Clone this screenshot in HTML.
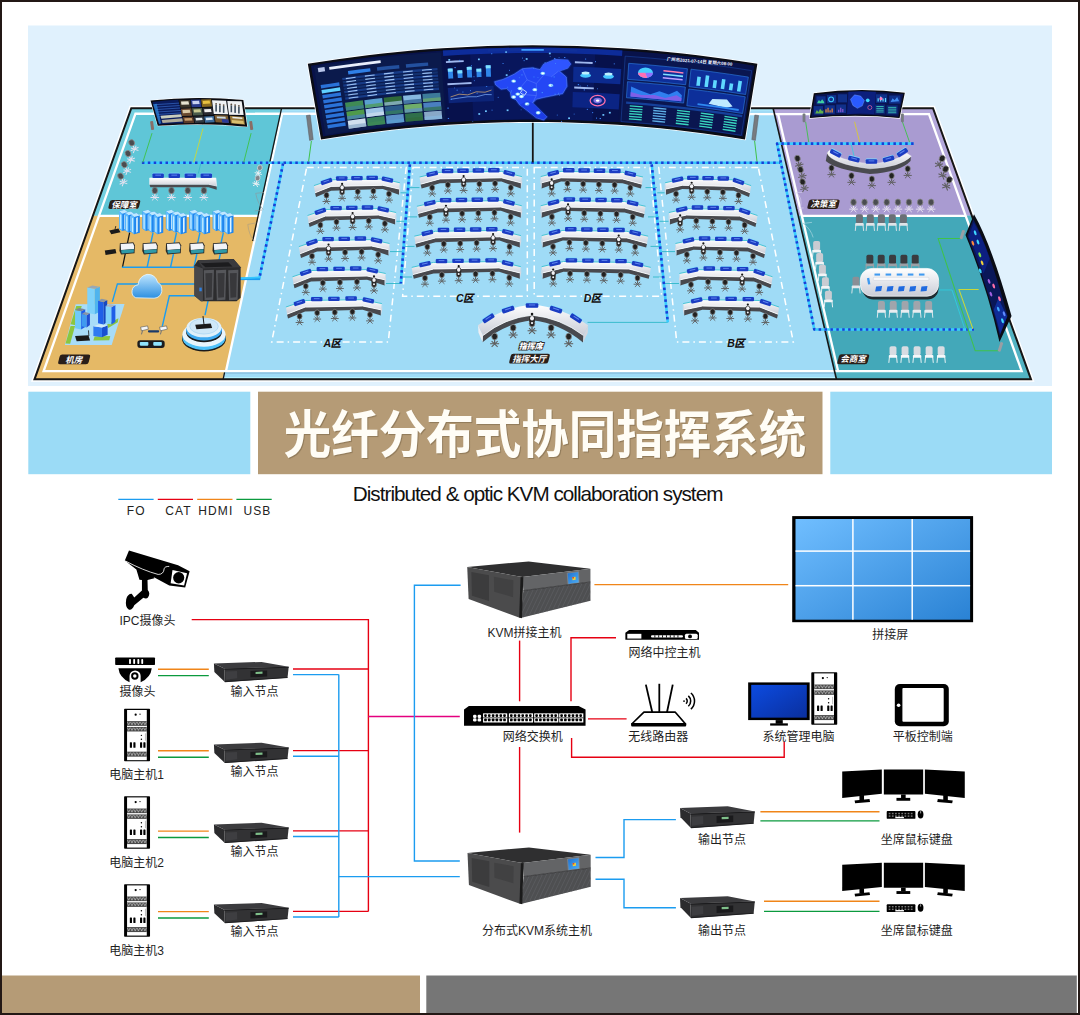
<!DOCTYPE html>
<html lang="zh-CN">
<head>
<meta charset="utf-8">
<title>光纤分布式协同指挥系统</title>
<style>
html,body{margin:0;padding:0;background:#fff;}
body{width:1080px;height:1015px;overflow:hidden;position:relative;font-family:"Liberation Sans","Noto Sans CJK SC",sans-serif;}
svg{position:absolute;left:0;top:0;display:block}
text{font-family:"Liberation Sans","Noto Sans CJK SC",sans-serif;}
.lbl{font-size:12px;fill:#1f1f1f;text-anchor:middle;}
.leg{font-size:12px;fill:#222;text-anchor:middle;letter-spacing:1.1px}
.room{font-size:8.5px;font-weight:700;fill:#fff;font-style:italic;text-anchor:middle}
.zone{font-size:10.5px;font-weight:900;fill:#141010;text-anchor:middle;letter-spacing:-.6px}
.ln{fill:none;stroke-width:1.4}
.r{stroke:#e60012}.b{stroke:#1b9cf0}.o{stroke:#f08519}.g{stroke:#0b9a3e}.m{stroke:#e4007f}
</style>
</head>
<body>
<svg width="1080" height="1015" viewBox="0 0 1080 1015">
<defs>
<linearGradient id="gWall" x1="0" y1="0" x2="1" y2="1"><stop offset="0" stop-color="#70beff"/><stop offset="1" stop-color="#2a82d4"/></linearGradient>
<linearGradient id="gMon" x1="0" y1="0" x2="1" y2="1"><stop offset="0" stop-color="#0c4be0"/><stop offset="1" stop-color="#0a2f9e"/></linearGradient>
<linearGradient id="gScr" x1="0" y1="0" x2="1" y2="1"><stop offset="0" stop-color="#1e6fd0"/><stop offset="1" stop-color="#4fb0f5"/></linearGradient>
<linearGradient id="gBig" x1="0" y1="0" x2="1" y2="0"><stop offset="0" stop-color="#0a1a55"/><stop offset=".5" stop-color="#0b2a8a"/><stop offset="1" stop-color="#0a1a55"/></linearGradient>
<linearGradient id="gCloud" x1="0" y1="0" x2="0" y2="1"><stop offset="0" stop-color="#bfe6ff"/><stop offset="1" stop-color="#2d8fe0"/></linearGradient>
<linearGradient id="gDesk" x1="0" y1="0" x2="0" y2="1"><stop offset="0" stop-color="#ffffff"/><stop offset="1" stop-color="#c9ccd6"/></linearGradient>
<clipPath id="cpBand"><polygon points="494,292 975,232 975,365 474,488"/></clipPath>
</defs>
<!-- frame -->
<rect x="0" y="0" width="1080" height="1015" fill="#fff"/>
<rect x="1" y="1" width="1078" height="1013" fill="none" stroke="#231815" stroke-width="2"/>
<!-- top pale panel -->
<rect x="28" y="25.5" width="1024" height="360.5" fill="#e0f1fd"/>
<g id="scene">
<polygon points="131.3,108.2 933,108.2 1031,379.3 34.5,379.3" fill="none" stroke="#ffffff" stroke-width="5" stroke-linejoin="miter"/>
<polygon points="131.3,108.2 933,108.2 1031,379.3 34.5,379.3" fill="#9fdbf6" />
<polygon points="131.3,108.2 281.6,108.2 258.14,215.8 92.84,215.8" fill="#74d0e0" />
<polygon points="92.84,215.8 258.14,215.8 222.5,379.3 34.5,379.3" fill="#e8bd6e" />
<polygon points="135.47,113.7 282.1,113.7 259.84,215.8 99.04,215.8" fill="#5fc6d7" />
<polygon points="99.04,215.8 259.84,215.8 225.97,371.2 43.59,371.2" fill="#e5b966" />
<polygon points="773.14,108.2 933,108.2 972.03,215.8 798.26,215.8" fill="#b3a7da" />
<polygon points="798.26,215.8 972.03,215.8 1031,379.3 836.44,379.3" fill="#52b3c3" />
<polygon points="778.19,114.4 929.05,114.4 965.63,215.8 801.86,215.8" fill="#a99bd1" />
<polygon points="801.86,215.8 965.63,215.8 1021.68,371.2 838.15,371.2" fill="#43a8b9" />
<polyline points="43.59,371.2 135.47,113.7 928.98,114.2 1021.68,371.2 43.59,371.2 47.59,360" fill="none" stroke="#ffffff" stroke-width="2.3" />
<polyline points="282.1,113.7 225.97,371.2" fill="none" stroke="#ffffff" stroke-width="2.3" />
<polyline points="778.14,114.2 838.15,371.2" fill="none" stroke="#ffffff" stroke-width="2.3" />
<polyline points="99.04,215.8 259.84,215.8" fill="none" stroke="#ffffff" stroke-width="2.3" />
<polyline points="801.86,215.8 965.63,215.8" fill="none" stroke="#ffffff" stroke-width="2.3" />
<polyline points="225.37,373 833.97,373" fill="none" stroke="#6f9fc6" stroke-width="1" opacity=".7"/>
<polyline points="224.37,377.6 835.04,377.6" fill="none" stroke="#b4f2ff" stroke-width="1.2" />
<polyline points="282.25,109.8 772.51,109.8" fill="none" stroke="#b4f2ff" stroke-width="1.2" opacity=".8"/>
<polyline points="224.6,372.4 223.1,379.3" fill="none" stroke="#161616" stroke-width="1.3" />
<polygon points="131.3,108.2 933,108.2 1031,379.3 34.5,379.3" fill="none" stroke="#161616" stroke-width="2" stroke-linejoin="miter"/>
<polyline points="281.6,108.2 252.65,241" fill="none" stroke="#161616" stroke-width="1.3" />
<polyline points="773.14,108.2 836.44,379.3" fill="none" stroke="#161616" stroke-width="1.6" />
<polygon points="306.7,167.5 406.2,167.5 388.3,341.9 271.7,341.9" fill="none" stroke="#ffffff" stroke-width="1.5" stroke-dasharray="7 4 1.5 4"/>
<polygon points="413,167.5 527.3,167.5 527.3,296.2 402.6,296.2" fill="none" stroke="#ffffff" stroke-width="1.5" stroke-dasharray="7 4 1.5 4"/>
<polygon points="758.3,167.5 658.8,167.5 676.7,341.9 793.3,341.9" fill="none" stroke="#ffffff" stroke-width="1.5" stroke-dasharray="7 4 1.5 4"/>
<polygon points="534.2,167.5 650,167.5 661.6,296.2 534.2,296.2" fill="none" stroke="#ffffff" stroke-width="1.5" stroke-dasharray="7 4 1.5 4"/>
<polyline points="400.5,192.8 407.73,192.8" fill="none" stroke="#2fb8c8" stroke-width="0.9" />
<polyline points="664.5,192.8 657.27,192.8" fill="none" stroke="#2fb8c8" stroke-width="0.9" />
<polyline points="396.5,221.3 405.55,221.3" fill="none" stroke="#2fb8c8" stroke-width="0.9" />
<polyline points="668.5,221.3 659.45,221.3" fill="none" stroke="#2fb8c8" stroke-width="0.9" />
<polyline points="390,251.6 403.24,251.6" fill="none" stroke="#2fb8c8" stroke-width="0.9" />
<polyline points="675,251.6 661.76,251.6" fill="none" stroke="#2fb8c8" stroke-width="0.9" />
<polyline points="386,283.5 400.81,283.5" fill="none" stroke="#2fb8c8" stroke-width="0.9" />
<polyline points="679,283.5 664.19,283.5" fill="none" stroke="#2fb8c8" stroke-width="0.9" />
<polyline points="408.12,187.6 419.5,187.6" fill="none" stroke="#2fb8c8" stroke-width="0.9" />
<polyline points="656.88,187.6 645.5,187.6" fill="none" stroke="#2fb8c8" stroke-width="0.9" />
<polyline points="405.89,216.9 417,216.9" fill="none" stroke="#2fb8c8" stroke-width="0.9" />
<polyline points="659.11,216.9 648,216.9" fill="none" stroke="#2fb8c8" stroke-width="0.9" />
<polyline points="403.64,246.4 414.5,246.4" fill="none" stroke="#2fb8c8" stroke-width="0.9" />
<polyline points="661.36,246.4 650.5,246.4" fill="none" stroke="#2fb8c8" stroke-width="0.9" />
<polyline points="401.3,277 412,277" fill="none" stroke="#2fb8c8" stroke-width="0.9" />
<polyline points="663.7,277 653,277" fill="none" stroke="#2fb8c8" stroke-width="0.9" />
<polyline points="587.5,322.4 667.8,322.4" fill="none" stroke="#2fb8c8" stroke-width="0.9" />
<polyline points="141.9,162.8 781,162.8" fill="none" stroke="#38ccff" stroke-width="2.6" stroke-linejoin="round"/><polyline points="141.9,162.8 781,162.8" fill="none" stroke="#1a3ed6" stroke-width="2.6" stroke-dasharray="2.5 3.4" stroke-linejoin="round"/>
<polyline points="283.1,163.4 259.3,278.6" fill="none" stroke="#38ccff" stroke-width="2.6" stroke-linejoin="round"/><polyline points="283.1,163.4 259.3,278.6" fill="none" stroke="#1a3ed6" stroke-width="2.6" stroke-dasharray="2.5 3.4" stroke-linejoin="round"/>
<polyline points="260.2,278.8 239,278.8" fill="none" stroke="#1b9cf0" stroke-width="2.6" />
<polyline points="409.9,164.3 400.8,283.5" fill="none" stroke="#38ccff" stroke-width="2.6" stroke-linejoin="round"/><polyline points="409.9,164.3 400.8,283.5" fill="none" stroke="#1a3ed6" stroke-width="2.6" stroke-dasharray="2.5 3.4" stroke-linejoin="round"/>
<polyline points="651.7,164.3 667.8,322.4" fill="none" stroke="#38ccff" stroke-width="2.6" stroke-linejoin="round"/><polyline points="651.7,164.3 667.8,322.4" fill="none" stroke="#1a3ed6" stroke-width="2.6" stroke-dasharray="2.5 3.4" stroke-linejoin="round"/>
<polyline points="913.6,143.6 777.1,143.6 814.3,329.5 974,329.5" fill="none" stroke="#38ccff" stroke-width="2.6" stroke-linejoin="round"/><polyline points="913.6,143.6 777.1,143.6 814.3,329.5 974,329.5" fill="none" stroke="#1a3ed6" stroke-width="2.6" stroke-dasharray="2.5 3.4" stroke-linejoin="round"/>
<polyline points="532.8,122 532.8,162.4" fill="none" stroke="#151515" stroke-width="1.8" />
<polyline points="311.4,141 308.6,161.5" fill="none" stroke="#3fc24a" stroke-width="1" />
<polyline points="754.6,141 757,161.5" fill="none" stroke="#3fc24a" stroke-width="1" />
<polygon points="315,192.8 331.12,186.4 382.78,185.3 399,189 399,194.8 382.78,189.1 331.12,190.8 316,197" fill="#48494e" /><polygon points="399,189 400.3,183.8 400.3,188.8 399,194.8" fill="#d7d9e2" /><polygon points="313.9,185.6 331.12,179.8 382.78,178.9 400,182.8 399,189 382.78,185.3 331.12,186.4 315,192.8" fill="url(#gDesk)" /><polyline points="315,192.8 331.12,186.4 382.78,185.3 399,189" fill="none" stroke="#ffffff" stroke-width="0.9" /><polyline points="313.9,185.6 331.12,179.8 382.78,178.9 400,182.8" fill="none" stroke="#45c4d6" stroke-width="1" /><g transform="translate(326.51 181.5) rotate(-18.61)"><rect x="-5.75" y="-2.9" width="11.5" height="4.4" rx="1.2" fill="#7fdcff"/><rect x="-5.75" y="-2.2" width="11.5" height="4.4" rx="1.1" fill="#1b3cc2"/><rect x="-2.88" y="-1" width="5.75" height="1" fill="#5f86ee"/></g><g transform="translate(341.73 178.45) rotate(0)"><rect x="-5.75" y="-2.9" width="11.5" height="4.4" rx="1.2" fill="#7fdcff"/><rect x="-5.75" y="-2.2" width="11.5" height="4.4" rx="1.1" fill="#1b3cc2"/><rect x="-2.88" y="-1" width="5.75" height="1" fill="#5f86ee"/></g><g transform="translate(356.95 178.15) rotate(0)"><rect x="-5.75" y="-2.9" width="11.5" height="4.4" rx="1.2" fill="#7fdcff"/><rect x="-5.75" y="-2.2" width="11.5" height="4.4" rx="1.1" fill="#1b3cc2"/><rect x="-2.88" y="-1" width="5.75" height="1" fill="#5f86ee"/></g><g transform="translate(372.17 177.85) rotate(0)"><rect x="-5.75" y="-2.9" width="11.5" height="4.4" rx="1.2" fill="#7fdcff"/><rect x="-5.75" y="-2.2" width="11.5" height="4.4" rx="1.1" fill="#1b3cc2"/><rect x="-2.88" y="-1" width="5.75" height="1" fill="#5f86ee"/></g><g transform="translate(387.39 179.65) rotate(12.76)"><rect x="-5.75" y="-2.9" width="11.5" height="4.4" rx="1.2" fill="#7fdcff"/><rect x="-5.75" y="-2.2" width="11.5" height="4.4" rx="1.1" fill="#1b3cc2"/><rect x="-2.88" y="-1" width="5.75" height="1" fill="#5f86ee"/></g><line x1="326.49" y1="197.19" x2="326.49" y2="200.79" stroke="#5e5e5e" stroke-width="1.1"/><line x1="322.59" y1="201.49" x2="330.39" y2="201.49" stroke="#5e5e5e" stroke-width="0.9"/><line x1="323.89" y1="199.19" x2="329.09" y2="204.19" stroke="#5e5e5e" stroke-width="0.9"/><line x1="329.09" y1="199.19" x2="323.89" y2="204.19" stroke="#5e5e5e" stroke-width="0.9"/><ellipse cx="326.49" cy="195.19" rx="2.5" ry="2.9" fill="#222222" stroke="#8a8a8a" stroke-width="0.7"/><line x1="342.11" y1="194.09" x2="342.11" y2="197.69" stroke="#5e5e5e" stroke-width="1.1"/><line x1="338.21" y1="198.39" x2="346.01" y2="198.39" stroke="#5e5e5e" stroke-width="0.9"/><line x1="339.51" y1="196.09" x2="344.71" y2="201.09" stroke="#5e5e5e" stroke-width="0.9"/><line x1="344.71" y1="196.09" x2="339.51" y2="201.09" stroke="#5e5e5e" stroke-width="0.9"/><ellipse cx="342.11" cy="192.09" rx="2.5" ry="2.9" fill="#222222" stroke="#8a8a8a" stroke-width="0.7"/><ellipse cx="342.11" cy="188.69" rx="2.6" ry="3.6" fill="#2a2a2a"/><ellipse cx="342.11" cy="187.49" rx="1.7" ry="2" fill="#f2f2f6"/><circle cx="342.11" cy="183.89" r="1.1" fill="#151515"/><circle cx="342.11" cy="191.69" r="1" fill="#f2f2f6"/><line x1="357.73" y1="193.52" x2="357.73" y2="197.12" stroke="#5e5e5e" stroke-width="1.1"/><line x1="353.83" y1="197.82" x2="361.63" y2="197.82" stroke="#5e5e5e" stroke-width="0.9"/><line x1="355.13" y1="195.52" x2="360.33" y2="200.52" stroke="#5e5e5e" stroke-width="0.9"/><line x1="360.33" y1="195.52" x2="355.13" y2="200.52" stroke="#5e5e5e" stroke-width="0.9"/><ellipse cx="357.73" cy="191.52" rx="2.5" ry="2.9" fill="#222222" stroke="#8a8a8a" stroke-width="0.7"/><line x1="373.35" y1="192.96" x2="373.35" y2="196.56" stroke="#5e5e5e" stroke-width="1.1"/><line x1="369.45" y1="197.25" x2="377.25" y2="197.25" stroke="#5e5e5e" stroke-width="0.9"/><line x1="370.75" y1="194.96" x2="375.95" y2="199.96" stroke="#5e5e5e" stroke-width="0.9"/><line x1="375.95" y1="194.96" x2="370.75" y2="199.96" stroke="#5e5e5e" stroke-width="0.9"/><ellipse cx="373.35" cy="190.96" rx="2.5" ry="2.9" fill="#222222" stroke="#8a8a8a" stroke-width="0.7"/><line x1="388.97" y1="195.84" x2="388.97" y2="199.44" stroke="#5e5e5e" stroke-width="1.1"/><line x1="385.07" y1="200.13" x2="392.87" y2="200.13" stroke="#5e5e5e" stroke-width="0.9"/><line x1="386.37" y1="197.84" x2="391.57" y2="202.84" stroke="#5e5e5e" stroke-width="0.9"/><line x1="391.57" y1="197.84" x2="386.37" y2="202.84" stroke="#5e5e5e" stroke-width="0.9"/><ellipse cx="388.97" cy="193.84" rx="2.5" ry="2.9" fill="#222222" stroke="#8a8a8a" stroke-width="0.7"/>
<g transform="translate(1065 0) scale(-1 1)"><polygon points="315,192.8 331.12,186.4 382.78,185.3 399,189 399,194.8 382.78,189.1 331.12,190.8 316,197" fill="#48494e" /><polygon points="399,189 400.3,183.8 400.3,188.8 399,194.8" fill="#d7d9e2" /><polygon points="313.9,185.6 331.12,179.8 382.78,178.9 400,182.8 399,189 382.78,185.3 331.12,186.4 315,192.8" fill="url(#gDesk)" /><polyline points="315,192.8 331.12,186.4 382.78,185.3 399,189" fill="none" stroke="#ffffff" stroke-width="0.9" /><polyline points="313.9,185.6 331.12,179.8 382.78,178.9 400,182.8" fill="none" stroke="#45c4d6" stroke-width="1" /><g transform="translate(326.51 181.5) rotate(-18.61)"><rect x="-5.75" y="-2.9" width="11.5" height="4.4" rx="1.2" fill="#7fdcff"/><rect x="-5.75" y="-2.2" width="11.5" height="4.4" rx="1.1" fill="#1b3cc2"/><rect x="-2.88" y="-1" width="5.75" height="1" fill="#5f86ee"/></g><g transform="translate(341.73 178.45) rotate(0)"><rect x="-5.75" y="-2.9" width="11.5" height="4.4" rx="1.2" fill="#7fdcff"/><rect x="-5.75" y="-2.2" width="11.5" height="4.4" rx="1.1" fill="#1b3cc2"/><rect x="-2.88" y="-1" width="5.75" height="1" fill="#5f86ee"/></g><g transform="translate(356.95 178.15) rotate(0)"><rect x="-5.75" y="-2.9" width="11.5" height="4.4" rx="1.2" fill="#7fdcff"/><rect x="-5.75" y="-2.2" width="11.5" height="4.4" rx="1.1" fill="#1b3cc2"/><rect x="-2.88" y="-1" width="5.75" height="1" fill="#5f86ee"/></g><g transform="translate(372.17 177.85) rotate(0)"><rect x="-5.75" y="-2.9" width="11.5" height="4.4" rx="1.2" fill="#7fdcff"/><rect x="-5.75" y="-2.2" width="11.5" height="4.4" rx="1.1" fill="#1b3cc2"/><rect x="-2.88" y="-1" width="5.75" height="1" fill="#5f86ee"/></g><g transform="translate(387.39 179.65) rotate(12.76)"><rect x="-5.75" y="-2.9" width="11.5" height="4.4" rx="1.2" fill="#7fdcff"/><rect x="-5.75" y="-2.2" width="11.5" height="4.4" rx="1.1" fill="#1b3cc2"/><rect x="-2.88" y="-1" width="5.75" height="1" fill="#5f86ee"/></g><line x1="326.49" y1="197.19" x2="326.49" y2="200.79" stroke="#5e5e5e" stroke-width="1.1"/><line x1="322.59" y1="201.49" x2="330.39" y2="201.49" stroke="#5e5e5e" stroke-width="0.9"/><line x1="323.89" y1="199.19" x2="329.09" y2="204.19" stroke="#5e5e5e" stroke-width="0.9"/><line x1="329.09" y1="199.19" x2="323.89" y2="204.19" stroke="#5e5e5e" stroke-width="0.9"/><ellipse cx="326.49" cy="195.19" rx="2.5" ry="2.9" fill="#222222" stroke="#8a8a8a" stroke-width="0.7"/><line x1="342.11" y1="194.09" x2="342.11" y2="197.69" stroke="#5e5e5e" stroke-width="1.1"/><line x1="338.21" y1="198.39" x2="346.01" y2="198.39" stroke="#5e5e5e" stroke-width="0.9"/><line x1="339.51" y1="196.09" x2="344.71" y2="201.09" stroke="#5e5e5e" stroke-width="0.9"/><line x1="344.71" y1="196.09" x2="339.51" y2="201.09" stroke="#5e5e5e" stroke-width="0.9"/><ellipse cx="342.11" cy="192.09" rx="2.5" ry="2.9" fill="#222222" stroke="#8a8a8a" stroke-width="0.7"/><line x1="357.73" y1="193.52" x2="357.73" y2="197.12" stroke="#5e5e5e" stroke-width="1.1"/><line x1="353.83" y1="197.82" x2="361.63" y2="197.82" stroke="#5e5e5e" stroke-width="0.9"/><line x1="355.13" y1="195.52" x2="360.33" y2="200.52" stroke="#5e5e5e" stroke-width="0.9"/><line x1="360.33" y1="195.52" x2="355.13" y2="200.52" stroke="#5e5e5e" stroke-width="0.9"/><ellipse cx="357.73" cy="191.52" rx="2.5" ry="2.9" fill="#222222" stroke="#8a8a8a" stroke-width="0.7"/><line x1="373.35" y1="192.96" x2="373.35" y2="196.56" stroke="#5e5e5e" stroke-width="1.1"/><line x1="369.45" y1="197.25" x2="377.25" y2="197.25" stroke="#5e5e5e" stroke-width="0.9"/><line x1="370.75" y1="194.96" x2="375.95" y2="199.96" stroke="#5e5e5e" stroke-width="0.9"/><line x1="375.95" y1="194.96" x2="370.75" y2="199.96" stroke="#5e5e5e" stroke-width="0.9"/><ellipse cx="373.35" cy="190.96" rx="2.5" ry="2.9" fill="#222222" stroke="#8a8a8a" stroke-width="0.7"/><ellipse cx="373.35" cy="187.56" rx="2.6" ry="3.6" fill="#2a2a2a"/><ellipse cx="373.35" cy="186.36" rx="1.7" ry="2" fill="#f2f2f6"/><circle cx="373.35" cy="182.76" r="1.1" fill="#151515"/><circle cx="373.35" cy="190.56" r="1" fill="#f2f2f6"/><line x1="388.97" y1="195.84" x2="388.97" y2="199.44" stroke="#5e5e5e" stroke-width="1.1"/><line x1="385.07" y1="200.13" x2="392.87" y2="200.13" stroke="#5e5e5e" stroke-width="0.9"/><line x1="386.37" y1="197.84" x2="391.57" y2="202.84" stroke="#5e5e5e" stroke-width="0.9"/><line x1="391.57" y1="197.84" x2="386.37" y2="202.84" stroke="#5e5e5e" stroke-width="0.9"/><ellipse cx="388.97" cy="193.84" rx="2.5" ry="2.9" fill="#222222" stroke="#8a8a8a" stroke-width="0.7"/></g>
<polygon points="308.6,222.7 325.22,216.1 378.38,215 395.1,218.7 395.1,224.5 378.38,218.8 325.22,220.5 309.6,226.9" fill="#48494e" /><polygon points="395.1,218.7 396.4,213.5 396.4,218.5 395.1,224.5" fill="#d7d9e2" /><polygon points="307.5,215.5 325.22,209.5 378.38,208.6 396.1,212.5 395.1,218.7 378.38,215 325.22,216.1 308.6,222.7" fill="url(#gDesk)" /><polyline points="308.6,222.7 325.22,216.1 378.38,215 395.1,218.7" fill="none" stroke="#ffffff" stroke-width="0.9" /><polyline points="307.5,215.5 325.22,209.5 378.38,208.6 396.1,212.5" fill="none" stroke="#45c4d6" stroke-width="1" /><g transform="translate(320.36 211.3) rotate(-18.71)"><rect x="-5.75" y="-2.9" width="11.5" height="4.4" rx="1.2" fill="#7fdcff"/><rect x="-5.75" y="-2.2" width="11.5" height="4.4" rx="1.1" fill="#1b3cc2"/><rect x="-2.88" y="-1" width="5.75" height="1" fill="#5f86ee"/></g><g transform="translate(336.08 208.15) rotate(0)"><rect x="-5.75" y="-2.9" width="11.5" height="4.4" rx="1.2" fill="#7fdcff"/><rect x="-5.75" y="-2.2" width="11.5" height="4.4" rx="1.1" fill="#1b3cc2"/><rect x="-2.88" y="-1" width="5.75" height="1" fill="#5f86ee"/></g><g transform="translate(351.8 207.85) rotate(0)"><rect x="-5.75" y="-2.9" width="11.5" height="4.4" rx="1.2" fill="#7fdcff"/><rect x="-5.75" y="-2.2" width="11.5" height="4.4" rx="1.1" fill="#1b3cc2"/><rect x="-2.88" y="-1" width="5.75" height="1" fill="#5f86ee"/></g><g transform="translate(367.52 207.55) rotate(0)"><rect x="-5.75" y="-2.9" width="11.5" height="4.4" rx="1.2" fill="#7fdcff"/><rect x="-5.75" y="-2.2" width="11.5" height="4.4" rx="1.1" fill="#1b3cc2"/><rect x="-2.88" y="-1" width="5.75" height="1" fill="#5f86ee"/></g><g transform="translate(383.24 209.35) rotate(12.41)"><rect x="-5.75" y="-2.9" width="11.5" height="4.4" rx="1.2" fill="#7fdcff"/><rect x="-5.75" y="-2.2" width="11.5" height="4.4" rx="1.1" fill="#1b3cc2"/><rect x="-2.88" y="-1" width="5.75" height="1" fill="#5f86ee"/></g><line x1="320.37" y1="226.98" x2="320.37" y2="230.58" stroke="#5e5e5e" stroke-width="1.1"/><line x1="316.47" y1="231.28" x2="324.27" y2="231.28" stroke="#5e5e5e" stroke-width="0.9"/><line x1="317.77" y1="228.98" x2="322.97" y2="233.98" stroke="#5e5e5e" stroke-width="0.9"/><line x1="322.97" y1="228.98" x2="317.77" y2="233.98" stroke="#5e5e5e" stroke-width="0.9"/><ellipse cx="320.37" cy="224.98" rx="2.5" ry="2.9" fill="#222222" stroke="#8a8a8a" stroke-width="0.7"/><line x1="336.49" y1="223.79" x2="336.49" y2="227.39" stroke="#5e5e5e" stroke-width="1.1"/><line x1="332.59" y1="228.09" x2="340.39" y2="228.09" stroke="#5e5e5e" stroke-width="0.9"/><line x1="333.89" y1="225.79" x2="339.09" y2="230.79" stroke="#5e5e5e" stroke-width="0.9"/><line x1="339.09" y1="225.79" x2="333.89" y2="230.79" stroke="#5e5e5e" stroke-width="0.9"/><ellipse cx="336.49" cy="221.79" rx="2.5" ry="2.9" fill="#222222" stroke="#8a8a8a" stroke-width="0.7"/><line x1="352.61" y1="223.22" x2="352.61" y2="226.82" stroke="#5e5e5e" stroke-width="1.1"/><line x1="348.71" y1="227.52" x2="356.51" y2="227.52" stroke="#5e5e5e" stroke-width="0.9"/><line x1="350.01" y1="225.22" x2="355.21" y2="230.22" stroke="#5e5e5e" stroke-width="0.9"/><line x1="355.21" y1="225.22" x2="350.01" y2="230.22" stroke="#5e5e5e" stroke-width="0.9"/><ellipse cx="352.61" cy="221.22" rx="2.5" ry="2.9" fill="#222222" stroke="#8a8a8a" stroke-width="0.7"/><ellipse cx="352.61" cy="217.82" rx="2.6" ry="3.6" fill="#2a2a2a"/><ellipse cx="352.61" cy="216.62" rx="1.7" ry="2" fill="#f2f2f6"/><circle cx="352.61" cy="213.02" r="1.1" fill="#151515"/><circle cx="352.61" cy="220.82" r="1" fill="#f2f2f6"/><line x1="368.73" y1="222.66" x2="368.73" y2="226.25" stroke="#5e5e5e" stroke-width="1.1"/><line x1="364.83" y1="226.95" x2="372.63" y2="226.95" stroke="#5e5e5e" stroke-width="0.9"/><line x1="366.13" y1="224.66" x2="371.33" y2="229.66" stroke="#5e5e5e" stroke-width="0.9"/><line x1="371.33" y1="224.66" x2="366.13" y2="229.66" stroke="#5e5e5e" stroke-width="0.9"/><ellipse cx="368.73" cy="220.66" rx="2.5" ry="2.9" fill="#222222" stroke="#8a8a8a" stroke-width="0.7"/><line x1="384.85" y1="225.53" x2="384.85" y2="229.13" stroke="#5e5e5e" stroke-width="1.1"/><line x1="380.95" y1="229.83" x2="388.75" y2="229.83" stroke="#5e5e5e" stroke-width="0.9"/><line x1="382.25" y1="227.53" x2="387.45" y2="232.53" stroke="#5e5e5e" stroke-width="0.9"/><line x1="387.45" y1="227.53" x2="382.25" y2="232.53" stroke="#5e5e5e" stroke-width="0.9"/><ellipse cx="384.85" cy="223.53" rx="2.5" ry="2.9" fill="#222222" stroke="#8a8a8a" stroke-width="0.7"/>
<g transform="translate(1065 0) scale(-1 1)"><polygon points="308.6,222.7 325.22,216.1 378.38,215 395.1,218.7 395.1,224.5 378.38,218.8 325.22,220.5 309.6,226.9" fill="#48494e" /><polygon points="395.1,218.7 396.4,213.5 396.4,218.5 395.1,224.5" fill="#d7d9e2" /><polygon points="307.5,215.5 325.22,209.5 378.38,208.6 396.1,212.5 395.1,218.7 378.38,215 325.22,216.1 308.6,222.7" fill="url(#gDesk)" /><polyline points="308.6,222.7 325.22,216.1 378.38,215 395.1,218.7" fill="none" stroke="#ffffff" stroke-width="0.9" /><polyline points="307.5,215.5 325.22,209.5 378.38,208.6 396.1,212.5" fill="none" stroke="#45c4d6" stroke-width="1" /><g transform="translate(320.36 211.3) rotate(-18.71)"><rect x="-5.75" y="-2.9" width="11.5" height="4.4" rx="1.2" fill="#7fdcff"/><rect x="-5.75" y="-2.2" width="11.5" height="4.4" rx="1.1" fill="#1b3cc2"/><rect x="-2.88" y="-1" width="5.75" height="1" fill="#5f86ee"/></g><g transform="translate(336.08 208.15) rotate(0)"><rect x="-5.75" y="-2.9" width="11.5" height="4.4" rx="1.2" fill="#7fdcff"/><rect x="-5.75" y="-2.2" width="11.5" height="4.4" rx="1.1" fill="#1b3cc2"/><rect x="-2.88" y="-1" width="5.75" height="1" fill="#5f86ee"/></g><g transform="translate(351.8 207.85) rotate(0)"><rect x="-5.75" y="-2.9" width="11.5" height="4.4" rx="1.2" fill="#7fdcff"/><rect x="-5.75" y="-2.2" width="11.5" height="4.4" rx="1.1" fill="#1b3cc2"/><rect x="-2.88" y="-1" width="5.75" height="1" fill="#5f86ee"/></g><g transform="translate(367.52 207.55) rotate(0)"><rect x="-5.75" y="-2.9" width="11.5" height="4.4" rx="1.2" fill="#7fdcff"/><rect x="-5.75" y="-2.2" width="11.5" height="4.4" rx="1.1" fill="#1b3cc2"/><rect x="-2.88" y="-1" width="5.75" height="1" fill="#5f86ee"/></g><g transform="translate(383.24 209.35) rotate(12.41)"><rect x="-5.75" y="-2.9" width="11.5" height="4.4" rx="1.2" fill="#7fdcff"/><rect x="-5.75" y="-2.2" width="11.5" height="4.4" rx="1.1" fill="#1b3cc2"/><rect x="-2.88" y="-1" width="5.75" height="1" fill="#5f86ee"/></g><line x1="320.37" y1="226.98" x2="320.37" y2="230.58" stroke="#5e5e5e" stroke-width="1.1"/><line x1="316.47" y1="231.28" x2="324.27" y2="231.28" stroke="#5e5e5e" stroke-width="0.9"/><line x1="317.77" y1="228.98" x2="322.97" y2="233.98" stroke="#5e5e5e" stroke-width="0.9"/><line x1="322.97" y1="228.98" x2="317.77" y2="233.98" stroke="#5e5e5e" stroke-width="0.9"/><ellipse cx="320.37" cy="224.98" rx="2.5" ry="2.9" fill="#222222" stroke="#8a8a8a" stroke-width="0.7"/><line x1="336.49" y1="223.79" x2="336.49" y2="227.39" stroke="#5e5e5e" stroke-width="1.1"/><line x1="332.59" y1="228.09" x2="340.39" y2="228.09" stroke="#5e5e5e" stroke-width="0.9"/><line x1="333.89" y1="225.79" x2="339.09" y2="230.79" stroke="#5e5e5e" stroke-width="0.9"/><line x1="339.09" y1="225.79" x2="333.89" y2="230.79" stroke="#5e5e5e" stroke-width="0.9"/><ellipse cx="336.49" cy="221.79" rx="2.5" ry="2.9" fill="#222222" stroke="#8a8a8a" stroke-width="0.7"/><line x1="352.61" y1="223.22" x2="352.61" y2="226.82" stroke="#5e5e5e" stroke-width="1.1"/><line x1="348.71" y1="227.52" x2="356.51" y2="227.52" stroke="#5e5e5e" stroke-width="0.9"/><line x1="350.01" y1="225.22" x2="355.21" y2="230.22" stroke="#5e5e5e" stroke-width="0.9"/><line x1="355.21" y1="225.22" x2="350.01" y2="230.22" stroke="#5e5e5e" stroke-width="0.9"/><ellipse cx="352.61" cy="221.22" rx="2.5" ry="2.9" fill="#222222" stroke="#8a8a8a" stroke-width="0.7"/><line x1="368.73" y1="222.66" x2="368.73" y2="226.25" stroke="#5e5e5e" stroke-width="1.1"/><line x1="364.83" y1="226.95" x2="372.63" y2="226.95" stroke="#5e5e5e" stroke-width="0.9"/><line x1="366.13" y1="224.66" x2="371.33" y2="229.66" stroke="#5e5e5e" stroke-width="0.9"/><line x1="371.33" y1="224.66" x2="366.13" y2="229.66" stroke="#5e5e5e" stroke-width="0.9"/><ellipse cx="368.73" cy="220.66" rx="2.5" ry="2.9" fill="#222222" stroke="#8a8a8a" stroke-width="0.7"/><line x1="384.85" y1="225.53" x2="384.85" y2="229.13" stroke="#5e5e5e" stroke-width="1.1"/><line x1="380.95" y1="229.83" x2="388.75" y2="229.83" stroke="#5e5e5e" stroke-width="0.9"/><line x1="382.25" y1="227.53" x2="387.45" y2="232.53" stroke="#5e5e5e" stroke-width="0.9"/><line x1="387.45" y1="227.53" x2="382.25" y2="232.53" stroke="#5e5e5e" stroke-width="0.9"/><ellipse cx="384.85" cy="223.53" rx="2.5" ry="2.9" fill="#222222" stroke="#8a8a8a" stroke-width="0.7"/><ellipse cx="384.85" cy="220.13" rx="2.6" ry="3.6" fill="#2a2a2a"/><ellipse cx="384.85" cy="218.94" rx="1.7" ry="2" fill="#f2f2f6"/><circle cx="384.85" cy="215.34" r="1.1" fill="#151515"/><circle cx="384.85" cy="223.13" r="1" fill="#f2f2f6"/></g>
<polygon points="300,253.8 317.04,247.1 371.46,246 388.6,249.7 388.6,255.5 371.46,249.8 317.04,251.5 301,258" fill="#48494e" /><polygon points="388.6,249.7 389.9,244.5 389.9,249.5 388.6,255.5" fill="#d7d9e2" /><polygon points="298.9,246.6 317.04,240.5 371.46,239.6 389.6,243.5 388.6,249.7 371.46,246 317.04,247.1 300,253.8" fill="url(#gDesk)" /><polyline points="300,253.8 317.04,247.1 371.46,246 388.6,249.7" fill="none" stroke="#ffffff" stroke-width="0.9" /><polyline points="298.9,246.6 317.04,240.5 371.46,239.6 389.6,243.5" fill="none" stroke="#45c4d6" stroke-width="1" /><g transform="translate(311.97 242.35) rotate(-18.59)"><rect x="-5.75" y="-2.9" width="11.5" height="4.4" rx="1.2" fill="#7fdcff"/><rect x="-5.75" y="-2.2" width="11.5" height="4.4" rx="1.1" fill="#1b3cc2"/><rect x="-2.88" y="-1" width="5.75" height="1" fill="#5f86ee"/></g><g transform="translate(328.11 239.15) rotate(0)"><rect x="-5.75" y="-2.9" width="11.5" height="4.4" rx="1.2" fill="#7fdcff"/><rect x="-5.75" y="-2.2" width="11.5" height="4.4" rx="1.1" fill="#1b3cc2"/><rect x="-2.88" y="-1" width="5.75" height="1" fill="#5f86ee"/></g><g transform="translate(344.25 238.85) rotate(0)"><rect x="-5.75" y="-2.9" width="11.5" height="4.4" rx="1.2" fill="#7fdcff"/><rect x="-5.75" y="-2.2" width="11.5" height="4.4" rx="1.1" fill="#1b3cc2"/><rect x="-2.88" y="-1" width="5.75" height="1" fill="#5f86ee"/></g><g transform="translate(360.39 238.55) rotate(0)"><rect x="-5.75" y="-2.9" width="11.5" height="4.4" rx="1.2" fill="#7fdcff"/><rect x="-5.75" y="-2.2" width="11.5" height="4.4" rx="1.1" fill="#1b3cc2"/><rect x="-2.88" y="-1" width="5.75" height="1" fill="#5f86ee"/></g><g transform="translate(376.53 240.35) rotate(12.13)"><rect x="-5.75" y="-2.9" width="11.5" height="4.4" rx="1.2" fill="#7fdcff"/><rect x="-5.75" y="-2.2" width="11.5" height="4.4" rx="1.1" fill="#1b3cc2"/><rect x="-2.88" y="-1" width="5.75" height="1" fill="#5f86ee"/></g><line x1="312" y1="258.03" x2="312" y2="261.63" stroke="#5e5e5e" stroke-width="1.1"/><line x1="308.1" y1="262.33" x2="315.9" y2="262.33" stroke="#5e5e5e" stroke-width="0.9"/><line x1="309.4" y1="260.03" x2="314.6" y2="265.03" stroke="#5e5e5e" stroke-width="0.9"/><line x1="314.6" y1="260.03" x2="309.4" y2="265.03" stroke="#5e5e5e" stroke-width="0.9"/><ellipse cx="312" cy="256.03" rx="2.5" ry="2.9" fill="#222222" stroke="#8a8a8a" stroke-width="0.7"/><line x1="328.54" y1="254.79" x2="328.54" y2="258.39" stroke="#5e5e5e" stroke-width="1.1"/><line x1="324.64" y1="259.09" x2="332.44" y2="259.09" stroke="#5e5e5e" stroke-width="0.9"/><line x1="325.94" y1="256.79" x2="331.14" y2="261.79" stroke="#5e5e5e" stroke-width="0.9"/><line x1="331.14" y1="256.79" x2="325.94" y2="261.79" stroke="#5e5e5e" stroke-width="0.9"/><ellipse cx="328.54" cy="252.79" rx="2.5" ry="2.9" fill="#222222" stroke="#8a8a8a" stroke-width="0.7"/><ellipse cx="328.54" cy="249.39" rx="2.6" ry="3.6" fill="#2a2a2a"/><ellipse cx="328.54" cy="248.19" rx="1.7" ry="2" fill="#f2f2f6"/><circle cx="328.54" cy="244.59" r="1.1" fill="#151515"/><circle cx="328.54" cy="252.39" r="1" fill="#f2f2f6"/><line x1="345.08" y1="254.22" x2="345.08" y2="257.82" stroke="#5e5e5e" stroke-width="1.1"/><line x1="341.18" y1="258.52" x2="348.98" y2="258.52" stroke="#5e5e5e" stroke-width="0.9"/><line x1="342.48" y1="256.22" x2="347.68" y2="261.22" stroke="#5e5e5e" stroke-width="0.9"/><line x1="347.68" y1="256.22" x2="342.48" y2="261.22" stroke="#5e5e5e" stroke-width="0.9"/><ellipse cx="345.08" cy="252.22" rx="2.5" ry="2.9" fill="#222222" stroke="#8a8a8a" stroke-width="0.7"/><line x1="361.62" y1="253.66" x2="361.62" y2="257.25" stroke="#5e5e5e" stroke-width="1.1"/><line x1="357.72" y1="257.95" x2="365.52" y2="257.95" stroke="#5e5e5e" stroke-width="0.9"/><line x1="359.02" y1="255.66" x2="364.22" y2="260.65" stroke="#5e5e5e" stroke-width="0.9"/><line x1="364.22" y1="255.66" x2="359.02" y2="260.65" stroke="#5e5e5e" stroke-width="0.9"/><ellipse cx="361.62" cy="251.66" rx="2.5" ry="2.9" fill="#222222" stroke="#8a8a8a" stroke-width="0.7"/><line x1="378.16" y1="256.53" x2="378.16" y2="260.13" stroke="#5e5e5e" stroke-width="1.1"/><line x1="374.26" y1="260.83" x2="382.06" y2="260.83" stroke="#5e5e5e" stroke-width="0.9"/><line x1="375.56" y1="258.53" x2="380.76" y2="263.53" stroke="#5e5e5e" stroke-width="0.9"/><line x1="380.76" y1="258.53" x2="375.56" y2="263.53" stroke="#5e5e5e" stroke-width="0.9"/><ellipse cx="378.16" cy="254.53" rx="2.5" ry="2.9" fill="#222222" stroke="#8a8a8a" stroke-width="0.7"/>
<g transform="translate(1065 0) scale(-1 1)"><polygon points="300,253.8 317.04,247.1 371.46,246 388.6,249.7 388.6,255.5 371.46,249.8 317.04,251.5 301,258" fill="#48494e" /><polygon points="388.6,249.7 389.9,244.5 389.9,249.5 388.6,255.5" fill="#d7d9e2" /><polygon points="298.9,246.6 317.04,240.5 371.46,239.6 389.6,243.5 388.6,249.7 371.46,246 317.04,247.1 300,253.8" fill="url(#gDesk)" /><polyline points="300,253.8 317.04,247.1 371.46,246 388.6,249.7" fill="none" stroke="#ffffff" stroke-width="0.9" /><polyline points="298.9,246.6 317.04,240.5 371.46,239.6 389.6,243.5" fill="none" stroke="#45c4d6" stroke-width="1" /><g transform="translate(311.97 242.35) rotate(-18.59)"><rect x="-5.75" y="-2.9" width="11.5" height="4.4" rx="1.2" fill="#7fdcff"/><rect x="-5.75" y="-2.2" width="11.5" height="4.4" rx="1.1" fill="#1b3cc2"/><rect x="-2.88" y="-1" width="5.75" height="1" fill="#5f86ee"/></g><g transform="translate(328.11 239.15) rotate(0)"><rect x="-5.75" y="-2.9" width="11.5" height="4.4" rx="1.2" fill="#7fdcff"/><rect x="-5.75" y="-2.2" width="11.5" height="4.4" rx="1.1" fill="#1b3cc2"/><rect x="-2.88" y="-1" width="5.75" height="1" fill="#5f86ee"/></g><g transform="translate(344.25 238.85) rotate(0)"><rect x="-5.75" y="-2.9" width="11.5" height="4.4" rx="1.2" fill="#7fdcff"/><rect x="-5.75" y="-2.2" width="11.5" height="4.4" rx="1.1" fill="#1b3cc2"/><rect x="-2.88" y="-1" width="5.75" height="1" fill="#5f86ee"/></g><g transform="translate(360.39 238.55) rotate(0)"><rect x="-5.75" y="-2.9" width="11.5" height="4.4" rx="1.2" fill="#7fdcff"/><rect x="-5.75" y="-2.2" width="11.5" height="4.4" rx="1.1" fill="#1b3cc2"/><rect x="-2.88" y="-1" width="5.75" height="1" fill="#5f86ee"/></g><g transform="translate(376.53 240.35) rotate(12.13)"><rect x="-5.75" y="-2.9" width="11.5" height="4.4" rx="1.2" fill="#7fdcff"/><rect x="-5.75" y="-2.2" width="11.5" height="4.4" rx="1.1" fill="#1b3cc2"/><rect x="-2.88" y="-1" width="5.75" height="1" fill="#5f86ee"/></g><line x1="312" y1="258.03" x2="312" y2="261.63" stroke="#5e5e5e" stroke-width="1.1"/><line x1="308.1" y1="262.33" x2="315.9" y2="262.33" stroke="#5e5e5e" stroke-width="0.9"/><line x1="309.4" y1="260.03" x2="314.6" y2="265.03" stroke="#5e5e5e" stroke-width="0.9"/><line x1="314.6" y1="260.03" x2="309.4" y2="265.03" stroke="#5e5e5e" stroke-width="0.9"/><ellipse cx="312" cy="256.03" rx="2.5" ry="2.9" fill="#222222" stroke="#8a8a8a" stroke-width="0.7"/><line x1="328.54" y1="254.79" x2="328.54" y2="258.39" stroke="#5e5e5e" stroke-width="1.1"/><line x1="324.64" y1="259.09" x2="332.44" y2="259.09" stroke="#5e5e5e" stroke-width="0.9"/><line x1="325.94" y1="256.79" x2="331.14" y2="261.79" stroke="#5e5e5e" stroke-width="0.9"/><line x1="331.14" y1="256.79" x2="325.94" y2="261.79" stroke="#5e5e5e" stroke-width="0.9"/><ellipse cx="328.54" cy="252.79" rx="2.5" ry="2.9" fill="#222222" stroke="#8a8a8a" stroke-width="0.7"/><line x1="345.08" y1="254.22" x2="345.08" y2="257.82" stroke="#5e5e5e" stroke-width="1.1"/><line x1="341.18" y1="258.52" x2="348.98" y2="258.52" stroke="#5e5e5e" stroke-width="0.9"/><line x1="342.48" y1="256.22" x2="347.68" y2="261.22" stroke="#5e5e5e" stroke-width="0.9"/><line x1="347.68" y1="256.22" x2="342.48" y2="261.22" stroke="#5e5e5e" stroke-width="0.9"/><ellipse cx="345.08" cy="252.22" rx="2.5" ry="2.9" fill="#222222" stroke="#8a8a8a" stroke-width="0.7"/><line x1="361.62" y1="253.66" x2="361.62" y2="257.25" stroke="#5e5e5e" stroke-width="1.1"/><line x1="357.72" y1="257.95" x2="365.52" y2="257.95" stroke="#5e5e5e" stroke-width="0.9"/><line x1="359.02" y1="255.66" x2="364.22" y2="260.65" stroke="#5e5e5e" stroke-width="0.9"/><line x1="364.22" y1="255.66" x2="359.02" y2="260.65" stroke="#5e5e5e" stroke-width="0.9"/><ellipse cx="361.62" cy="251.66" rx="2.5" ry="2.9" fill="#222222" stroke="#8a8a8a" stroke-width="0.7"/><ellipse cx="361.62" cy="248.25" rx="2.6" ry="3.6" fill="#2a2a2a"/><ellipse cx="361.62" cy="247.06" rx="1.7" ry="2" fill="#f2f2f6"/><circle cx="361.62" cy="243.46" r="1.1" fill="#151515"/><circle cx="361.62" cy="251.25" r="1" fill="#f2f2f6"/><line x1="378.16" y1="256.53" x2="378.16" y2="260.13" stroke="#5e5e5e" stroke-width="1.1"/><line x1="374.26" y1="260.83" x2="382.06" y2="260.83" stroke="#5e5e5e" stroke-width="0.9"/><line x1="375.56" y1="258.53" x2="380.76" y2="263.53" stroke="#5e5e5e" stroke-width="0.9"/><line x1="380.76" y1="258.53" x2="375.56" y2="263.53" stroke="#5e5e5e" stroke-width="0.9"/><ellipse cx="378.16" cy="254.53" rx="2.5" ry="2.9" fill="#222222" stroke="#8a8a8a" stroke-width="0.7"/></g>
<polygon points="293.5,284 311.06,277.1 367.04,276 384.7,279.7 384.7,285.5 367.04,279.8 311.06,281.5 294.5,288.2" fill="#48494e" /><polygon points="384.7,279.7 386,274.5 386,279.5 384.7,285.5" fill="#d7d9e2" /><polygon points="292.4,276.8 311.06,270.5 367.04,269.6 385.7,273.5 384.7,279.7 367.04,276 311.06,277.1 293.5,284" fill="url(#gDesk)" /><polyline points="293.5,284 311.06,277.1 367.04,276 384.7,279.7" fill="none" stroke="#ffffff" stroke-width="0.9" /><polyline points="292.4,276.8 311.06,270.5 367.04,269.6 385.7,273.5" fill="none" stroke="#45c4d6" stroke-width="1" /><g transform="translate(305.73 272.45) rotate(-18.66)"><rect x="-5.75" y="-2.9" width="11.5" height="4.4" rx="1.2" fill="#7fdcff"/><rect x="-5.75" y="-2.2" width="11.5" height="4.4" rx="1.1" fill="#1b3cc2"/><rect x="-2.88" y="-1" width="5.75" height="1" fill="#5f86ee"/></g><g transform="translate(322.39 269.15) rotate(0)"><rect x="-5.75" y="-2.9" width="11.5" height="4.4" rx="1.2" fill="#7fdcff"/><rect x="-5.75" y="-2.2" width="11.5" height="4.4" rx="1.1" fill="#1b3cc2"/><rect x="-2.88" y="-1" width="5.75" height="1" fill="#5f86ee"/></g><g transform="translate(339.05 268.85) rotate(0)"><rect x="-5.75" y="-2.9" width="11.5" height="4.4" rx="1.2" fill="#7fdcff"/><rect x="-5.75" y="-2.2" width="11.5" height="4.4" rx="1.1" fill="#1b3cc2"/><rect x="-2.88" y="-1" width="5.75" height="1" fill="#5f86ee"/></g><g transform="translate(355.71 268.55) rotate(0)"><rect x="-5.75" y="-2.9" width="11.5" height="4.4" rx="1.2" fill="#7fdcff"/><rect x="-5.75" y="-2.2" width="11.5" height="4.4" rx="1.1" fill="#1b3cc2"/><rect x="-2.88" y="-1" width="5.75" height="1" fill="#5f86ee"/></g><g transform="translate(372.37 270.35) rotate(11.81)"><rect x="-5.75" y="-2.9" width="11.5" height="4.4" rx="1.2" fill="#7fdcff"/><rect x="-5.75" y="-2.2" width="11.5" height="4.4" rx="1.1" fill="#1b3cc2"/><rect x="-2.88" y="-1" width="5.75" height="1" fill="#5f86ee"/></g><line x1="305.78" y1="288.12" x2="305.78" y2="291.72" stroke="#5e5e5e" stroke-width="1.1"/><line x1="301.88" y1="292.42" x2="309.68" y2="292.42" stroke="#5e5e5e" stroke-width="0.9"/><line x1="303.18" y1="290.12" x2="308.38" y2="295.12" stroke="#5e5e5e" stroke-width="0.9"/><line x1="308.38" y1="290.12" x2="303.18" y2="295.12" stroke="#5e5e5e" stroke-width="0.9"/><ellipse cx="305.78" cy="286.12" rx="2.5" ry="2.9" fill="#222222" stroke="#8a8a8a" stroke-width="0.7"/><line x1="322.84" y1="284.79" x2="322.84" y2="288.39" stroke="#5e5e5e" stroke-width="1.1"/><line x1="318.94" y1="289.09" x2="326.74" y2="289.09" stroke="#5e5e5e" stroke-width="0.9"/><line x1="320.24" y1="286.79" x2="325.44" y2="291.79" stroke="#5e5e5e" stroke-width="0.9"/><line x1="325.44" y1="286.79" x2="320.24" y2="291.79" stroke="#5e5e5e" stroke-width="0.9"/><ellipse cx="322.84" cy="282.79" rx="2.5" ry="2.9" fill="#222222" stroke="#8a8a8a" stroke-width="0.7"/><line x1="339.9" y1="284.22" x2="339.9" y2="287.82" stroke="#5e5e5e" stroke-width="1.1"/><line x1="336" y1="288.52" x2="343.8" y2="288.52" stroke="#5e5e5e" stroke-width="0.9"/><line x1="337.3" y1="286.22" x2="342.5" y2="291.22" stroke="#5e5e5e" stroke-width="0.9"/><line x1="342.5" y1="286.22" x2="337.3" y2="291.22" stroke="#5e5e5e" stroke-width="0.9"/><ellipse cx="339.9" cy="282.22" rx="2.5" ry="2.9" fill="#222222" stroke="#8a8a8a" stroke-width="0.7"/><line x1="356.96" y1="283.66" x2="356.96" y2="287.26" stroke="#5e5e5e" stroke-width="1.1"/><line x1="353.06" y1="287.96" x2="360.86" y2="287.96" stroke="#5e5e5e" stroke-width="0.9"/><line x1="354.36" y1="285.66" x2="359.56" y2="290.66" stroke="#5e5e5e" stroke-width="0.9"/><line x1="359.56" y1="285.66" x2="354.36" y2="290.66" stroke="#5e5e5e" stroke-width="0.9"/><ellipse cx="356.96" cy="281.66" rx="2.5" ry="2.9" fill="#222222" stroke="#8a8a8a" stroke-width="0.7"/><line x1="374.02" y1="286.54" x2="374.02" y2="290.14" stroke="#5e5e5e" stroke-width="1.1"/><line x1="370.12" y1="290.84" x2="377.92" y2="290.84" stroke="#5e5e5e" stroke-width="0.9"/><line x1="371.42" y1="288.54" x2="376.62" y2="293.54" stroke="#5e5e5e" stroke-width="0.9"/><line x1="376.62" y1="288.54" x2="371.42" y2="293.54" stroke="#5e5e5e" stroke-width="0.9"/><ellipse cx="374.02" cy="284.54" rx="2.5" ry="2.9" fill="#222222" stroke="#8a8a8a" stroke-width="0.7"/><ellipse cx="374.02" cy="281.14" rx="2.6" ry="3.6" fill="#2a2a2a"/><ellipse cx="374.02" cy="279.94" rx="1.7" ry="2" fill="#f2f2f6"/><circle cx="374.02" cy="276.34" r="1.1" fill="#151515"/><circle cx="374.02" cy="284.14" r="1" fill="#f2f2f6"/>
<g transform="translate(1065 0) scale(-1 1)"><polygon points="293.5,284 311.06,277.1 367.04,276 384.7,279.7 384.7,285.5 367.04,279.8 311.06,281.5 294.5,288.2" fill="#48494e" /><polygon points="384.7,279.7 386,274.5 386,279.5 384.7,285.5" fill="#d7d9e2" /><polygon points="292.4,276.8 311.06,270.5 367.04,269.6 385.7,273.5 384.7,279.7 367.04,276 311.06,277.1 293.5,284" fill="url(#gDesk)" /><polyline points="293.5,284 311.06,277.1 367.04,276 384.7,279.7" fill="none" stroke="#ffffff" stroke-width="0.9" /><polyline points="292.4,276.8 311.06,270.5 367.04,269.6 385.7,273.5" fill="none" stroke="#45c4d6" stroke-width="1" /><g transform="translate(305.73 272.45) rotate(-18.66)"><rect x="-5.75" y="-2.9" width="11.5" height="4.4" rx="1.2" fill="#7fdcff"/><rect x="-5.75" y="-2.2" width="11.5" height="4.4" rx="1.1" fill="#1b3cc2"/><rect x="-2.88" y="-1" width="5.75" height="1" fill="#5f86ee"/></g><g transform="translate(322.39 269.15) rotate(0)"><rect x="-5.75" y="-2.9" width="11.5" height="4.4" rx="1.2" fill="#7fdcff"/><rect x="-5.75" y="-2.2" width="11.5" height="4.4" rx="1.1" fill="#1b3cc2"/><rect x="-2.88" y="-1" width="5.75" height="1" fill="#5f86ee"/></g><g transform="translate(339.05 268.85) rotate(0)"><rect x="-5.75" y="-2.9" width="11.5" height="4.4" rx="1.2" fill="#7fdcff"/><rect x="-5.75" y="-2.2" width="11.5" height="4.4" rx="1.1" fill="#1b3cc2"/><rect x="-2.88" y="-1" width="5.75" height="1" fill="#5f86ee"/></g><g transform="translate(355.71 268.55) rotate(0)"><rect x="-5.75" y="-2.9" width="11.5" height="4.4" rx="1.2" fill="#7fdcff"/><rect x="-5.75" y="-2.2" width="11.5" height="4.4" rx="1.1" fill="#1b3cc2"/><rect x="-2.88" y="-1" width="5.75" height="1" fill="#5f86ee"/></g><g transform="translate(372.37 270.35) rotate(11.81)"><rect x="-5.75" y="-2.9" width="11.5" height="4.4" rx="1.2" fill="#7fdcff"/><rect x="-5.75" y="-2.2" width="11.5" height="4.4" rx="1.1" fill="#1b3cc2"/><rect x="-2.88" y="-1" width="5.75" height="1" fill="#5f86ee"/></g><line x1="305.78" y1="288.12" x2="305.78" y2="291.72" stroke="#5e5e5e" stroke-width="1.1"/><line x1="301.88" y1="292.42" x2="309.68" y2="292.42" stroke="#5e5e5e" stroke-width="0.9"/><line x1="303.18" y1="290.12" x2="308.38" y2="295.12" stroke="#5e5e5e" stroke-width="0.9"/><line x1="308.38" y1="290.12" x2="303.18" y2="295.12" stroke="#5e5e5e" stroke-width="0.9"/><ellipse cx="305.78" cy="286.12" rx="2.5" ry="2.9" fill="#222222" stroke="#8a8a8a" stroke-width="0.7"/><line x1="322.84" y1="284.79" x2="322.84" y2="288.39" stroke="#5e5e5e" stroke-width="1.1"/><line x1="318.94" y1="289.09" x2="326.74" y2="289.09" stroke="#5e5e5e" stroke-width="0.9"/><line x1="320.24" y1="286.79" x2="325.44" y2="291.79" stroke="#5e5e5e" stroke-width="0.9"/><line x1="325.44" y1="286.79" x2="320.24" y2="291.79" stroke="#5e5e5e" stroke-width="0.9"/><ellipse cx="322.84" cy="282.79" rx="2.5" ry="2.9" fill="#222222" stroke="#8a8a8a" stroke-width="0.7"/><ellipse cx="322.84" cy="279.39" rx="2.6" ry="3.6" fill="#2a2a2a"/><ellipse cx="322.84" cy="278.19" rx="1.7" ry="2" fill="#f2f2f6"/><circle cx="322.84" cy="274.59" r="1.1" fill="#151515"/><circle cx="322.84" cy="282.39" r="1" fill="#f2f2f6"/><line x1="339.9" y1="284.22" x2="339.9" y2="287.82" stroke="#5e5e5e" stroke-width="1.1"/><line x1="336" y1="288.52" x2="343.8" y2="288.52" stroke="#5e5e5e" stroke-width="0.9"/><line x1="337.3" y1="286.22" x2="342.5" y2="291.22" stroke="#5e5e5e" stroke-width="0.9"/><line x1="342.5" y1="286.22" x2="337.3" y2="291.22" stroke="#5e5e5e" stroke-width="0.9"/><ellipse cx="339.9" cy="282.22" rx="2.5" ry="2.9" fill="#222222" stroke="#8a8a8a" stroke-width="0.7"/><line x1="356.96" y1="283.66" x2="356.96" y2="287.26" stroke="#5e5e5e" stroke-width="1.1"/><line x1="353.06" y1="287.96" x2="360.86" y2="287.96" stroke="#5e5e5e" stroke-width="0.9"/><line x1="354.36" y1="285.66" x2="359.56" y2="290.66" stroke="#5e5e5e" stroke-width="0.9"/><line x1="359.56" y1="285.66" x2="354.36" y2="290.66" stroke="#5e5e5e" stroke-width="0.9"/><ellipse cx="356.96" cy="281.66" rx="2.5" ry="2.9" fill="#222222" stroke="#8a8a8a" stroke-width="0.7"/><line x1="374.02" y1="286.54" x2="374.02" y2="290.14" stroke="#5e5e5e" stroke-width="1.1"/><line x1="370.12" y1="290.84" x2="377.92" y2="290.84" stroke="#5e5e5e" stroke-width="0.9"/><line x1="371.42" y1="288.54" x2="376.62" y2="293.54" stroke="#5e5e5e" stroke-width="0.9"/><line x1="376.62" y1="288.54" x2="371.42" y2="293.54" stroke="#5e5e5e" stroke-width="0.9"/><ellipse cx="374.02" cy="284.54" rx="2.5" ry="2.9" fill="#222222" stroke="#8a8a8a" stroke-width="0.7"/></g>
<polygon points="287,314.2 305.1,307.1 362.7,306 380.9,309.8 380.9,315.6 362.7,309.8 305.1,311.5 288,318.4" fill="#48494e" /><polygon points="380.9,309.8 382.2,304.6 382.2,309.6 380.9,315.6" fill="#d7d9e2" /><polygon points="285.9,307 305.1,300.5 362.7,299.6 381.9,303.6 380.9,309.8 362.7,306 305.1,307.1 287,314.2" fill="url(#gDesk)" /><polyline points="287,314.2 305.1,307.1 362.7,306 380.9,309.8" fill="none" stroke="#ffffff" stroke-width="0.9" /><polyline points="285.9,307 305.1,300.5 362.7,299.6 381.9,303.6" fill="none" stroke="#45c4d6" stroke-width="1" /><g transform="translate(299.5 302.55) rotate(-18.7)"><rect x="-5.75" y="-2.9" width="11.5" height="4.4" rx="1.2" fill="#7fdcff"/><rect x="-5.75" y="-2.2" width="11.5" height="4.4" rx="1.1" fill="#1b3cc2"/><rect x="-2.88" y="-1" width="5.75" height="1" fill="#5f86ee"/></g><g transform="translate(316.7 299.15) rotate(0)"><rect x="-5.75" y="-2.9" width="11.5" height="4.4" rx="1.2" fill="#7fdcff"/><rect x="-5.75" y="-2.2" width="11.5" height="4.4" rx="1.1" fill="#1b3cc2"/><rect x="-2.88" y="-1" width="5.75" height="1" fill="#5f86ee"/></g><g transform="translate(333.9 298.85) rotate(0)"><rect x="-5.75" y="-2.9" width="11.5" height="4.4" rx="1.2" fill="#7fdcff"/><rect x="-5.75" y="-2.2" width="11.5" height="4.4" rx="1.1" fill="#1b3cc2"/><rect x="-2.88" y="-1" width="5.75" height="1" fill="#5f86ee"/></g><g transform="translate(351.1 298.55) rotate(0)"><rect x="-5.75" y="-2.9" width="11.5" height="4.4" rx="1.2" fill="#7fdcff"/><rect x="-5.75" y="-2.2" width="11.5" height="4.4" rx="1.1" fill="#1b3cc2"/><rect x="-2.88" y="-1" width="5.75" height="1" fill="#5f86ee"/></g><g transform="translate(368.3 300.4) rotate(11.77)"><rect x="-5.75" y="-2.9" width="11.5" height="4.4" rx="1.2" fill="#7fdcff"/><rect x="-5.75" y="-2.2" width="11.5" height="4.4" rx="1.1" fill="#1b3cc2"/><rect x="-2.88" y="-1" width="5.75" height="1" fill="#5f86ee"/></g><line x1="299.58" y1="318.2" x2="299.58" y2="321.81" stroke="#5e5e5e" stroke-width="1.1"/><line x1="295.68" y1="322.5" x2="303.48" y2="322.5" stroke="#5e5e5e" stroke-width="0.9"/><line x1="296.98" y1="320.2" x2="302.18" y2="325.2" stroke="#5e5e5e" stroke-width="0.9"/><line x1="302.18" y1="320.2" x2="296.98" y2="325.2" stroke="#5e5e5e" stroke-width="0.9"/><ellipse cx="299.58" cy="316.2" rx="2.5" ry="2.9" fill="#222222" stroke="#8a8a8a" stroke-width="0.7"/><line x1="317.18" y1="314.79" x2="317.18" y2="318.39" stroke="#5e5e5e" stroke-width="1.1"/><line x1="313.28" y1="319.09" x2="321.08" y2="319.09" stroke="#5e5e5e" stroke-width="0.9"/><line x1="314.58" y1="316.79" x2="319.78" y2="321.79" stroke="#5e5e5e" stroke-width="0.9"/><line x1="319.78" y1="316.79" x2="314.58" y2="321.79" stroke="#5e5e5e" stroke-width="0.9"/><ellipse cx="317.18" cy="312.79" rx="2.5" ry="2.9" fill="#222222" stroke="#8a8a8a" stroke-width="0.7"/><line x1="334.78" y1="314.22" x2="334.78" y2="317.82" stroke="#5e5e5e" stroke-width="1.1"/><line x1="330.88" y1="318.52" x2="338.68" y2="318.52" stroke="#5e5e5e" stroke-width="0.9"/><line x1="332.18" y1="316.22" x2="337.38" y2="321.22" stroke="#5e5e5e" stroke-width="0.9"/><line x1="337.38" y1="316.22" x2="332.18" y2="321.22" stroke="#5e5e5e" stroke-width="0.9"/><ellipse cx="334.78" cy="312.22" rx="2.5" ry="2.9" fill="#222222" stroke="#8a8a8a" stroke-width="0.7"/><line x1="352.38" y1="313.66" x2="352.38" y2="317.26" stroke="#5e5e5e" stroke-width="1.1"/><line x1="348.48" y1="317.96" x2="356.28" y2="317.96" stroke="#5e5e5e" stroke-width="0.9"/><line x1="349.78" y1="315.66" x2="354.98" y2="320.66" stroke="#5e5e5e" stroke-width="0.9"/><line x1="354.98" y1="315.66" x2="349.78" y2="320.66" stroke="#5e5e5e" stroke-width="0.9"/><ellipse cx="352.38" cy="311.66" rx="2.5" ry="2.9" fill="#222222" stroke="#8a8a8a" stroke-width="0.7"/><line x1="369.98" y1="316.59" x2="369.98" y2="320.19" stroke="#5e5e5e" stroke-width="1.1"/><line x1="366.08" y1="320.89" x2="373.88" y2="320.89" stroke="#5e5e5e" stroke-width="0.9"/><line x1="367.38" y1="318.59" x2="372.58" y2="323.59" stroke="#5e5e5e" stroke-width="0.9"/><line x1="372.58" y1="318.59" x2="367.38" y2="323.59" stroke="#5e5e5e" stroke-width="0.9"/><ellipse cx="369.98" cy="314.59" rx="2.5" ry="2.9" fill="#222222" stroke="#8a8a8a" stroke-width="0.7"/>
<g transform="translate(1065 0) scale(-1 1)"><polygon points="287,314.2 305.1,307.1 362.7,306 380.9,309.8 380.9,315.6 362.7,309.8 305.1,311.5 288,318.4" fill="#48494e" /><polygon points="380.9,309.8 382.2,304.6 382.2,309.6 380.9,315.6" fill="#d7d9e2" /><polygon points="285.9,307 305.1,300.5 362.7,299.6 381.9,303.6 380.9,309.8 362.7,306 305.1,307.1 287,314.2" fill="url(#gDesk)" /><polyline points="287,314.2 305.1,307.1 362.7,306 380.9,309.8" fill="none" stroke="#ffffff" stroke-width="0.9" /><polyline points="285.9,307 305.1,300.5 362.7,299.6 381.9,303.6" fill="none" stroke="#45c4d6" stroke-width="1" /><g transform="translate(299.5 302.55) rotate(-18.7)"><rect x="-5.75" y="-2.9" width="11.5" height="4.4" rx="1.2" fill="#7fdcff"/><rect x="-5.75" y="-2.2" width="11.5" height="4.4" rx="1.1" fill="#1b3cc2"/><rect x="-2.88" y="-1" width="5.75" height="1" fill="#5f86ee"/></g><g transform="translate(316.7 299.15) rotate(0)"><rect x="-5.75" y="-2.9" width="11.5" height="4.4" rx="1.2" fill="#7fdcff"/><rect x="-5.75" y="-2.2" width="11.5" height="4.4" rx="1.1" fill="#1b3cc2"/><rect x="-2.88" y="-1" width="5.75" height="1" fill="#5f86ee"/></g><g transform="translate(333.9 298.85) rotate(0)"><rect x="-5.75" y="-2.9" width="11.5" height="4.4" rx="1.2" fill="#7fdcff"/><rect x="-5.75" y="-2.2" width="11.5" height="4.4" rx="1.1" fill="#1b3cc2"/><rect x="-2.88" y="-1" width="5.75" height="1" fill="#5f86ee"/></g><g transform="translate(351.1 298.55) rotate(0)"><rect x="-5.75" y="-2.9" width="11.5" height="4.4" rx="1.2" fill="#7fdcff"/><rect x="-5.75" y="-2.2" width="11.5" height="4.4" rx="1.1" fill="#1b3cc2"/><rect x="-2.88" y="-1" width="5.75" height="1" fill="#5f86ee"/></g><g transform="translate(368.3 300.4) rotate(11.77)"><rect x="-5.75" y="-2.9" width="11.5" height="4.4" rx="1.2" fill="#7fdcff"/><rect x="-5.75" y="-2.2" width="11.5" height="4.4" rx="1.1" fill="#1b3cc2"/><rect x="-2.88" y="-1" width="5.75" height="1" fill="#5f86ee"/></g><line x1="299.58" y1="318.2" x2="299.58" y2="321.81" stroke="#5e5e5e" stroke-width="1.1"/><line x1="295.68" y1="322.5" x2="303.48" y2="322.5" stroke="#5e5e5e" stroke-width="0.9"/><line x1="296.98" y1="320.2" x2="302.18" y2="325.2" stroke="#5e5e5e" stroke-width="0.9"/><line x1="302.18" y1="320.2" x2="296.98" y2="325.2" stroke="#5e5e5e" stroke-width="0.9"/><ellipse cx="299.58" cy="316.2" rx="2.5" ry="2.9" fill="#222222" stroke="#8a8a8a" stroke-width="0.7"/><line x1="317.18" y1="314.79" x2="317.18" y2="318.39" stroke="#5e5e5e" stroke-width="1.1"/><line x1="313.28" y1="319.09" x2="321.08" y2="319.09" stroke="#5e5e5e" stroke-width="0.9"/><line x1="314.58" y1="316.79" x2="319.78" y2="321.79" stroke="#5e5e5e" stroke-width="0.9"/><line x1="319.78" y1="316.79" x2="314.58" y2="321.79" stroke="#5e5e5e" stroke-width="0.9"/><ellipse cx="317.18" cy="312.79" rx="2.5" ry="2.9" fill="#222222" stroke="#8a8a8a" stroke-width="0.7"/><ellipse cx="317.18" cy="309.39" rx="2.6" ry="3.6" fill="#2a2a2a"/><ellipse cx="317.18" cy="308.19" rx="1.7" ry="2" fill="#f2f2f6"/><circle cx="317.18" cy="304.59" r="1.1" fill="#151515"/><circle cx="317.18" cy="312.39" r="1" fill="#f2f2f6"/><line x1="334.78" y1="314.22" x2="334.78" y2="317.82" stroke="#5e5e5e" stroke-width="1.1"/><line x1="330.88" y1="318.52" x2="338.68" y2="318.52" stroke="#5e5e5e" stroke-width="0.9"/><line x1="332.18" y1="316.22" x2="337.38" y2="321.22" stroke="#5e5e5e" stroke-width="0.9"/><line x1="337.38" y1="316.22" x2="332.18" y2="321.22" stroke="#5e5e5e" stroke-width="0.9"/><ellipse cx="334.78" cy="312.22" rx="2.5" ry="2.9" fill="#222222" stroke="#8a8a8a" stroke-width="0.7"/><line x1="352.38" y1="313.66" x2="352.38" y2="317.26" stroke="#5e5e5e" stroke-width="1.1"/><line x1="348.48" y1="317.96" x2="356.28" y2="317.96" stroke="#5e5e5e" stroke-width="0.9"/><line x1="349.78" y1="315.66" x2="354.98" y2="320.66" stroke="#5e5e5e" stroke-width="0.9"/><line x1="354.98" y1="315.66" x2="349.78" y2="320.66" stroke="#5e5e5e" stroke-width="0.9"/><ellipse cx="352.38" cy="311.66" rx="2.5" ry="2.9" fill="#222222" stroke="#8a8a8a" stroke-width="0.7"/><line x1="369.98" y1="316.59" x2="369.98" y2="320.19" stroke="#5e5e5e" stroke-width="1.1"/><line x1="366.08" y1="320.89" x2="373.88" y2="320.89" stroke="#5e5e5e" stroke-width="0.9"/><line x1="367.38" y1="318.59" x2="372.58" y2="323.59" stroke="#5e5e5e" stroke-width="0.9"/><line x1="372.58" y1="318.59" x2="367.38" y2="323.59" stroke="#5e5e5e" stroke-width="0.9"/><ellipse cx="369.98" cy="314.59" rx="2.5" ry="2.9" fill="#222222" stroke="#8a8a8a" stroke-width="0.7"/></g>
<polygon points="420.6,184.2 439.98,178.9 501.42,177.8 520.9,182.8 520.9,188.6 501.42,181.6 439.98,183.3 421.6,188.4" fill="#48494e" /><polygon points="520.9,182.8 522.2,177.6 522.2,182.6 520.9,188.6" fill="#d7d9e2" /><polygon points="419.5,177 439.98,172.3 501.42,171.4 521.9,176.6 520.9,182.8 501.42,177.8 439.98,178.9 420.6,184.2" fill="url(#gDesk)" /><polyline points="420.6,184.2 439.98,178.9 501.42,177.8 520.9,182.8" fill="none" stroke="#ffffff" stroke-width="0.9" /><polyline points="419.5,177 439.98,172.3 501.42,171.4 521.9,176.6" fill="none" stroke="#45c4d6" stroke-width="1" /><g transform="translate(432.2 173.84) rotate(-12.93)"><rect x="-5.75" y="-2.9" width="11.5" height="4.4" rx="1.2" fill="#7fdcff"/><rect x="-5.75" y="-2.2" width="11.5" height="4.4" rx="1.1" fill="#1b3cc2"/><rect x="-2.88" y="-1" width="5.75" height="1" fill="#5f86ee"/></g><g transform="translate(447.6 171.03) rotate(0)"><rect x="-5.75" y="-2.9" width="11.5" height="4.4" rx="1.2" fill="#7fdcff"/><rect x="-5.75" y="-2.2" width="11.5" height="4.4" rx="1.1" fill="#1b3cc2"/><rect x="-2.88" y="-1" width="5.75" height="1" fill="#5f86ee"/></g><g transform="translate(463 170.78) rotate(0)"><rect x="-5.75" y="-2.9" width="11.5" height="4.4" rx="1.2" fill="#7fdcff"/><rect x="-5.75" y="-2.2" width="11.5" height="4.4" rx="1.1" fill="#1b3cc2"/><rect x="-2.88" y="-1" width="5.75" height="1" fill="#5f86ee"/></g><g transform="translate(478.4 170.53) rotate(0)"><rect x="-5.75" y="-2.9" width="11.5" height="4.4" rx="1.2" fill="#7fdcff"/><rect x="-5.75" y="-2.2" width="11.5" height="4.4" rx="1.1" fill="#1b3cc2"/><rect x="-2.88" y="-1" width="5.75" height="1" fill="#5f86ee"/></g><g transform="translate(493.8 170.28) rotate(0)"><rect x="-5.75" y="-2.9" width="11.5" height="4.4" rx="1.2" fill="#7fdcff"/><rect x="-5.75" y="-2.2" width="11.5" height="4.4" rx="1.1" fill="#1b3cc2"/><rect x="-2.88" y="-1" width="5.75" height="1" fill="#5f86ee"/></g><g transform="translate(509.2 173.23) rotate(14.25)"><rect x="-5.75" y="-2.9" width="11.5" height="4.4" rx="1.2" fill="#7fdcff"/><rect x="-5.75" y="-2.2" width="11.5" height="4.4" rx="1.1" fill="#1b3cc2"/><rect x="-2.88" y="-1" width="5.75" height="1" fill="#5f86ee"/></g><line x1="432.15" y1="189.66" x2="432.15" y2="193.26" stroke="#5e5e5e" stroke-width="1.1"/><line x1="428.25" y1="193.96" x2="436.05" y2="193.96" stroke="#5e5e5e" stroke-width="0.9"/><line x1="429.55" y1="191.66" x2="434.75" y2="196.66" stroke="#5e5e5e" stroke-width="0.9"/><line x1="434.75" y1="191.66" x2="429.55" y2="196.66" stroke="#5e5e5e" stroke-width="0.9"/><ellipse cx="432.15" cy="187.66" rx="2.5" ry="2.9" fill="#222222" stroke="#8a8a8a" stroke-width="0.7"/><line x1="447.89" y1="186.73" x2="447.89" y2="190.33" stroke="#5e5e5e" stroke-width="1.1"/><line x1="443.99" y1="191.03" x2="451.79" y2="191.03" stroke="#5e5e5e" stroke-width="0.9"/><line x1="445.29" y1="188.73" x2="450.49" y2="193.73" stroke="#5e5e5e" stroke-width="0.9"/><line x1="450.49" y1="188.73" x2="445.29" y2="193.73" stroke="#5e5e5e" stroke-width="0.9"/><ellipse cx="447.89" cy="184.73" rx="2.5" ry="2.9" fill="#222222" stroke="#8a8a8a" stroke-width="0.7"/><line x1="463.62" y1="186.26" x2="463.62" y2="189.86" stroke="#5e5e5e" stroke-width="1.1"/><line x1="459.72" y1="190.56" x2="467.52" y2="190.56" stroke="#5e5e5e" stroke-width="0.9"/><line x1="461.02" y1="188.26" x2="466.22" y2="193.26" stroke="#5e5e5e" stroke-width="0.9"/><line x1="466.22" y1="188.26" x2="461.02" y2="193.26" stroke="#5e5e5e" stroke-width="0.9"/><ellipse cx="463.62" cy="184.26" rx="2.5" ry="2.9" fill="#222222" stroke="#8a8a8a" stroke-width="0.7"/><ellipse cx="463.62" cy="180.86" rx="2.6" ry="3.6" fill="#2a2a2a"/><ellipse cx="463.62" cy="179.66" rx="1.7" ry="2" fill="#f2f2f6"/><circle cx="463.62" cy="176.06" r="1.1" fill="#151515"/><circle cx="463.62" cy="183.86" r="1" fill="#f2f2f6"/><line x1="479.35" y1="185.79" x2="479.35" y2="189.39" stroke="#5e5e5e" stroke-width="1.1"/><line x1="475.45" y1="190.09" x2="483.25" y2="190.09" stroke="#5e5e5e" stroke-width="0.9"/><line x1="476.75" y1="187.79" x2="481.95" y2="192.79" stroke="#5e5e5e" stroke-width="0.9"/><line x1="481.95" y1="187.79" x2="476.75" y2="192.79" stroke="#5e5e5e" stroke-width="0.9"/><ellipse cx="479.35" cy="183.79" rx="2.5" ry="2.9" fill="#222222" stroke="#8a8a8a" stroke-width="0.7"/><line x1="495.09" y1="185.32" x2="495.09" y2="188.92" stroke="#5e5e5e" stroke-width="1.1"/><line x1="491.19" y1="189.62" x2="498.99" y2="189.62" stroke="#5e5e5e" stroke-width="0.9"/><line x1="492.49" y1="187.32" x2="497.69" y2="192.32" stroke="#5e5e5e" stroke-width="0.9"/><line x1="497.69" y1="187.32" x2="492.49" y2="192.32" stroke="#5e5e5e" stroke-width="0.9"/><ellipse cx="495.09" cy="183.32" rx="2.5" ry="2.9" fill="#222222" stroke="#8a8a8a" stroke-width="0.7"/><line x1="510.82" y1="189.57" x2="510.82" y2="193.17" stroke="#5e5e5e" stroke-width="1.1"/><line x1="506.92" y1="193.87" x2="514.72" y2="193.87" stroke="#5e5e5e" stroke-width="0.9"/><line x1="508.22" y1="191.57" x2="513.42" y2="196.57" stroke="#5e5e5e" stroke-width="0.9"/><line x1="513.42" y1="191.57" x2="508.22" y2="196.57" stroke="#5e5e5e" stroke-width="0.9"/><ellipse cx="510.82" cy="187.57" rx="2.5" ry="2.9" fill="#222222" stroke="#8a8a8a" stroke-width="0.7"/>
<g transform="translate(1062.5 0) scale(-1 1)"><polygon points="420.6,184.2 439.98,178.9 501.42,177.8 520.9,182.8 520.9,188.6 501.42,181.6 439.98,183.3 421.6,188.4" fill="#48494e" /><polygon points="520.9,182.8 522.2,177.6 522.2,182.6 520.9,188.6" fill="#d7d9e2" /><polygon points="419.5,177 439.98,172.3 501.42,171.4 521.9,176.6 520.9,182.8 501.42,177.8 439.98,178.9 420.6,184.2" fill="url(#gDesk)" /><polyline points="420.6,184.2 439.98,178.9 501.42,177.8 520.9,182.8" fill="none" stroke="#ffffff" stroke-width="0.9" /><polyline points="419.5,177 439.98,172.3 501.42,171.4 521.9,176.6" fill="none" stroke="#45c4d6" stroke-width="1" /><g transform="translate(432.2 173.84) rotate(-12.93)"><rect x="-5.75" y="-2.9" width="11.5" height="4.4" rx="1.2" fill="#7fdcff"/><rect x="-5.75" y="-2.2" width="11.5" height="4.4" rx="1.1" fill="#1b3cc2"/><rect x="-2.88" y="-1" width="5.75" height="1" fill="#5f86ee"/></g><g transform="translate(447.6 171.03) rotate(0)"><rect x="-5.75" y="-2.9" width="11.5" height="4.4" rx="1.2" fill="#7fdcff"/><rect x="-5.75" y="-2.2" width="11.5" height="4.4" rx="1.1" fill="#1b3cc2"/><rect x="-2.88" y="-1" width="5.75" height="1" fill="#5f86ee"/></g><g transform="translate(463 170.78) rotate(0)"><rect x="-5.75" y="-2.9" width="11.5" height="4.4" rx="1.2" fill="#7fdcff"/><rect x="-5.75" y="-2.2" width="11.5" height="4.4" rx="1.1" fill="#1b3cc2"/><rect x="-2.88" y="-1" width="5.75" height="1" fill="#5f86ee"/></g><g transform="translate(478.4 170.53) rotate(0)"><rect x="-5.75" y="-2.9" width="11.5" height="4.4" rx="1.2" fill="#7fdcff"/><rect x="-5.75" y="-2.2" width="11.5" height="4.4" rx="1.1" fill="#1b3cc2"/><rect x="-2.88" y="-1" width="5.75" height="1" fill="#5f86ee"/></g><g transform="translate(493.8 170.28) rotate(0)"><rect x="-5.75" y="-2.9" width="11.5" height="4.4" rx="1.2" fill="#7fdcff"/><rect x="-5.75" y="-2.2" width="11.5" height="4.4" rx="1.1" fill="#1b3cc2"/><rect x="-2.88" y="-1" width="5.75" height="1" fill="#5f86ee"/></g><g transform="translate(509.2 173.23) rotate(14.25)"><rect x="-5.75" y="-2.9" width="11.5" height="4.4" rx="1.2" fill="#7fdcff"/><rect x="-5.75" y="-2.2" width="11.5" height="4.4" rx="1.1" fill="#1b3cc2"/><rect x="-2.88" y="-1" width="5.75" height="1" fill="#5f86ee"/></g><line x1="432.15" y1="189.66" x2="432.15" y2="193.26" stroke="#5e5e5e" stroke-width="1.1"/><line x1="428.25" y1="193.96" x2="436.05" y2="193.96" stroke="#5e5e5e" stroke-width="0.9"/><line x1="429.55" y1="191.66" x2="434.75" y2="196.66" stroke="#5e5e5e" stroke-width="0.9"/><line x1="434.75" y1="191.66" x2="429.55" y2="196.66" stroke="#5e5e5e" stroke-width="0.9"/><ellipse cx="432.15" cy="187.66" rx="2.5" ry="2.9" fill="#222222" stroke="#8a8a8a" stroke-width="0.7"/><line x1="447.89" y1="186.73" x2="447.89" y2="190.33" stroke="#5e5e5e" stroke-width="1.1"/><line x1="443.99" y1="191.03" x2="451.79" y2="191.03" stroke="#5e5e5e" stroke-width="0.9"/><line x1="445.29" y1="188.73" x2="450.49" y2="193.73" stroke="#5e5e5e" stroke-width="0.9"/><line x1="450.49" y1="188.73" x2="445.29" y2="193.73" stroke="#5e5e5e" stroke-width="0.9"/><ellipse cx="447.89" cy="184.73" rx="2.5" ry="2.9" fill="#222222" stroke="#8a8a8a" stroke-width="0.7"/><line x1="463.62" y1="186.26" x2="463.62" y2="189.86" stroke="#5e5e5e" stroke-width="1.1"/><line x1="459.72" y1="190.56" x2="467.52" y2="190.56" stroke="#5e5e5e" stroke-width="0.9"/><line x1="461.02" y1="188.26" x2="466.22" y2="193.26" stroke="#5e5e5e" stroke-width="0.9"/><line x1="466.22" y1="188.26" x2="461.02" y2="193.26" stroke="#5e5e5e" stroke-width="0.9"/><ellipse cx="463.62" cy="184.26" rx="2.5" ry="2.9" fill="#222222" stroke="#8a8a8a" stroke-width="0.7"/><line x1="479.35" y1="185.79" x2="479.35" y2="189.39" stroke="#5e5e5e" stroke-width="1.1"/><line x1="475.45" y1="190.09" x2="483.25" y2="190.09" stroke="#5e5e5e" stroke-width="0.9"/><line x1="476.75" y1="187.79" x2="481.95" y2="192.79" stroke="#5e5e5e" stroke-width="0.9"/><line x1="481.95" y1="187.79" x2="476.75" y2="192.79" stroke="#5e5e5e" stroke-width="0.9"/><ellipse cx="479.35" cy="183.79" rx="2.5" ry="2.9" fill="#222222" stroke="#8a8a8a" stroke-width="0.7"/><line x1="495.09" y1="185.32" x2="495.09" y2="188.92" stroke="#5e5e5e" stroke-width="1.1"/><line x1="491.19" y1="189.62" x2="498.99" y2="189.62" stroke="#5e5e5e" stroke-width="0.9"/><line x1="492.49" y1="187.32" x2="497.69" y2="192.32" stroke="#5e5e5e" stroke-width="0.9"/><line x1="497.69" y1="187.32" x2="492.49" y2="192.32" stroke="#5e5e5e" stroke-width="0.9"/><ellipse cx="495.09" cy="183.32" rx="2.5" ry="2.9" fill="#222222" stroke="#8a8a8a" stroke-width="0.7"/><line x1="510.82" y1="189.57" x2="510.82" y2="193.17" stroke="#5e5e5e" stroke-width="1.1"/><line x1="506.92" y1="193.87" x2="514.72" y2="193.87" stroke="#5e5e5e" stroke-width="0.9"/><line x1="508.22" y1="191.57" x2="513.42" y2="196.57" stroke="#5e5e5e" stroke-width="0.9"/><line x1="513.42" y1="191.57" x2="508.22" y2="196.57" stroke="#5e5e5e" stroke-width="0.9"/><ellipse cx="510.82" cy="187.57" rx="2.5" ry="2.9" fill="#222222" stroke="#8a8a8a" stroke-width="0.7"/><ellipse cx="510.82" cy="184.17" rx="2.6" ry="3.6" fill="#2a2a2a"/><ellipse cx="510.82" cy="182.97" rx="1.7" ry="2" fill="#f2f2f6"/><circle cx="510.82" cy="179.38" r="1.1" fill="#151515"/><circle cx="510.82" cy="187.17" r="1" fill="#f2f2f6"/></g>
<polygon points="418,213.5 437.9,208.1 500.9,207 520.9,212 520.9,217.8 500.9,210.8 437.9,212.5 419,217.7" fill="#48494e" /><polygon points="520.9,212 522.2,206.8 522.2,211.8 520.9,217.8" fill="#d7d9e2" /><polygon points="416.9,206.3 437.9,201.5 500.9,200.6 521.9,205.8 520.9,212 500.9,207 437.9,208.1 418,213.5" fill="url(#gDesk)" /><polyline points="418,213.5 437.9,208.1 500.9,207 520.9,212" fill="none" stroke="#ffffff" stroke-width="0.9" /><polyline points="416.9,206.3 437.9,201.5 500.9,200.6 521.9,205.8" fill="none" stroke="#45c4d6" stroke-width="1" /><g transform="translate(429.82 203.1) rotate(-12.88)"><rect x="-5.75" y="-2.9" width="11.5" height="4.4" rx="1.2" fill="#7fdcff"/><rect x="-5.75" y="-2.2" width="11.5" height="4.4" rx="1.1" fill="#1b3cc2"/><rect x="-2.88" y="-1" width="5.75" height="1" fill="#5f86ee"/></g><g transform="translate(445.65 200.23) rotate(0)"><rect x="-5.75" y="-2.9" width="11.5" height="4.4" rx="1.2" fill="#7fdcff"/><rect x="-5.75" y="-2.2" width="11.5" height="4.4" rx="1.1" fill="#1b3cc2"/><rect x="-2.88" y="-1" width="5.75" height="1" fill="#5f86ee"/></g><g transform="translate(461.48 199.98) rotate(0)"><rect x="-5.75" y="-2.9" width="11.5" height="4.4" rx="1.2" fill="#7fdcff"/><rect x="-5.75" y="-2.2" width="11.5" height="4.4" rx="1.1" fill="#1b3cc2"/><rect x="-2.88" y="-1" width="5.75" height="1" fill="#5f86ee"/></g><g transform="translate(477.32 199.72) rotate(0)"><rect x="-5.75" y="-2.9" width="11.5" height="4.4" rx="1.2" fill="#7fdcff"/><rect x="-5.75" y="-2.2" width="11.5" height="4.4" rx="1.1" fill="#1b3cc2"/><rect x="-2.88" y="-1" width="5.75" height="1" fill="#5f86ee"/></g><g transform="translate(493.15 199.47) rotate(0)"><rect x="-5.75" y="-2.9" width="11.5" height="4.4" rx="1.2" fill="#7fdcff"/><rect x="-5.75" y="-2.2" width="11.5" height="4.4" rx="1.1" fill="#1b3cc2"/><rect x="-2.88" y="-1" width="5.75" height="1" fill="#5f86ee"/></g><g transform="translate(508.98 202.43) rotate(13.91)"><rect x="-5.75" y="-2.9" width="11.5" height="4.4" rx="1.2" fill="#7fdcff"/><rect x="-5.75" y="-2.2" width="11.5" height="4.4" rx="1.1" fill="#1b3cc2"/><rect x="-2.88" y="-1" width="5.75" height="1" fill="#5f86ee"/></g><line x1="429.79" y1="218.92" x2="429.79" y2="222.52" stroke="#5e5e5e" stroke-width="1.1"/><line x1="425.89" y1="223.22" x2="433.69" y2="223.22" stroke="#5e5e5e" stroke-width="0.9"/><line x1="427.19" y1="220.92" x2="432.39" y2="225.92" stroke="#5e5e5e" stroke-width="0.9"/><line x1="432.39" y1="220.92" x2="427.19" y2="225.92" stroke="#5e5e5e" stroke-width="0.9"/><ellipse cx="429.79" cy="216.92" rx="2.5" ry="2.9" fill="#222222" stroke="#8a8a8a" stroke-width="0.7"/><line x1="445.96" y1="215.93" x2="445.96" y2="219.53" stroke="#5e5e5e" stroke-width="1.1"/><line x1="442.06" y1="220.23" x2="449.86" y2="220.23" stroke="#5e5e5e" stroke-width="0.9"/><line x1="443.36" y1="217.93" x2="448.56" y2="222.93" stroke="#5e5e5e" stroke-width="0.9"/><line x1="448.56" y1="217.93" x2="443.36" y2="222.93" stroke="#5e5e5e" stroke-width="0.9"/><ellipse cx="445.96" cy="213.93" rx="2.5" ry="2.9" fill="#222222" stroke="#8a8a8a" stroke-width="0.7"/><ellipse cx="445.96" cy="210.53" rx="2.6" ry="3.6" fill="#2a2a2a"/><ellipse cx="445.96" cy="209.33" rx="1.7" ry="2" fill="#f2f2f6"/><circle cx="445.96" cy="205.73" r="1.1" fill="#151515"/><circle cx="445.96" cy="213.53" r="1" fill="#f2f2f6"/><line x1="462.12" y1="215.46" x2="462.12" y2="219.06" stroke="#5e5e5e" stroke-width="1.1"/><line x1="458.23" y1="219.76" x2="466.02" y2="219.76" stroke="#5e5e5e" stroke-width="0.9"/><line x1="459.52" y1="217.46" x2="464.73" y2="222.46" stroke="#5e5e5e" stroke-width="0.9"/><line x1="464.73" y1="217.46" x2="459.52" y2="222.46" stroke="#5e5e5e" stroke-width="0.9"/><ellipse cx="462.12" cy="213.46" rx="2.5" ry="2.9" fill="#222222" stroke="#8a8a8a" stroke-width="0.7"/><line x1="478.29" y1="214.99" x2="478.29" y2="218.59" stroke="#5e5e5e" stroke-width="1.1"/><line x1="474.39" y1="219.29" x2="482.19" y2="219.29" stroke="#5e5e5e" stroke-width="0.9"/><line x1="475.69" y1="216.99" x2="480.89" y2="221.99" stroke="#5e5e5e" stroke-width="0.9"/><line x1="480.89" y1="216.99" x2="475.69" y2="221.99" stroke="#5e5e5e" stroke-width="0.9"/><ellipse cx="478.29" cy="212.99" rx="2.5" ry="2.9" fill="#222222" stroke="#8a8a8a" stroke-width="0.7"/><line x1="494.46" y1="214.52" x2="494.46" y2="218.12" stroke="#5e5e5e" stroke-width="1.1"/><line x1="490.56" y1="218.82" x2="498.36" y2="218.82" stroke="#5e5e5e" stroke-width="0.9"/><line x1="491.86" y1="216.52" x2="497.06" y2="221.52" stroke="#5e5e5e" stroke-width="0.9"/><line x1="497.06" y1="216.52" x2="491.86" y2="221.52" stroke="#5e5e5e" stroke-width="0.9"/><ellipse cx="494.46" cy="212.52" rx="2.5" ry="2.9" fill="#222222" stroke="#8a8a8a" stroke-width="0.7"/><line x1="510.62" y1="218.77" x2="510.62" y2="222.37" stroke="#5e5e5e" stroke-width="1.1"/><line x1="506.73" y1="223.07" x2="514.52" y2="223.07" stroke="#5e5e5e" stroke-width="0.9"/><line x1="508.02" y1="220.77" x2="513.23" y2="225.77" stroke="#5e5e5e" stroke-width="0.9"/><line x1="513.23" y1="220.77" x2="508.02" y2="225.77" stroke="#5e5e5e" stroke-width="0.9"/><ellipse cx="510.62" cy="216.77" rx="2.5" ry="2.9" fill="#222222" stroke="#8a8a8a" stroke-width="0.7"/>
<g transform="translate(1062.5 0) scale(-1 1)"><polygon points="418,213.5 437.9,208.1 500.9,207 520.9,212 520.9,217.8 500.9,210.8 437.9,212.5 419,217.7" fill="#48494e" /><polygon points="520.9,212 522.2,206.8 522.2,211.8 520.9,217.8" fill="#d7d9e2" /><polygon points="416.9,206.3 437.9,201.5 500.9,200.6 521.9,205.8 520.9,212 500.9,207 437.9,208.1 418,213.5" fill="url(#gDesk)" /><polyline points="418,213.5 437.9,208.1 500.9,207 520.9,212" fill="none" stroke="#ffffff" stroke-width="0.9" /><polyline points="416.9,206.3 437.9,201.5 500.9,200.6 521.9,205.8" fill="none" stroke="#45c4d6" stroke-width="1" /><g transform="translate(429.82 203.1) rotate(-12.88)"><rect x="-5.75" y="-2.9" width="11.5" height="4.4" rx="1.2" fill="#7fdcff"/><rect x="-5.75" y="-2.2" width="11.5" height="4.4" rx="1.1" fill="#1b3cc2"/><rect x="-2.88" y="-1" width="5.75" height="1" fill="#5f86ee"/></g><g transform="translate(445.65 200.23) rotate(0)"><rect x="-5.75" y="-2.9" width="11.5" height="4.4" rx="1.2" fill="#7fdcff"/><rect x="-5.75" y="-2.2" width="11.5" height="4.4" rx="1.1" fill="#1b3cc2"/><rect x="-2.88" y="-1" width="5.75" height="1" fill="#5f86ee"/></g><g transform="translate(461.48 199.98) rotate(0)"><rect x="-5.75" y="-2.9" width="11.5" height="4.4" rx="1.2" fill="#7fdcff"/><rect x="-5.75" y="-2.2" width="11.5" height="4.4" rx="1.1" fill="#1b3cc2"/><rect x="-2.88" y="-1" width="5.75" height="1" fill="#5f86ee"/></g><g transform="translate(477.32 199.72) rotate(0)"><rect x="-5.75" y="-2.9" width="11.5" height="4.4" rx="1.2" fill="#7fdcff"/><rect x="-5.75" y="-2.2" width="11.5" height="4.4" rx="1.1" fill="#1b3cc2"/><rect x="-2.88" y="-1" width="5.75" height="1" fill="#5f86ee"/></g><g transform="translate(493.15 199.47) rotate(0)"><rect x="-5.75" y="-2.9" width="11.5" height="4.4" rx="1.2" fill="#7fdcff"/><rect x="-5.75" y="-2.2" width="11.5" height="4.4" rx="1.1" fill="#1b3cc2"/><rect x="-2.88" y="-1" width="5.75" height="1" fill="#5f86ee"/></g><g transform="translate(508.98 202.43) rotate(13.91)"><rect x="-5.75" y="-2.9" width="11.5" height="4.4" rx="1.2" fill="#7fdcff"/><rect x="-5.75" y="-2.2" width="11.5" height="4.4" rx="1.1" fill="#1b3cc2"/><rect x="-2.88" y="-1" width="5.75" height="1" fill="#5f86ee"/></g><line x1="429.79" y1="218.92" x2="429.79" y2="222.52" stroke="#5e5e5e" stroke-width="1.1"/><line x1="425.89" y1="223.22" x2="433.69" y2="223.22" stroke="#5e5e5e" stroke-width="0.9"/><line x1="427.19" y1="220.92" x2="432.39" y2="225.92" stroke="#5e5e5e" stroke-width="0.9"/><line x1="432.39" y1="220.92" x2="427.19" y2="225.92" stroke="#5e5e5e" stroke-width="0.9"/><ellipse cx="429.79" cy="216.92" rx="2.5" ry="2.9" fill="#222222" stroke="#8a8a8a" stroke-width="0.7"/><line x1="445.96" y1="215.93" x2="445.96" y2="219.53" stroke="#5e5e5e" stroke-width="1.1"/><line x1="442.06" y1="220.23" x2="449.86" y2="220.23" stroke="#5e5e5e" stroke-width="0.9"/><line x1="443.36" y1="217.93" x2="448.56" y2="222.93" stroke="#5e5e5e" stroke-width="0.9"/><line x1="448.56" y1="217.93" x2="443.36" y2="222.93" stroke="#5e5e5e" stroke-width="0.9"/><ellipse cx="445.96" cy="213.93" rx="2.5" ry="2.9" fill="#222222" stroke="#8a8a8a" stroke-width="0.7"/><line x1="462.12" y1="215.46" x2="462.12" y2="219.06" stroke="#5e5e5e" stroke-width="1.1"/><line x1="458.23" y1="219.76" x2="466.02" y2="219.76" stroke="#5e5e5e" stroke-width="0.9"/><line x1="459.52" y1="217.46" x2="464.73" y2="222.46" stroke="#5e5e5e" stroke-width="0.9"/><line x1="464.73" y1="217.46" x2="459.52" y2="222.46" stroke="#5e5e5e" stroke-width="0.9"/><ellipse cx="462.12" cy="213.46" rx="2.5" ry="2.9" fill="#222222" stroke="#8a8a8a" stroke-width="0.7"/><line x1="478.29" y1="214.99" x2="478.29" y2="218.59" stroke="#5e5e5e" stroke-width="1.1"/><line x1="474.39" y1="219.29" x2="482.19" y2="219.29" stroke="#5e5e5e" stroke-width="0.9"/><line x1="475.69" y1="216.99" x2="480.89" y2="221.99" stroke="#5e5e5e" stroke-width="0.9"/><line x1="480.89" y1="216.99" x2="475.69" y2="221.99" stroke="#5e5e5e" stroke-width="0.9"/><ellipse cx="478.29" cy="212.99" rx="2.5" ry="2.9" fill="#222222" stroke="#8a8a8a" stroke-width="0.7"/><line x1="494.46" y1="214.52" x2="494.46" y2="218.12" stroke="#5e5e5e" stroke-width="1.1"/><line x1="490.56" y1="218.82" x2="498.36" y2="218.82" stroke="#5e5e5e" stroke-width="0.9"/><line x1="491.86" y1="216.52" x2="497.06" y2="221.52" stroke="#5e5e5e" stroke-width="0.9"/><line x1="497.06" y1="216.52" x2="491.86" y2="221.52" stroke="#5e5e5e" stroke-width="0.9"/><ellipse cx="494.46" cy="212.52" rx="2.5" ry="2.9" fill="#222222" stroke="#8a8a8a" stroke-width="0.7"/><ellipse cx="494.46" cy="209.12" rx="2.6" ry="3.6" fill="#2a2a2a"/><ellipse cx="494.46" cy="207.92" rx="1.7" ry="2" fill="#f2f2f6"/><circle cx="494.46" cy="204.32" r="1.1" fill="#151515"/><circle cx="494.46" cy="212.12" r="1" fill="#f2f2f6"/><line x1="510.62" y1="218.77" x2="510.62" y2="222.37" stroke="#5e5e5e" stroke-width="1.1"/><line x1="506.73" y1="223.07" x2="514.52" y2="223.07" stroke="#5e5e5e" stroke-width="0.9"/><line x1="508.02" y1="220.77" x2="513.23" y2="225.77" stroke="#5e5e5e" stroke-width="0.9"/><line x1="513.23" y1="220.77" x2="508.02" y2="225.77" stroke="#5e5e5e" stroke-width="0.9"/><ellipse cx="510.62" cy="216.77" rx="2.5" ry="2.9" fill="#222222" stroke="#8a8a8a" stroke-width="0.7"/></g>
<polygon points="415.4,243.4 435.62,237.9 499.58,236.8 519.9,241.8 519.9,247.6 499.58,240.6 435.62,242.3 416.4,247.6" fill="#48494e" /><polygon points="519.9,241.8 521.2,236.6 521.2,241.6 519.9,247.6" fill="#d7d9e2" /><polygon points="414.3,236.2 435.62,231.3 499.58,230.4 520.9,235.6 519.9,241.8 499.58,236.8 435.62,237.9 415.4,243.4" fill="url(#gDesk)" /><polyline points="415.4,243.4 435.62,237.9 499.58,236.8 519.9,241.8" fill="none" stroke="#ffffff" stroke-width="0.9" /><polyline points="414.3,236.2 435.62,231.3 499.58,230.4 520.9,235.6" fill="none" stroke="#45c4d6" stroke-width="1" /><g transform="translate(427.35 232.96) rotate(-12.94)"><rect x="-5.75" y="-2.9" width="11.5" height="4.4" rx="1.2" fill="#7fdcff"/><rect x="-5.75" y="-2.2" width="11.5" height="4.4" rx="1.1" fill="#1b3cc2"/><rect x="-2.88" y="-1" width="5.75" height="1" fill="#5f86ee"/></g><g transform="translate(443.45 230.03) rotate(0)"><rect x="-5.75" y="-2.9" width="11.5" height="4.4" rx="1.2" fill="#7fdcff"/><rect x="-5.75" y="-2.2" width="11.5" height="4.4" rx="1.1" fill="#1b3cc2"/><rect x="-2.88" y="-1" width="5.75" height="1" fill="#5f86ee"/></g><g transform="translate(459.55 229.78) rotate(0)"><rect x="-5.75" y="-2.9" width="11.5" height="4.4" rx="1.2" fill="#7fdcff"/><rect x="-5.75" y="-2.2" width="11.5" height="4.4" rx="1.1" fill="#1b3cc2"/><rect x="-2.88" y="-1" width="5.75" height="1" fill="#5f86ee"/></g><g transform="translate(475.65 229.53) rotate(0)"><rect x="-5.75" y="-2.9" width="11.5" height="4.4" rx="1.2" fill="#7fdcff"/><rect x="-5.75" y="-2.2" width="11.5" height="4.4" rx="1.1" fill="#1b3cc2"/><rect x="-2.88" y="-1" width="5.75" height="1" fill="#5f86ee"/></g><g transform="translate(491.75 229.28) rotate(0)"><rect x="-5.75" y="-2.9" width="11.5" height="4.4" rx="1.2" fill="#7fdcff"/><rect x="-5.75" y="-2.2" width="11.5" height="4.4" rx="1.1" fill="#1b3cc2"/><rect x="-2.88" y="-1" width="5.75" height="1" fill="#5f86ee"/></g><g transform="translate(507.85 232.23) rotate(13.71)"><rect x="-5.75" y="-2.9" width="11.5" height="4.4" rx="1.2" fill="#7fdcff"/><rect x="-5.75" y="-2.2" width="11.5" height="4.4" rx="1.1" fill="#1b3cc2"/><rect x="-2.88" y="-1" width="5.75" height="1" fill="#5f86ee"/></g><line x1="427.34" y1="248.77" x2="427.34" y2="252.37" stroke="#5e5e5e" stroke-width="1.1"/><line x1="423.44" y1="253.07" x2="431.24" y2="253.07" stroke="#5e5e5e" stroke-width="0.9"/><line x1="424.74" y1="250.77" x2="429.94" y2="255.77" stroke="#5e5e5e" stroke-width="0.9"/><line x1="429.94" y1="250.77" x2="424.74" y2="255.77" stroke="#5e5e5e" stroke-width="0.9"/><ellipse cx="427.34" cy="246.77" rx="2.5" ry="2.9" fill="#222222" stroke="#8a8a8a" stroke-width="0.7"/><line x1="443.77" y1="245.73" x2="443.77" y2="249.33" stroke="#5e5e5e" stroke-width="1.1"/><line x1="439.87" y1="250.03" x2="447.67" y2="250.03" stroke="#5e5e5e" stroke-width="0.9"/><line x1="441.17" y1="247.73" x2="446.37" y2="252.73" stroke="#5e5e5e" stroke-width="0.9"/><line x1="446.37" y1="247.73" x2="441.17" y2="252.73" stroke="#5e5e5e" stroke-width="0.9"/><ellipse cx="443.77" cy="243.73" rx="2.5" ry="2.9" fill="#222222" stroke="#8a8a8a" stroke-width="0.7"/><line x1="460.2" y1="245.26" x2="460.2" y2="248.86" stroke="#5e5e5e" stroke-width="1.1"/><line x1="456.31" y1="249.56" x2="464.1" y2="249.56" stroke="#5e5e5e" stroke-width="0.9"/><line x1="457.6" y1="247.26" x2="462.81" y2="252.26" stroke="#5e5e5e" stroke-width="0.9"/><line x1="462.81" y1="247.26" x2="457.6" y2="252.26" stroke="#5e5e5e" stroke-width="0.9"/><ellipse cx="460.2" cy="243.26" rx="2.5" ry="2.9" fill="#222222" stroke="#8a8a8a" stroke-width="0.7"/><line x1="476.64" y1="244.79" x2="476.64" y2="248.39" stroke="#5e5e5e" stroke-width="1.1"/><line x1="472.74" y1="249.09" x2="480.54" y2="249.09" stroke="#5e5e5e" stroke-width="0.9"/><line x1="474.04" y1="246.79" x2="479.24" y2="251.79" stroke="#5e5e5e" stroke-width="0.9"/><line x1="479.24" y1="246.79" x2="474.04" y2="251.79" stroke="#5e5e5e" stroke-width="0.9"/><ellipse cx="476.64" cy="242.79" rx="2.5" ry="2.9" fill="#222222" stroke="#8a8a8a" stroke-width="0.7"/><line x1="493.07" y1="244.32" x2="493.07" y2="247.92" stroke="#5e5e5e" stroke-width="1.1"/><line x1="489.17" y1="248.62" x2="496.97" y2="248.62" stroke="#5e5e5e" stroke-width="0.9"/><line x1="490.47" y1="246.32" x2="495.67" y2="251.32" stroke="#5e5e5e" stroke-width="0.9"/><line x1="495.67" y1="246.32" x2="490.47" y2="251.32" stroke="#5e5e5e" stroke-width="0.9"/><ellipse cx="493.07" cy="242.32" rx="2.5" ry="2.9" fill="#222222" stroke="#8a8a8a" stroke-width="0.7"/><ellipse cx="493.07" cy="238.92" rx="2.6" ry="3.6" fill="#2a2a2a"/><ellipse cx="493.07" cy="237.72" rx="1.7" ry="2" fill="#f2f2f6"/><circle cx="493.07" cy="234.12" r="1.1" fill="#151515"/><circle cx="493.07" cy="241.92" r="1" fill="#f2f2f6"/><line x1="509.5" y1="248.57" x2="509.5" y2="252.17" stroke="#5e5e5e" stroke-width="1.1"/><line x1="505.61" y1="252.87" x2="513.4" y2="252.87" stroke="#5e5e5e" stroke-width="0.9"/><line x1="506.9" y1="250.57" x2="512.11" y2="255.57" stroke="#5e5e5e" stroke-width="0.9"/><line x1="512.11" y1="250.57" x2="506.9" y2="255.57" stroke="#5e5e5e" stroke-width="0.9"/><ellipse cx="509.5" cy="246.57" rx="2.5" ry="2.9" fill="#222222" stroke="#8a8a8a" stroke-width="0.7"/>
<g transform="translate(1062.5 0) scale(-1 1)"><polygon points="415.4,243.4 435.62,237.9 499.58,236.8 519.9,241.8 519.9,247.6 499.58,240.6 435.62,242.3 416.4,247.6" fill="#48494e" /><polygon points="519.9,241.8 521.2,236.6 521.2,241.6 519.9,247.6" fill="#d7d9e2" /><polygon points="414.3,236.2 435.62,231.3 499.58,230.4 520.9,235.6 519.9,241.8 499.58,236.8 435.62,237.9 415.4,243.4" fill="url(#gDesk)" /><polyline points="415.4,243.4 435.62,237.9 499.58,236.8 519.9,241.8" fill="none" stroke="#ffffff" stroke-width="0.9" /><polyline points="414.3,236.2 435.62,231.3 499.58,230.4 520.9,235.6" fill="none" stroke="#45c4d6" stroke-width="1" /><g transform="translate(427.35 232.96) rotate(-12.94)"><rect x="-5.75" y="-2.9" width="11.5" height="4.4" rx="1.2" fill="#7fdcff"/><rect x="-5.75" y="-2.2" width="11.5" height="4.4" rx="1.1" fill="#1b3cc2"/><rect x="-2.88" y="-1" width="5.75" height="1" fill="#5f86ee"/></g><g transform="translate(443.45 230.03) rotate(0)"><rect x="-5.75" y="-2.9" width="11.5" height="4.4" rx="1.2" fill="#7fdcff"/><rect x="-5.75" y="-2.2" width="11.5" height="4.4" rx="1.1" fill="#1b3cc2"/><rect x="-2.88" y="-1" width="5.75" height="1" fill="#5f86ee"/></g><g transform="translate(459.55 229.78) rotate(0)"><rect x="-5.75" y="-2.9" width="11.5" height="4.4" rx="1.2" fill="#7fdcff"/><rect x="-5.75" y="-2.2" width="11.5" height="4.4" rx="1.1" fill="#1b3cc2"/><rect x="-2.88" y="-1" width="5.75" height="1" fill="#5f86ee"/></g><g transform="translate(475.65 229.53) rotate(0)"><rect x="-5.75" y="-2.9" width="11.5" height="4.4" rx="1.2" fill="#7fdcff"/><rect x="-5.75" y="-2.2" width="11.5" height="4.4" rx="1.1" fill="#1b3cc2"/><rect x="-2.88" y="-1" width="5.75" height="1" fill="#5f86ee"/></g><g transform="translate(491.75 229.28) rotate(0)"><rect x="-5.75" y="-2.9" width="11.5" height="4.4" rx="1.2" fill="#7fdcff"/><rect x="-5.75" y="-2.2" width="11.5" height="4.4" rx="1.1" fill="#1b3cc2"/><rect x="-2.88" y="-1" width="5.75" height="1" fill="#5f86ee"/></g><g transform="translate(507.85 232.23) rotate(13.71)"><rect x="-5.75" y="-2.9" width="11.5" height="4.4" rx="1.2" fill="#7fdcff"/><rect x="-5.75" y="-2.2" width="11.5" height="4.4" rx="1.1" fill="#1b3cc2"/><rect x="-2.88" y="-1" width="5.75" height="1" fill="#5f86ee"/></g><line x1="427.34" y1="248.77" x2="427.34" y2="252.37" stroke="#5e5e5e" stroke-width="1.1"/><line x1="423.44" y1="253.07" x2="431.24" y2="253.07" stroke="#5e5e5e" stroke-width="0.9"/><line x1="424.74" y1="250.77" x2="429.94" y2="255.77" stroke="#5e5e5e" stroke-width="0.9"/><line x1="429.94" y1="250.77" x2="424.74" y2="255.77" stroke="#5e5e5e" stroke-width="0.9"/><ellipse cx="427.34" cy="246.77" rx="2.5" ry="2.9" fill="#222222" stroke="#8a8a8a" stroke-width="0.7"/><line x1="443.77" y1="245.73" x2="443.77" y2="249.33" stroke="#5e5e5e" stroke-width="1.1"/><line x1="439.87" y1="250.03" x2="447.67" y2="250.03" stroke="#5e5e5e" stroke-width="0.9"/><line x1="441.17" y1="247.73" x2="446.37" y2="252.73" stroke="#5e5e5e" stroke-width="0.9"/><line x1="446.37" y1="247.73" x2="441.17" y2="252.73" stroke="#5e5e5e" stroke-width="0.9"/><ellipse cx="443.77" cy="243.73" rx="2.5" ry="2.9" fill="#222222" stroke="#8a8a8a" stroke-width="0.7"/><ellipse cx="443.77" cy="240.33" rx="2.6" ry="3.6" fill="#2a2a2a"/><ellipse cx="443.77" cy="239.13" rx="1.7" ry="2" fill="#f2f2f6"/><circle cx="443.77" cy="235.53" r="1.1" fill="#151515"/><circle cx="443.77" cy="243.33" r="1" fill="#f2f2f6"/><line x1="460.2" y1="245.26" x2="460.2" y2="248.86" stroke="#5e5e5e" stroke-width="1.1"/><line x1="456.31" y1="249.56" x2="464.1" y2="249.56" stroke="#5e5e5e" stroke-width="0.9"/><line x1="457.6" y1="247.26" x2="462.81" y2="252.26" stroke="#5e5e5e" stroke-width="0.9"/><line x1="462.81" y1="247.26" x2="457.6" y2="252.26" stroke="#5e5e5e" stroke-width="0.9"/><ellipse cx="460.2" cy="243.26" rx="2.5" ry="2.9" fill="#222222" stroke="#8a8a8a" stroke-width="0.7"/><line x1="476.64" y1="244.79" x2="476.64" y2="248.39" stroke="#5e5e5e" stroke-width="1.1"/><line x1="472.74" y1="249.09" x2="480.54" y2="249.09" stroke="#5e5e5e" stroke-width="0.9"/><line x1="474.04" y1="246.79" x2="479.24" y2="251.79" stroke="#5e5e5e" stroke-width="0.9"/><line x1="479.24" y1="246.79" x2="474.04" y2="251.79" stroke="#5e5e5e" stroke-width="0.9"/><ellipse cx="476.64" cy="242.79" rx="2.5" ry="2.9" fill="#222222" stroke="#8a8a8a" stroke-width="0.7"/><line x1="493.07" y1="244.32" x2="493.07" y2="247.92" stroke="#5e5e5e" stroke-width="1.1"/><line x1="489.17" y1="248.62" x2="496.97" y2="248.62" stroke="#5e5e5e" stroke-width="0.9"/><line x1="490.47" y1="246.32" x2="495.67" y2="251.32" stroke="#5e5e5e" stroke-width="0.9"/><line x1="495.67" y1="246.32" x2="490.47" y2="251.32" stroke="#5e5e5e" stroke-width="0.9"/><ellipse cx="493.07" cy="242.32" rx="2.5" ry="2.9" fill="#222222" stroke="#8a8a8a" stroke-width="0.7"/><line x1="509.5" y1="248.57" x2="509.5" y2="252.17" stroke="#5e5e5e" stroke-width="1.1"/><line x1="505.61" y1="252.87" x2="513.4" y2="252.87" stroke="#5e5e5e" stroke-width="0.9"/><line x1="506.9" y1="250.57" x2="512.11" y2="255.57" stroke="#5e5e5e" stroke-width="0.9"/><line x1="512.11" y1="250.57" x2="506.9" y2="255.57" stroke="#5e5e5e" stroke-width="0.9"/><ellipse cx="509.5" cy="246.57" rx="2.5" ry="2.9" fill="#222222" stroke="#8a8a8a" stroke-width="0.7"/></g>
<polygon points="412.8,274.6 433.54,269 499.06,267.9 519.9,272.9 519.9,278.7 499.06,271.7 433.54,273.4 413.8,278.8" fill="#48494e" /><polygon points="519.9,272.9 521.2,267.7 521.2,272.7 519.9,278.7" fill="#d7d9e2" /><polygon points="411.7,267.4 433.54,262.4 499.06,261.5 520.9,266.7 519.9,272.9 499.06,267.9 433.54,269 412.8,274.6" fill="url(#gDesk)" /><polyline points="412.8,274.6 433.54,269 499.06,267.9 519.9,272.9" fill="none" stroke="#ffffff" stroke-width="0.9" /><polyline points="411.7,267.4 433.54,262.4 499.06,261.5 520.9,266.7" fill="none" stroke="#45c4d6" stroke-width="1" /><g transform="translate(424.97 264.12) rotate(-12.89)"><rect x="-5.75" y="-2.9" width="11.5" height="4.4" rx="1.2" fill="#7fdcff"/><rect x="-5.75" y="-2.2" width="11.5" height="4.4" rx="1.1" fill="#1b3cc2"/><rect x="-2.88" y="-1" width="5.75" height="1" fill="#5f86ee"/></g><g transform="translate(441.5 261.12) rotate(0)"><rect x="-5.75" y="-2.9" width="11.5" height="4.4" rx="1.2" fill="#7fdcff"/><rect x="-5.75" y="-2.2" width="11.5" height="4.4" rx="1.1" fill="#1b3cc2"/><rect x="-2.88" y="-1" width="5.75" height="1" fill="#5f86ee"/></g><g transform="translate(458.03 260.88) rotate(0)"><rect x="-5.75" y="-2.9" width="11.5" height="4.4" rx="1.2" fill="#7fdcff"/><rect x="-5.75" y="-2.2" width="11.5" height="4.4" rx="1.1" fill="#1b3cc2"/><rect x="-2.88" y="-1" width="5.75" height="1" fill="#5f86ee"/></g><g transform="translate(474.57 260.62) rotate(0)"><rect x="-5.75" y="-2.9" width="11.5" height="4.4" rx="1.2" fill="#7fdcff"/><rect x="-5.75" y="-2.2" width="11.5" height="4.4" rx="1.1" fill="#1b3cc2"/><rect x="-2.88" y="-1" width="5.75" height="1" fill="#5f86ee"/></g><g transform="translate(491.1 260.38) rotate(0)"><rect x="-5.75" y="-2.9" width="11.5" height="4.4" rx="1.2" fill="#7fdcff"/><rect x="-5.75" y="-2.2" width="11.5" height="4.4" rx="1.1" fill="#1b3cc2"/><rect x="-2.88" y="-1" width="5.75" height="1" fill="#5f86ee"/></g><g transform="translate(507.63 263.33) rotate(13.39)"><rect x="-5.75" y="-2.9" width="11.5" height="4.4" rx="1.2" fill="#7fdcff"/><rect x="-5.75" y="-2.2" width="11.5" height="4.4" rx="1.1" fill="#1b3cc2"/><rect x="-2.88" y="-1" width="5.75" height="1" fill="#5f86ee"/></g><line x1="424.98" y1="279.93" x2="424.98" y2="283.53" stroke="#5e5e5e" stroke-width="1.1"/><line x1="421.08" y1="284.23" x2="428.88" y2="284.23" stroke="#5e5e5e" stroke-width="0.9"/><line x1="422.38" y1="281.93" x2="427.58" y2="286.93" stroke="#5e5e5e" stroke-width="0.9"/><line x1="427.58" y1="281.93" x2="422.38" y2="286.93" stroke="#5e5e5e" stroke-width="0.9"/><ellipse cx="424.98" cy="277.93" rx="2.5" ry="2.9" fill="#222222" stroke="#8a8a8a" stroke-width="0.7"/><line x1="441.84" y1="276.83" x2="441.84" y2="280.43" stroke="#5e5e5e" stroke-width="1.1"/><line x1="437.94" y1="281.13" x2="445.74" y2="281.13" stroke="#5e5e5e" stroke-width="0.9"/><line x1="439.24" y1="278.83" x2="444.44" y2="283.83" stroke="#5e5e5e" stroke-width="0.9"/><line x1="444.44" y1="278.83" x2="439.24" y2="283.83" stroke="#5e5e5e" stroke-width="0.9"/><ellipse cx="441.84" cy="274.83" rx="2.5" ry="2.9" fill="#222222" stroke="#8a8a8a" stroke-width="0.7"/><line x1="458.71" y1="276.36" x2="458.71" y2="279.96" stroke="#5e5e5e" stroke-width="1.1"/><line x1="454.81" y1="280.66" x2="462.61" y2="280.66" stroke="#5e5e5e" stroke-width="0.9"/><line x1="456.11" y1="278.36" x2="461.31" y2="283.36" stroke="#5e5e5e" stroke-width="0.9"/><line x1="461.31" y1="278.36" x2="456.11" y2="283.36" stroke="#5e5e5e" stroke-width="0.9"/><ellipse cx="458.71" cy="274.36" rx="2.5" ry="2.9" fill="#222222" stroke="#8a8a8a" stroke-width="0.7"/><ellipse cx="458.71" cy="270.96" rx="2.6" ry="3.6" fill="#2a2a2a"/><ellipse cx="458.71" cy="269.76" rx="1.7" ry="2" fill="#f2f2f6"/><circle cx="458.71" cy="266.16" r="1.1" fill="#151515"/><circle cx="458.71" cy="273.96" r="1" fill="#f2f2f6"/><line x1="475.58" y1="275.89" x2="475.58" y2="279.49" stroke="#5e5e5e" stroke-width="1.1"/><line x1="471.68" y1="280.19" x2="479.48" y2="280.19" stroke="#5e5e5e" stroke-width="0.9"/><line x1="472.98" y1="277.89" x2="478.18" y2="282.89" stroke="#5e5e5e" stroke-width="0.9"/><line x1="478.18" y1="277.89" x2="472.98" y2="282.89" stroke="#5e5e5e" stroke-width="0.9"/><ellipse cx="475.58" cy="273.89" rx="2.5" ry="2.9" fill="#222222" stroke="#8a8a8a" stroke-width="0.7"/><line x1="492.44" y1="275.42" x2="492.44" y2="279.02" stroke="#5e5e5e" stroke-width="1.1"/><line x1="488.54" y1="279.72" x2="496.34" y2="279.72" stroke="#5e5e5e" stroke-width="0.9"/><line x1="489.84" y1="277.42" x2="495.04" y2="282.42" stroke="#5e5e5e" stroke-width="0.9"/><line x1="495.04" y1="277.42" x2="489.84" y2="282.42" stroke="#5e5e5e" stroke-width="0.9"/><ellipse cx="492.44" cy="273.42" rx="2.5" ry="2.9" fill="#222222" stroke="#8a8a8a" stroke-width="0.7"/><line x1="509.31" y1="279.68" x2="509.31" y2="283.28" stroke="#5e5e5e" stroke-width="1.1"/><line x1="505.41" y1="283.98" x2="513.21" y2="283.98" stroke="#5e5e5e" stroke-width="0.9"/><line x1="506.71" y1="281.68" x2="511.91" y2="286.68" stroke="#5e5e5e" stroke-width="0.9"/><line x1="511.91" y1="281.68" x2="506.71" y2="286.68" stroke="#5e5e5e" stroke-width="0.9"/><ellipse cx="509.31" cy="277.68" rx="2.5" ry="2.9" fill="#222222" stroke="#8a8a8a" stroke-width="0.7"/>
<g transform="translate(1062.5 0) scale(-1 1)"><polygon points="412.8,274.6 433.54,269 499.06,267.9 519.9,272.9 519.9,278.7 499.06,271.7 433.54,273.4 413.8,278.8" fill="#48494e" /><polygon points="519.9,272.9 521.2,267.7 521.2,272.7 519.9,278.7" fill="#d7d9e2" /><polygon points="411.7,267.4 433.54,262.4 499.06,261.5 520.9,266.7 519.9,272.9 499.06,267.9 433.54,269 412.8,274.6" fill="url(#gDesk)" /><polyline points="412.8,274.6 433.54,269 499.06,267.9 519.9,272.9" fill="none" stroke="#ffffff" stroke-width="0.9" /><polyline points="411.7,267.4 433.54,262.4 499.06,261.5 520.9,266.7" fill="none" stroke="#45c4d6" stroke-width="1" /><g transform="translate(424.97 264.12) rotate(-12.89)"><rect x="-5.75" y="-2.9" width="11.5" height="4.4" rx="1.2" fill="#7fdcff"/><rect x="-5.75" y="-2.2" width="11.5" height="4.4" rx="1.1" fill="#1b3cc2"/><rect x="-2.88" y="-1" width="5.75" height="1" fill="#5f86ee"/></g><g transform="translate(441.5 261.12) rotate(0)"><rect x="-5.75" y="-2.9" width="11.5" height="4.4" rx="1.2" fill="#7fdcff"/><rect x="-5.75" y="-2.2" width="11.5" height="4.4" rx="1.1" fill="#1b3cc2"/><rect x="-2.88" y="-1" width="5.75" height="1" fill="#5f86ee"/></g><g transform="translate(458.03 260.88) rotate(0)"><rect x="-5.75" y="-2.9" width="11.5" height="4.4" rx="1.2" fill="#7fdcff"/><rect x="-5.75" y="-2.2" width="11.5" height="4.4" rx="1.1" fill="#1b3cc2"/><rect x="-2.88" y="-1" width="5.75" height="1" fill="#5f86ee"/></g><g transform="translate(474.57 260.62) rotate(0)"><rect x="-5.75" y="-2.9" width="11.5" height="4.4" rx="1.2" fill="#7fdcff"/><rect x="-5.75" y="-2.2" width="11.5" height="4.4" rx="1.1" fill="#1b3cc2"/><rect x="-2.88" y="-1" width="5.75" height="1" fill="#5f86ee"/></g><g transform="translate(491.1 260.38) rotate(0)"><rect x="-5.75" y="-2.9" width="11.5" height="4.4" rx="1.2" fill="#7fdcff"/><rect x="-5.75" y="-2.2" width="11.5" height="4.4" rx="1.1" fill="#1b3cc2"/><rect x="-2.88" y="-1" width="5.75" height="1" fill="#5f86ee"/></g><g transform="translate(507.63 263.33) rotate(13.39)"><rect x="-5.75" y="-2.9" width="11.5" height="4.4" rx="1.2" fill="#7fdcff"/><rect x="-5.75" y="-2.2" width="11.5" height="4.4" rx="1.1" fill="#1b3cc2"/><rect x="-2.88" y="-1" width="5.75" height="1" fill="#5f86ee"/></g><line x1="424.98" y1="279.93" x2="424.98" y2="283.53" stroke="#5e5e5e" stroke-width="1.1"/><line x1="421.08" y1="284.23" x2="428.88" y2="284.23" stroke="#5e5e5e" stroke-width="0.9"/><line x1="422.38" y1="281.93" x2="427.58" y2="286.93" stroke="#5e5e5e" stroke-width="0.9"/><line x1="427.58" y1="281.93" x2="422.38" y2="286.93" stroke="#5e5e5e" stroke-width="0.9"/><ellipse cx="424.98" cy="277.93" rx="2.5" ry="2.9" fill="#222222" stroke="#8a8a8a" stroke-width="0.7"/><line x1="441.84" y1="276.83" x2="441.84" y2="280.43" stroke="#5e5e5e" stroke-width="1.1"/><line x1="437.94" y1="281.13" x2="445.74" y2="281.13" stroke="#5e5e5e" stroke-width="0.9"/><line x1="439.24" y1="278.83" x2="444.44" y2="283.83" stroke="#5e5e5e" stroke-width="0.9"/><line x1="444.44" y1="278.83" x2="439.24" y2="283.83" stroke="#5e5e5e" stroke-width="0.9"/><ellipse cx="441.84" cy="274.83" rx="2.5" ry="2.9" fill="#222222" stroke="#8a8a8a" stroke-width="0.7"/><line x1="458.71" y1="276.36" x2="458.71" y2="279.96" stroke="#5e5e5e" stroke-width="1.1"/><line x1="454.81" y1="280.66" x2="462.61" y2="280.66" stroke="#5e5e5e" stroke-width="0.9"/><line x1="456.11" y1="278.36" x2="461.31" y2="283.36" stroke="#5e5e5e" stroke-width="0.9"/><line x1="461.31" y1="278.36" x2="456.11" y2="283.36" stroke="#5e5e5e" stroke-width="0.9"/><ellipse cx="458.71" cy="274.36" rx="2.5" ry="2.9" fill="#222222" stroke="#8a8a8a" stroke-width="0.7"/><line x1="475.58" y1="275.89" x2="475.58" y2="279.49" stroke="#5e5e5e" stroke-width="1.1"/><line x1="471.68" y1="280.19" x2="479.48" y2="280.19" stroke="#5e5e5e" stroke-width="0.9"/><line x1="472.98" y1="277.89" x2="478.18" y2="282.89" stroke="#5e5e5e" stroke-width="0.9"/><line x1="478.18" y1="277.89" x2="472.98" y2="282.89" stroke="#5e5e5e" stroke-width="0.9"/><ellipse cx="475.58" cy="273.89" rx="2.5" ry="2.9" fill="#222222" stroke="#8a8a8a" stroke-width="0.7"/><line x1="492.44" y1="275.42" x2="492.44" y2="279.02" stroke="#5e5e5e" stroke-width="1.1"/><line x1="488.54" y1="279.72" x2="496.34" y2="279.72" stroke="#5e5e5e" stroke-width="0.9"/><line x1="489.84" y1="277.42" x2="495.04" y2="282.42" stroke="#5e5e5e" stroke-width="0.9"/><line x1="495.04" y1="277.42" x2="489.84" y2="282.42" stroke="#5e5e5e" stroke-width="0.9"/><ellipse cx="492.44" cy="273.42" rx="2.5" ry="2.9" fill="#222222" stroke="#8a8a8a" stroke-width="0.7"/><line x1="509.31" y1="279.68" x2="509.31" y2="283.28" stroke="#5e5e5e" stroke-width="1.1"/><line x1="505.41" y1="283.98" x2="513.21" y2="283.98" stroke="#5e5e5e" stroke-width="0.9"/><line x1="506.71" y1="281.68" x2="511.91" y2="286.68" stroke="#5e5e5e" stroke-width="0.9"/><line x1="511.91" y1="281.68" x2="506.71" y2="286.68" stroke="#5e5e5e" stroke-width="0.9"/><ellipse cx="509.31" cy="277.68" rx="2.5" ry="2.9" fill="#222222" stroke="#8a8a8a" stroke-width="0.7"/><ellipse cx="509.31" cy="274.28" rx="2.6" ry="3.6" fill="#2a2a2a"/><ellipse cx="509.31" cy="273.07" rx="1.7" ry="2" fill="#f2f2f6"/><circle cx="509.31" cy="269.48" r="1.1" fill="#151515"/><circle cx="509.31" cy="277.28" r="1" fill="#f2f2f6"/></g>
<g transform="translate(440 280) scale(0.18519)"><path d="M232 300 Q350 205 497 190 Q650 205 775 300 L772 338 Q650 235 497 218 Q350 235 230 336 Z" fill="#48494e"/><path d="M205 245 Q330 150 497 132 Q670 150 800 245 L775 300 Q650 205 497 190 Q350 205 232 300 Z" fill="url(#gDesk)"/><path d="M232 300 Q350 205 497 190 Q650 205 775 300" fill="none" stroke="#fff" stroke-width="4"/><path d="M205 245 L232 300 L230 336 L208 285 Z" fill="#eceef3"/><path d="M800 245 L775 300 L772 338 L798 285 Z" fill="#d4d6de"/><g transform="translate(262 207) scale(5.4)"><g transform="translate(0 0) rotate(-33)"><rect x="-6.25" y="-3" width="12.5" height="4.6" rx="1.2" fill="#7fdcff"/><rect x="-6.25" y="-2.3" width="12.5" height="4.6" rx="1.1" fill="#1b3cc2"/><rect x="-3.12" y="-1.1" width="6.25" height="1" fill="#5f86ee"/></g></g><g transform="translate(368 160) scale(5.4)"><g transform="translate(0 0) rotate(-18)"><rect x="-6.25" y="-3" width="12.5" height="4.6" rx="1.2" fill="#7fdcff"/><rect x="-6.25" y="-2.3" width="12.5" height="4.6" rx="1.1" fill="#1b3cc2"/><rect x="-3.12" y="-1.1" width="6.25" height="1" fill="#5f86ee"/></g></g><g transform="translate(497 138) scale(5.4)"><g transform="translate(0 0) rotate(0)"><rect x="-6.25" y="-3" width="12.5" height="4.6" rx="1.2" fill="#7fdcff"/><rect x="-6.25" y="-2.3" width="12.5" height="4.6" rx="1.1" fill="#1b3cc2"/><rect x="-3.12" y="-1.1" width="6.25" height="1" fill="#5f86ee"/></g></g><g transform="translate(626 160) scale(5.4)"><g transform="translate(0 0) rotate(18)"><rect x="-6.25" y="-3" width="12.5" height="4.6" rx="1.2" fill="#7fdcff"/><rect x="-6.25" y="-2.3" width="12.5" height="4.6" rx="1.1" fill="#1b3cc2"/><rect x="-3.12" y="-1.1" width="6.25" height="1" fill="#5f86ee"/></g></g><g transform="translate(734 207) scale(5.4)"><g transform="translate(0 0) rotate(33)"><rect x="-6.25" y="-3" width="12.5" height="4.6" rx="1.2" fill="#7fdcff"/><rect x="-6.25" y="-2.3" width="12.5" height="4.6" rx="1.1" fill="#1b3cc2"/><rect x="-3.12" y="-1.1" width="6.25" height="1" fill="#5f86ee"/></g></g><g transform="translate(295 305) scale(5.4)"><line x1="0" y1="2.3" x2="0" y2="6.44" stroke="#5e5e5e" stroke-width="1.26"/><line x1="-4.48" y1="7.24" x2="4.48" y2="7.24" stroke="#5e5e5e" stroke-width="1.03"/><line x1="-2.99" y1="4.6" x2="2.99" y2="10.35" stroke="#5e5e5e" stroke-width="1.03"/><line x1="2.99" y1="4.6" x2="-2.99" y2="10.35" stroke="#5e5e5e" stroke-width="1.03"/><ellipse cx="0" cy="0" rx="2.88" ry="3.33" fill="#222222" stroke="#8a8a8a" stroke-width="0.8"/></g><g transform="translate(395 258) scale(5.4)"><line x1="0" y1="2.3" x2="0" y2="6.44" stroke="#5e5e5e" stroke-width="1.26"/><line x1="-4.48" y1="7.24" x2="4.48" y2="7.24" stroke="#5e5e5e" stroke-width="1.03"/><line x1="-2.99" y1="4.6" x2="2.99" y2="10.35" stroke="#5e5e5e" stroke-width="1.03"/><line x1="2.99" y1="4.6" x2="-2.99" y2="10.35" stroke="#5e5e5e" stroke-width="1.03"/><ellipse cx="0" cy="0" rx="2.88" ry="3.33" fill="#222222" stroke="#8a8a8a" stroke-width="0.8"/></g><g transform="translate(497 235) scale(5.4)"><line x1="0" y1="2.3" x2="0" y2="6.44" stroke="#5e5e5e" stroke-width="1.26"/><line x1="-4.48" y1="7.24" x2="4.48" y2="7.24" stroke="#5e5e5e" stroke-width="1.03"/><line x1="-2.99" y1="4.6" x2="2.99" y2="10.35" stroke="#5e5e5e" stroke-width="1.03"/><line x1="2.99" y1="4.6" x2="-2.99" y2="10.35" stroke="#5e5e5e" stroke-width="1.03"/><ellipse cx="0" cy="0" rx="2.88" ry="3.33" fill="#222222" stroke="#8a8a8a" stroke-width="0.8"/><ellipse cx="0" cy="-3.91" rx="2.99" ry="4.14" fill="#2a2a2a"/><ellipse cx="0" cy="-5.29" rx="1.95" ry="2.3" fill="#f2f2f6"/><circle cx="0" cy="-9.43" r="1.26" fill="#151515"/><circle cx="0" cy="-0.46" r="1.15" fill="#f2f2f6"/></g><g transform="translate(600 258) scale(5.4)"><line x1="0" y1="2.3" x2="0" y2="6.44" stroke="#5e5e5e" stroke-width="1.26"/><line x1="-4.48" y1="7.24" x2="4.48" y2="7.24" stroke="#5e5e5e" stroke-width="1.03"/><line x1="-2.99" y1="4.6" x2="2.99" y2="10.35" stroke="#5e5e5e" stroke-width="1.03"/><line x1="2.99" y1="4.6" x2="-2.99" y2="10.35" stroke="#5e5e5e" stroke-width="1.03"/><ellipse cx="0" cy="0" rx="2.88" ry="3.33" fill="#222222" stroke="#8a8a8a" stroke-width="0.8"/></g><g transform="translate(695 305) scale(5.4)"><line x1="0" y1="2.3" x2="0" y2="6.44" stroke="#5e5e5e" stroke-width="1.26"/><line x1="-4.48" y1="7.24" x2="4.48" y2="7.24" stroke="#5e5e5e" stroke-width="1.03"/><line x1="-2.99" y1="4.6" x2="2.99" y2="10.35" stroke="#5e5e5e" stroke-width="1.03"/><line x1="2.99" y1="4.6" x2="-2.99" y2="10.35" stroke="#5e5e5e" stroke-width="1.03"/><ellipse cx="0" cy="0" rx="2.88" ry="3.33" fill="#222222" stroke="#8a8a8a" stroke-width="0.8"/></g></g>

<text class="zone" x="332" y="347" font-style="italic">A区</text>
<text class="zone" x="464.5" y="302.3" font-style="italic">C区</text>
<text class="zone" x="735.8" y="347" font-style="italic">B区</text>
<text class="zone" x="592.3" y="302.3" font-style="italic">D区</text>
<text x="530.8" y="349" font-size="8" font-weight="900" font-style="italic" fill="#fff" stroke="#2a2a2a" stroke-width="1.6" paint-order="stroke" text-anchor="middle">指挥席</text>
<rect x="510" y="353.8" width="39" height="9.8" rx="2.2" fill="#2a1f1a" transform="translate(529.5 358.7) skewX(-14) translate(-529.5 -358.7)"/><text class="room" x="529.2" y="361.9">指挥大厅</text>
<g transform="translate(90 85) scale(0.18519)"><line x1="335" y1="260" x2="285" y2="418" stroke="#3fc24a" stroke-width="5"/><line x1="610" y1="235" x2="560" y2="418" stroke="#c8d83a" stroke-width="5"/><line x1="870" y1="260" x2="830" y2="418" stroke="#3fc24a" stroke-width="5"/><line x1="598" y1="425" x2="585" y2="478" stroke="#2fb8c8" stroke-width="4"/><rect x="327" y="195" width="16" height="48" rx="4" fill="#8a6e66" transform="rotate(-8 335 215)"/><rect x="862" y="195" width="16" height="48" rx="4" fill="#8a6e66" transform="rotate(-8 870 215)"/><g transform="translate(225 312) scale(5.4) rotate(-25)"><line x1="0" y1="2.2" x2="0" y2="6.16" stroke="#e6e2f0" stroke-width="1.21"/><line x1="-4.29" y1="6.93" x2="4.29" y2="6.93" stroke="#e6e2f0" stroke-width="0.99"/><line x1="-2.86" y1="4.4" x2="2.86" y2="9.9" stroke="#e6e2f0" stroke-width="0.99"/><line x1="2.86" y1="4.4" x2="-2.86" y2="9.9" stroke="#e6e2f0" stroke-width="0.99"/><ellipse cx="0" cy="0" rx="2.75" ry="3.19" fill="#4a4c50" stroke="#8a8a8a" stroke-width="0.77"/></g><g transform="translate(205 370) scale(5.4) rotate(-25)"><line x1="0" y1="2.2" x2="0" y2="6.16" stroke="#e6e2f0" stroke-width="1.21"/><line x1="-4.29" y1="6.93" x2="4.29" y2="6.93" stroke="#e6e2f0" stroke-width="0.99"/><line x1="-2.86" y1="4.4" x2="2.86" y2="9.9" stroke="#e6e2f0" stroke-width="0.99"/><line x1="2.86" y1="4.4" x2="-2.86" y2="9.9" stroke="#e6e2f0" stroke-width="0.99"/><ellipse cx="0" cy="0" rx="2.75" ry="3.19" fill="#4a4c50" stroke="#8a8a8a" stroke-width="0.77"/></g><g transform="translate(185 430) scale(5.4) rotate(-25)"><line x1="0" y1="2.2" x2="0" y2="6.16" stroke="#e6e2f0" stroke-width="1.21"/><line x1="-4.29" y1="6.93" x2="4.29" y2="6.93" stroke="#e6e2f0" stroke-width="0.99"/><line x1="-2.86" y1="4.4" x2="2.86" y2="9.9" stroke="#e6e2f0" stroke-width="0.99"/><line x1="2.86" y1="4.4" x2="-2.86" y2="9.9" stroke="#e6e2f0" stroke-width="0.99"/><ellipse cx="0" cy="0" rx="2.75" ry="3.19" fill="#4a4c50" stroke="#8a8a8a" stroke-width="0.77"/></g><g transform="translate(165 492) scale(5.4) rotate(-25)"><line x1="0" y1="2.2" x2="0" y2="6.16" stroke="#e6e2f0" stroke-width="1.21"/><line x1="-4.29" y1="6.93" x2="4.29" y2="6.93" stroke="#e6e2f0" stroke-width="0.99"/><line x1="-2.86" y1="4.4" x2="2.86" y2="9.9" stroke="#e6e2f0" stroke-width="0.99"/><line x1="2.86" y1="4.4" x2="-2.86" y2="9.9" stroke="#e6e2f0" stroke-width="0.99"/><ellipse cx="0" cy="0" rx="2.75" ry="3.19" fill="#4a4c50" stroke="#8a8a8a" stroke-width="0.77"/></g><g transform="translate(917 447) scale(5.4) rotate(15)"><line x1="0" y1="1.9" x2="0" y2="5.32" stroke="#eef1f4" stroke-width="1.04"/><line x1="-3.7" y1="5.98" x2="3.7" y2="5.98" stroke="#eef1f4" stroke-width="0.85"/><line x1="-2.47" y1="3.8" x2="2.47" y2="8.55" stroke="#eef1f4" stroke-width="0.85"/><line x1="2.47" y1="3.8" x2="-2.47" y2="8.55" stroke="#eef1f4" stroke-width="0.85"/><ellipse cx="0" cy="0" rx="2.38" ry="2.75" fill="#80858c" stroke="#d8dce0" stroke-width="0.66"/></g><g transform="translate(905 503) scale(5.4) rotate(15)"><line x1="0" y1="1.9" x2="0" y2="5.32" stroke="#eef1f4" stroke-width="1.04"/><line x1="-3.7" y1="5.98" x2="3.7" y2="5.98" stroke="#eef1f4" stroke-width="0.85"/><line x1="-2.47" y1="3.8" x2="2.47" y2="8.55" stroke="#eef1f4" stroke-width="0.85"/><line x1="2.47" y1="3.8" x2="-2.47" y2="8.55" stroke="#eef1f4" stroke-width="0.85"/><ellipse cx="0" cy="0" rx="2.38" ry="2.75" fill="#80858c" stroke="#d8dce0" stroke-width="0.66"/></g><g transform="translate(350 570) scale(5.4)"><line x1="0" y1="2.2" x2="0" y2="6.16" stroke="#e6e2f0" stroke-width="1.21"/><line x1="-4.29" y1="6.93" x2="4.29" y2="6.93" stroke="#e6e2f0" stroke-width="0.99"/><line x1="-2.86" y1="4.4" x2="2.86" y2="9.9" stroke="#e6e2f0" stroke-width="0.99"/><line x1="2.86" y1="4.4" x2="-2.86" y2="9.9" stroke="#e6e2f0" stroke-width="0.99"/><ellipse cx="0" cy="0" rx="2.75" ry="3.19" fill="#4a4c50" stroke="#8a8a8a" stroke-width="0.77"/></g><g transform="translate(440 570) scale(5.4)"><line x1="0" y1="2.2" x2="0" y2="6.16" stroke="#e6e2f0" stroke-width="1.21"/><line x1="-4.29" y1="6.93" x2="4.29" y2="6.93" stroke="#e6e2f0" stroke-width="0.99"/><line x1="-2.86" y1="4.4" x2="2.86" y2="9.9" stroke="#e6e2f0" stroke-width="0.99"/><line x1="2.86" y1="4.4" x2="-2.86" y2="9.9" stroke="#e6e2f0" stroke-width="0.99"/><ellipse cx="0" cy="0" rx="2.75" ry="3.19" fill="#4a4c50" stroke="#8a8a8a" stroke-width="0.77"/></g><g transform="translate(528 570) scale(5.4)"><line x1="0" y1="2.2" x2="0" y2="6.16" stroke="#e6e2f0" stroke-width="1.21"/><line x1="-4.29" y1="6.93" x2="4.29" y2="6.93" stroke="#e6e2f0" stroke-width="0.99"/><line x1="-2.86" y1="4.4" x2="2.86" y2="9.9" stroke="#e6e2f0" stroke-width="0.99"/><line x1="2.86" y1="4.4" x2="-2.86" y2="9.9" stroke="#e6e2f0" stroke-width="0.99"/><ellipse cx="0" cy="0" rx="2.75" ry="3.19" fill="#4a4c50" stroke="#8a8a8a" stroke-width="0.77"/></g><g transform="translate(615 570) scale(5.4)"><line x1="0" y1="2.2" x2="0" y2="6.16" stroke="#e6e2f0" stroke-width="1.21"/><line x1="-4.29" y1="6.93" x2="4.29" y2="6.93" stroke="#e6e2f0" stroke-width="0.99"/><line x1="-2.86" y1="4.4" x2="2.86" y2="9.9" stroke="#e6e2f0" stroke-width="0.99"/><line x1="2.86" y1="4.4" x2="-2.86" y2="9.9" stroke="#e6e2f0" stroke-width="0.99"/><ellipse cx="0" cy="0" rx="2.75" ry="3.19" fill="#4a4c50" stroke="#8a8a8a" stroke-width="0.77"/></g><polygon points="322,502 680,502 684,548 640,538 322,538" fill="url(#gDesk)" stroke="#f4f5fa" stroke-width="3"/><polygon points="322,538 640,538 684,548 684,566 640,552 326,552" fill="#4a4b50"/><g transform="translate(368 490) scale(5.4)"><g transform="translate(0 0) rotate(0)"><rect x="-5.75" y="-3" width="11.5" height="4.6" rx="1.2" fill="#7fdcff"/><rect x="-5.75" y="-2.3" width="11.5" height="4.6" rx="1.1" fill="#1b3cc2"/><rect x="-2.88" y="-1.1" width="5.75" height="1" fill="#5f86ee"/></g></g><g transform="translate(455 490) scale(5.4)"><g transform="translate(0 0) rotate(0)"><rect x="-5.75" y="-3" width="11.5" height="4.6" rx="1.2" fill="#7fdcff"/><rect x="-5.75" y="-2.3" width="11.5" height="4.6" rx="1.1" fill="#1b3cc2"/><rect x="-2.88" y="-1.1" width="5.75" height="1" fill="#5f86ee"/></g></g><g transform="translate(542 490) scale(5.4)"><g transform="translate(0 0) rotate(0)"><rect x="-5.75" y="-3" width="11.5" height="4.6" rx="1.2" fill="#7fdcff"/><rect x="-5.75" y="-2.3" width="11.5" height="4.6" rx="1.1" fill="#1b3cc2"/><rect x="-2.88" y="-1.1" width="5.75" height="1" fill="#5f86ee"/></g></g><g transform="translate(628 490) scale(5.4)"><g transform="translate(0 0) rotate(0)"><rect x="-5.75" y="-3" width="11.5" height="4.6" rx="1.2" fill="#7fdcff"/><rect x="-5.75" y="-2.3" width="11.5" height="4.6" rx="1.1" fill="#1b3cc2"/><rect x="-2.88" y="-1.1" width="5.75" height="1" fill="#5f86ee"/></g></g><path d="M895 585 L940 580 M895 585 Q905 640 935 672 M890 680 L930 675" fill="none" stroke="#8a9aa0" stroke-width="3.5"/></g>
<g transform="translate(140 90) scale(0.11111)"><path d="M95 95 Q510 50 930 90 L965 330 Q560 290 160 322 Z" fill="#0a0c12" stroke="#ffffff" stroke-width="9" stroke-linejoin="round"/><path d="M95 95 Q510 50 930 90 L965 330 Q560 290 160 322 Z" fill="#0a0c12"/><path d="M112 108 Q230 92 345 88 L392 300 Q280 300 172 310 Z" fill="#0a1c5e"/><path d="M135 132 L352 118" stroke="#3f78d8" stroke-width="7" opacity=".75"/><path d="M141 154 L357 140" stroke="#3f78d8" stroke-width="7" opacity=".75"/><path d="M147 176 L362 162" stroke="#3f78d8" stroke-width="7" opacity=".75"/><path d="M153 198 L367 184" stroke="#3f78d8" stroke-width="7" opacity=".75"/><path d="M159 220 L372 206" stroke="#3f78d8" stroke-width="7" opacity=".75"/><path d="M165 242 L377 228" stroke="#3f78d8" stroke-width="7" opacity=".75"/><path d="M185 232 L370 218 L376 244 L192 258 Z" fill="#e8e8c8" opacity=".85"/><path d="M195 270 L380 255 L386 284 L203 298 Z" fill="#d8d0a8" opacity=".8"/><path d="M118 128 L150 124 L190 300 L172 306 Z" fill="#2f8ae0" opacity=".7"/><polygon points="355,92 450,89 458,157 364,160" fill="#3a3428"/><polygon points="369,104 436,101 442,129.4 373,132.8" fill="#e8e4d0"/><polygon points="456,88 545,85 553,153 465,156" fill="#2a3a8a"/><polygon points="470,100 531,97 537,125.4 474,128.8" fill="#c8d0f0"/><polygon points="550,86 640,83 648,149 559,152" fill="#8a6a20"/><polygon points="564,98 626,95 632,122.3 568,125.6" fill="#e8c040"/><polygon points="368,168 462,165 470,232 377,235" fill="#6a4a30"/><polygon points="382,180 448,177 454,204.85 386,208.2" fill="#d8c8a8"/><polygon points="468,164 558,161 566,227 477,230" fill="#4a5a4a"/><polygon points="482,176 544,173 550,200.3 486,203.6" fill="#c8c890"/><polygon points="563,162 652,159 660,223 572,226" fill="#2a2a30"/><polygon points="577,174 638,171 644,197.2 581,200.4" fill="#f0f0f0"/><polygon points="385,243 480,240 488,297 394,300" fill="#5a3a28"/><polygon points="399,255 466,252 472,274.35 403,277.2" fill="#c8a070"/><polygon points="486,240 572,237 580,293 495,296" fill="#303840"/><polygon points="500,252 558,249 564,270.8 504,273.6" fill="#e8eef0"/><polygon points="577,238 664,235 672,291 586,294" fill="#3a6a9a"/><polygon points="591,250 650,247 656,268.8 595,271.6" fill="#dfeaf4"/><polygon points="648,92 775,96 793,219 664,215" fill="#f0f2f4"/><rect x="678" y="132" width="14" height="62" fill="#3a4a5a"/><circle cx="685" cy="124" r="8" fill="#5a4a3a"/><rect x="712" y="138" width="14" height="62" fill="#3a4a5a"/><circle cx="719" cy="130" r="8" fill="#5a4a3a"/><rect x="746" y="144" width="14" height="62" fill="#3a4a5a"/><circle cx="753" cy="136" r="8" fill="#5a4a3a"/><polygon points="785,98 915,102 933,226 801,222" fill="#eef0f2"/><rect x="815" y="138" width="14" height="62" fill="#3a4a5a"/><circle cx="822" cy="130" r="8" fill="#5a4a3a"/><rect x="849" y="144" width="14" height="62" fill="#3a4a5a"/><circle cx="856" cy="136" r="8" fill="#5a4a3a"/><rect x="883" y="150" width="14" height="62" fill="#3a4a5a"/><circle cx="890" cy="142" r="8" fill="#5a4a3a"/><polygon points="670,226 790,230 800,296 680,290" fill="#7a5a30"/><polygon points="735,262 795,266 800,296 740,293" fill="#2a3a9a"/><polygon points="690,238 770,241 772,258 693,255" fill="#c8d8e0"/><polygon points="808,232 935,240 945,312 818,300" fill="#9a7a3a"/><polygon points="825,270 930,280 936,305 830,296" fill="#d8c070"/><polygon points="830,240 920,247 922,262 833,255" fill="#e8eef0"/></g>
<rect x="109.1" y="199.9" width="30.5" height="9" rx="2.2" fill="#2a1f1a" transform="translate(124.35 204.4) skewX(-14) translate(-124.35 -204.4)"/><text class="room" x="124.05" y="207.6">保障室</text>
<g transform="translate(40 200) scale(0.20371)"><path d="M440 160 L405 330" stroke="#111" stroke-width="6" fill="none"/><path d="M555 160 L543 215" stroke="#1b9cf0" stroke-width="7" fill="none"/><path d="M670 160 L658 215" stroke="#1b9cf0" stroke-width="7" fill="none"/><path d="M785 160 L773 215" stroke="#1b9cf0" stroke-width="7" fill="none"/><path d="M900 160 L888 215" stroke="#1b9cf0" stroke-width="7" fill="none"/><path d="M540 265 L526 330" stroke="#1b9cf0" stroke-width="7" fill="none"/><path d="M655 265 L641 330" stroke="#1b9cf0" stroke-width="7" fill="none"/><path d="M770 265 L756 330" stroke="#1b9cf0" stroke-width="7" fill="none"/><path d="M885 265 L878 300" stroke="#1b9cf0" stroke-width="7" fill="none"/><path d="M402 330 L770 330" stroke="#1b9cf0" stroke-width="7" fill="none"/><path d="M775 412 L380 412 L355 500" stroke="#1b9cf0" stroke-width="7" fill="none"/><path d="M790 470 L635 470 L600 622" stroke="#1b9cf0" stroke-width="7" fill="none"/><path d="M825 495 L810 565" stroke="#1b9cf0" stroke-width="7" fill="none"/><path d="M975 385 L1080 380" stroke="#35c6ff" stroke-width="9" fill="none"/><polygon points="388,55 416,48 432,60 432,145 404,152 388,140" fill="#1f86ee"/><polygon points="388,55 416,48 432,60 404,67" fill="#bfe8ff"/><polygon points="388,55 404,67 404,152 388,140" fill="#5fbcff"/><polygon points="393,70 399,74 399,144 393,140" fill="#c8ecff"/><polygon points="414,72 422,67 422,140 414,145" fill="#dff4ff"/><polygon points="418,63 446,56 462,68 462,153 434,160 418,148" fill="#1f86ee"/><polygon points="418,63 446,56 462,68 434,75" fill="#bfe8ff"/><polygon points="418,63 434,75 434,160 418,148" fill="#5fbcff"/><polygon points="423,78 429,82 429,152 423,148" fill="#c8ecff"/><polygon points="444,80 452,75 452,148 444,153" fill="#dff4ff"/><polygon points="446,71 474,64 490,76 490,161 462,168 446,156" fill="#1f86ee"/><polygon points="446,71 474,64 490,76 462,83" fill="#bfe8ff"/><polygon points="446,71 462,83 462,168 446,156" fill="#5fbcff"/><polygon points="451,86 457,90 457,160 451,156" fill="#c8ecff"/><polygon points="472,88 480,83 480,156 472,161" fill="#dff4ff"/><polygon points="503,55 531,48 547,60 547,145 519,152 503,140" fill="#1f86ee"/><polygon points="503,55 531,48 547,60 519,67" fill="#bfe8ff"/><polygon points="503,55 519,67 519,152 503,140" fill="#5fbcff"/><polygon points="508,70 514,74 514,144 508,140" fill="#c8ecff"/><polygon points="529,72 537,67 537,140 529,145" fill="#dff4ff"/><polygon points="533,63 561,56 577,68 577,153 549,160 533,148" fill="#1f86ee"/><polygon points="533,63 561,56 577,68 549,75" fill="#bfe8ff"/><polygon points="533,63 549,75 549,160 533,148" fill="#5fbcff"/><polygon points="538,78 544,82 544,152 538,148" fill="#c8ecff"/><polygon points="559,80 567,75 567,148 559,153" fill="#dff4ff"/><polygon points="561,71 589,64 605,76 605,161 577,168 561,156" fill="#1f86ee"/><polygon points="561,71 589,64 605,76 577,83" fill="#bfe8ff"/><polygon points="561,71 577,83 577,168 561,156" fill="#5fbcff"/><polygon points="566,86 572,90 572,160 566,156" fill="#c8ecff"/><polygon points="587,88 595,83 595,156 587,161" fill="#dff4ff"/><polygon points="618,55 646,48 662,60 662,145 634,152 618,140" fill="#1f86ee"/><polygon points="618,55 646,48 662,60 634,67" fill="#bfe8ff"/><polygon points="618,55 634,67 634,152 618,140" fill="#5fbcff"/><polygon points="623,70 629,74 629,144 623,140" fill="#c8ecff"/><polygon points="644,72 652,67 652,140 644,145" fill="#dff4ff"/><polygon points="648,63 676,56 692,68 692,153 664,160 648,148" fill="#1f86ee"/><polygon points="648,63 676,56 692,68 664,75" fill="#bfe8ff"/><polygon points="648,63 664,75 664,160 648,148" fill="#5fbcff"/><polygon points="653,78 659,82 659,152 653,148" fill="#c8ecff"/><polygon points="674,80 682,75 682,148 674,153" fill="#dff4ff"/><polygon points="676,71 704,64 720,76 720,161 692,168 676,156" fill="#1f86ee"/><polygon points="676,71 704,64 720,76 692,83" fill="#bfe8ff"/><polygon points="676,71 692,83 692,168 676,156" fill="#5fbcff"/><polygon points="681,86 687,90 687,160 681,156" fill="#c8ecff"/><polygon points="702,88 710,83 710,156 702,161" fill="#dff4ff"/><polygon points="733,55 761,48 777,60 777,145 749,152 733,140" fill="#1f86ee"/><polygon points="733,55 761,48 777,60 749,67" fill="#bfe8ff"/><polygon points="733,55 749,67 749,152 733,140" fill="#5fbcff"/><polygon points="738,70 744,74 744,144 738,140" fill="#c8ecff"/><polygon points="759,72 767,67 767,140 759,145" fill="#dff4ff"/><polygon points="763,63 791,56 807,68 807,153 779,160 763,148" fill="#1f86ee"/><polygon points="763,63 791,56 807,68 779,75" fill="#bfe8ff"/><polygon points="763,63 779,75 779,160 763,148" fill="#5fbcff"/><polygon points="768,78 774,82 774,152 768,148" fill="#c8ecff"/><polygon points="789,80 797,75 797,148 789,153" fill="#dff4ff"/><polygon points="791,71 819,64 835,76 835,161 807,168 791,156" fill="#1f86ee"/><polygon points="791,71 819,64 835,76 807,83" fill="#bfe8ff"/><polygon points="791,71 807,83 807,168 791,156" fill="#5fbcff"/><polygon points="796,86 802,90 802,160 796,156" fill="#c8ecff"/><polygon points="817,88 825,83 825,156 817,161" fill="#dff4ff"/><polygon points="848,55 876,48 892,60 892,145 864,152 848,140" fill="#1f86ee"/><polygon points="848,55 876,48 892,60 864,67" fill="#bfe8ff"/><polygon points="848,55 864,67 864,152 848,140" fill="#5fbcff"/><polygon points="853,70 859,74 859,144 853,140" fill="#c8ecff"/><polygon points="874,72 882,67 882,140 874,145" fill="#dff4ff"/><polygon points="878,63 906,56 922,68 922,153 894,160 878,148" fill="#1f86ee"/><polygon points="878,63 906,56 922,68 894,75" fill="#bfe8ff"/><polygon points="878,63 894,75 894,160 878,148" fill="#5fbcff"/><polygon points="883,78 889,82 889,152 883,148" fill="#c8ecff"/><polygon points="904,80 912,75 912,148 904,153" fill="#dff4ff"/><polygon points="906,71 934,64 950,76 950,161 922,168 906,156" fill="#1f86ee"/><polygon points="906,71 934,64 950,76 922,83" fill="#bfe8ff"/><polygon points="906,71 922,83 922,168 906,156" fill="#5fbcff"/><polygon points="911,86 917,90 917,160 911,156" fill="#c8ecff"/><polygon points="932,88 940,83 940,156 932,161" fill="#dff4ff"/><polygon points="392,212 458,208 466,222 464,262 398,268 390,250" fill="#2a2a2a"/><polygon points="396,216 456,212 462,226 461,240 398,245" fill="#f2f4f8"/><polygon points="398,247 461,242 460,258 401,263" fill="#2f9aa8"/><polygon points="504,212 570,208 578,222 576,262 510,268 502,250" fill="#2a2a2a"/><polygon points="508,216 568,212 574,226 573,240 510,245" fill="#f2f4f8"/><polygon points="510,247 573,242 572,258 513,263" fill="#2f9aa8"/><polygon points="619,212 685,208 693,222 691,262 625,268 617,250" fill="#2a2a2a"/><polygon points="623,216 683,212 689,226 688,240 625,245" fill="#f2f4f8"/><polygon points="625,247 688,242 687,258 628,263" fill="#2f9aa8"/><polygon points="734,212 800,208 808,222 806,262 740,268 732,250" fill="#2a2a2a"/><polygon points="738,216 798,212 804,226 803,240 740,245" fill="#f2f4f8"/><polygon points="740,247 803,242 802,258 743,263" fill="#2f9aa8"/><polygon points="849,212 915,208 923,222 921,262 855,268 847,250" fill="#2a2a2a"/><polygon points="853,216 913,212 919,226 918,240 855,245" fill="#f2f4f8"/><polygon points="855,247 918,242 917,258 858,263" fill="#2f9aa8"/><polygon points="340,150 385,140 395,158 350,168" fill="#1a1a1a"/><line x1="372" y1="128" x2="368" y2="146" stroke="#1a1a1a" stroke-width="4"/><polygon points="318,248 370,240 375,262 322,270" fill="#1a1a1a"/><polygon points="775,296 950,290 985,330 985,480 965,497 790,497 758,470 758,322" fill="#2c2c2e"/><polygon points="775,296 950,290 985,330 800,336" fill="#3a3a3d"/><polygon points="790,310 925,305 945,326 812,330" fill="#1c1c1e"/><polygon points="804,345 854,343 850,490 808,492" fill="#55565a"/><polygon points="812,360 846,358 843,478 815,480" fill="#38383b"/><polygon points="864,345 914,343 910,490 868,492" fill="#55565a"/><polygon points="872,360 906,358 903,478 875,480" fill="#38383b"/><polygon points="924,345 974,343 970,490 928,492" fill="#55565a"/><polygon points="932,360 966,358 963,478 935,480" fill="#38383b"/><polygon points="758,322 800,336 800,497 790,497 758,470" fill="#47474a"/><rect x="782" y="430" width="12" height="18" fill="#2f7fe0"/><path d="M470 480 Q448 470 452 445 Q455 420 482 416 Q485 375 525 365 Q565 362 578 405 Q600 415 598 448 Q592 480 560 482 Z" fill="url(#gCloud)" stroke="#e8f6ff" stroke-width="4"/><polygon points="175,512 415,510 352,712 122,712" fill="#a8dcf8"/><polygon points="150,610 178,520 205,520 175,615" fill="#8cc63f"/><polygon points="125,705 150,618 172,618 148,706" fill="#8cc63f"/><polygon points="262,690 340,688 345,668 268,670" fill="#8cc63f"/><polygon points="330,610 385,580 382,600 335,628" fill="#8cc63f"/><polygon points="232,430 269.2,436 269.2,561 232,555" fill="#7fd2fa"/><polygon points="269.2,436 294,426 294,549 269.2,561" fill="#4fb4ee"/><polygon points="232,430 256.8,420 294,426 269.2,436" fill="#9aa8b4"/><polygon points="285,495 312,501 312,611 285,605" fill="#1f5fe8"/><polygon points="312,501 330,491 330,599 312,611" fill="#1848c0"/><polygon points="285,495 303,485 330,491 312,501" fill="#8a96a4"/><polygon points="322,520 350.8,526 350.8,611 322,605" fill="#7fd2fa"/><polygon points="350.8,526 370,516 370,599 350.8,611" fill="#1f5fe8"/><polygon points="322,520 341.2,510 370,516 350.8,526" fill="#aab4c0"/><polygon points="172,540 202,546 202,636 172,630" fill="#6fcaf8"/><polygon points="202,546 222,536 222,624 202,636" fill="#1f5fe8"/><polygon points="172,540 192,530 222,536 202,546" fill="#7a8694"/><polygon points="205,560 229,566 229,626 205,620" fill="#3f9af0"/><polygon points="229,566 245,556 245,614 229,626" fill="#1f4fd0"/><polygon points="205,560 221,550 245,556 229,566" fill="#8a96a4"/><polygon points="262,620 304,626 304,674 262,668" fill="#2f7af0"/><polygon points="304,626 332,616 332,662 304,674" fill="#1a4fd0"/><polygon points="262,620 290,610 332,616 304,626" fill="#cfe8fa"/><polygon points="172,668 238,664 246,690 180,694" fill="#1a1a1a"/><line x1="238" y1="640" x2="240" y2="668" stroke="#1a1a1a" stroke-width="4"/><polygon points="494,624 528,618 532,634 498,642" fill="#f4f6f8" stroke="#555" stroke-width="3"/><line x1="504" y1="640" x2="498" y2="660" stroke="#777" stroke-width="5"/><polygon points="587,624 621,618 625,634 591,642" fill="#f4f6f8" stroke="#555" stroke-width="3"/><line x1="597" y1="640" x2="591" y2="660" stroke="#777" stroke-width="5"/><rect x="530" y="640" width="55" height="10" rx="4" fill="#1a3a6a"/><rect x="478" y="688" width="134" height="38" rx="14" fill="#1c1c1e"/><rect x="490" y="697" width="42" height="18" rx="4" fill="#8fe4ff"/><rect x="556" y="697" width="42" height="18" rx="4" fill="#8fe4ff"/><ellipse cx="805" cy="682" rx="108" ry="62" fill="#1a1a1a"/><ellipse cx="805" cy="676" rx="106" ry="60" fill="#4fc0f8"/><ellipse cx="805" cy="660" rx="106" ry="60" fill="#e8f4fc"/><ellipse cx="805" cy="648" rx="88" ry="50" fill="#1a1a1a"/><ellipse cx="805" cy="640" rx="88" ry="50" fill="#3faaf0"/><ellipse cx="805" cy="626" rx="86" ry="48" fill="#dff0fa"/><ellipse cx="805" cy="620" rx="70" ry="38" fill="#cfe8f8" stroke="#9fd0f0" stroke-width="3"/><polygon points="762,612 838,606 845,628 768,634" fill="#1a1a1a"/><line x1="800" y1="570" x2="805" y2="610" stroke="#1a1a1a" stroke-width="5"/><path d="M1020 120 L1062 112 M1020 120 Q1025 170 1050 200" fill="none" stroke="#b0a080" stroke-width="3.5"/></g>
<rect x="58.9" y="354.6" width="30.5" height="9.6" rx="2.2" fill="#2a1f1a" transform="translate(74.15 359.4) skewX(-14) translate(-74.15 -359.4)"/><text class="room" x="73.85" y="362.6">机房</text>
<g transform="translate(770 80) scale(0.20371)"><line x1="175" y1="205" x2="190" y2="305" stroke="#3fc24a" stroke-width="4.5"/><line x1="415" y1="205" x2="440" y2="305" stroke="#d8c83a" stroke-width="4.5"/><line x1="650" y1="205" x2="685" y2="305" stroke="#3fc24a" stroke-width="4.5"/><line x1="400" y1="318" x2="412" y2="372" stroke="#2fd0e0" stroke-width="4"/><rect x="160" y="165" width="14" height="42" rx="4" fill="#777b80"/><rect x="643" y="165" width="14" height="42" rx="4" fill="#777b80"/><g transform="translate(135 385) scale(4.9) rotate(-15)"><line x1="0" y1="2.2" x2="0" y2="6.16" stroke="#5e5e5e" stroke-width="1.21"/><line x1="-4.29" y1="6.93" x2="4.29" y2="6.93" stroke="#5e5e5e" stroke-width="0.99"/><line x1="-2.86" y1="4.4" x2="2.86" y2="9.9" stroke="#5e5e5e" stroke-width="0.99"/><line x1="2.86" y1="4.4" x2="-2.86" y2="9.9" stroke="#5e5e5e" stroke-width="0.99"/><ellipse cx="0" cy="0" rx="2.75" ry="3.19" fill="#222222" stroke="#8a8a8a" stroke-width="0.77"/></g><g transform="translate(150 440) scale(4.9) rotate(-15)"><line x1="0" y1="2.2" x2="0" y2="6.16" stroke="#5e5e5e" stroke-width="1.21"/><line x1="-4.29" y1="6.93" x2="4.29" y2="6.93" stroke="#5e5e5e" stroke-width="0.99"/><line x1="-2.86" y1="4.4" x2="2.86" y2="9.9" stroke="#5e5e5e" stroke-width="0.99"/><line x1="2.86" y1="4.4" x2="-2.86" y2="9.9" stroke="#5e5e5e" stroke-width="0.99"/><ellipse cx="0" cy="0" rx="2.75" ry="3.19" fill="#222222" stroke="#8a8a8a" stroke-width="0.77"/></g><g transform="translate(160 500) scale(4.9) rotate(-15)"><line x1="0" y1="2.2" x2="0" y2="6.16" stroke="#5e5e5e" stroke-width="1.21"/><line x1="-4.29" y1="6.93" x2="4.29" y2="6.93" stroke="#5e5e5e" stroke-width="0.99"/><line x1="-2.86" y1="4.4" x2="2.86" y2="9.9" stroke="#5e5e5e" stroke-width="0.99"/><line x1="2.86" y1="4.4" x2="-2.86" y2="9.9" stroke="#5e5e5e" stroke-width="0.99"/><ellipse cx="0" cy="0" rx="2.75" ry="3.19" fill="#222222" stroke="#8a8a8a" stroke-width="0.77"/></g><g transform="translate(845 385) scale(4.9) rotate(25)"><line x1="0" y1="2.3" x2="0" y2="6.44" stroke="#5e5e5e" stroke-width="1.26"/><line x1="-4.48" y1="7.24" x2="4.48" y2="7.24" stroke="#5e5e5e" stroke-width="1.03"/><line x1="-2.99" y1="4.6" x2="2.99" y2="10.35" stroke="#5e5e5e" stroke-width="1.03"/><line x1="2.99" y1="4.6" x2="-2.99" y2="10.35" stroke="#5e5e5e" stroke-width="1.03"/><ellipse cx="0" cy="0" rx="2.88" ry="3.33" fill="#222222" stroke="#8a8a8a" stroke-width="0.8"/></g><g transform="translate(862 437) scale(4.9) rotate(25)"><line x1="0" y1="2.3" x2="0" y2="6.44" stroke="#5e5e5e" stroke-width="1.26"/><line x1="-4.48" y1="7.24" x2="4.48" y2="7.24" stroke="#5e5e5e" stroke-width="1.03"/><line x1="-2.99" y1="4.6" x2="2.99" y2="10.35" stroke="#5e5e5e" stroke-width="1.03"/><line x1="2.99" y1="4.6" x2="-2.99" y2="10.35" stroke="#5e5e5e" stroke-width="1.03"/><ellipse cx="0" cy="0" rx="2.88" ry="3.33" fill="#222222" stroke="#8a8a8a" stroke-width="0.8"/></g><g transform="translate(880 490) scale(4.9) rotate(25)"><line x1="0" y1="2.3" x2="0" y2="6.44" stroke="#5e5e5e" stroke-width="1.26"/><line x1="-4.48" y1="7.24" x2="4.48" y2="7.24" stroke="#5e5e5e" stroke-width="1.03"/><line x1="-2.99" y1="4.6" x2="2.99" y2="10.35" stroke="#5e5e5e" stroke-width="1.03"/><line x1="2.99" y1="4.6" x2="-2.99" y2="10.35" stroke="#5e5e5e" stroke-width="1.03"/><ellipse cx="0" cy="0" rx="2.88" ry="3.33" fill="#222222" stroke="#8a8a8a" stroke-width="0.8"/></g><g transform="translate(410 600) scale(4.9)"><line x1="0" y1="2.2" x2="0" y2="6.16" stroke="#e6e2f0" stroke-width="1.21"/><line x1="-4.29" y1="6.93" x2="4.29" y2="6.93" stroke="#e6e2f0" stroke-width="0.99"/><line x1="-2.86" y1="4.4" x2="2.86" y2="9.9" stroke="#e6e2f0" stroke-width="0.99"/><line x1="2.86" y1="4.4" x2="-2.86" y2="9.9" stroke="#e6e2f0" stroke-width="0.99"/><ellipse cx="0" cy="0" rx="2.75" ry="3.19" fill="#4a4c50" stroke="#8a8a8a" stroke-width="0.77"/></g><g transform="translate(464 600) scale(4.9)"><line x1="0" y1="2.2" x2="0" y2="6.16" stroke="#e6e2f0" stroke-width="1.21"/><line x1="-4.29" y1="6.93" x2="4.29" y2="6.93" stroke="#e6e2f0" stroke-width="0.99"/><line x1="-2.86" y1="4.4" x2="2.86" y2="9.9" stroke="#e6e2f0" stroke-width="0.99"/><line x1="2.86" y1="4.4" x2="-2.86" y2="9.9" stroke="#e6e2f0" stroke-width="0.99"/><ellipse cx="0" cy="0" rx="2.75" ry="3.19" fill="#4a4c50" stroke="#8a8a8a" stroke-width="0.77"/></g><g transform="translate(519 600) scale(4.9)"><line x1="0" y1="2.2" x2="0" y2="6.16" stroke="#e6e2f0" stroke-width="1.21"/><line x1="-4.29" y1="6.93" x2="4.29" y2="6.93" stroke="#e6e2f0" stroke-width="0.99"/><line x1="-2.86" y1="4.4" x2="2.86" y2="9.9" stroke="#e6e2f0" stroke-width="0.99"/><line x1="2.86" y1="4.4" x2="-2.86" y2="9.9" stroke="#e6e2f0" stroke-width="0.99"/><ellipse cx="0" cy="0" rx="2.75" ry="3.19" fill="#4a4c50" stroke="#8a8a8a" stroke-width="0.77"/></g><g transform="translate(573 600) scale(4.9)"><line x1="0" y1="2.2" x2="0" y2="6.16" stroke="#e6e2f0" stroke-width="1.21"/><line x1="-4.29" y1="6.93" x2="4.29" y2="6.93" stroke="#e6e2f0" stroke-width="0.99"/><line x1="-2.86" y1="4.4" x2="2.86" y2="9.9" stroke="#e6e2f0" stroke-width="0.99"/><line x1="2.86" y1="4.4" x2="-2.86" y2="9.9" stroke="#e6e2f0" stroke-width="0.99"/><ellipse cx="0" cy="0" rx="2.75" ry="3.19" fill="#4a4c50" stroke="#8a8a8a" stroke-width="0.77"/></g><g transform="translate(628 600) scale(4.9)"><line x1="0" y1="2.2" x2="0" y2="6.16" stroke="#e6e2f0" stroke-width="1.21"/><line x1="-4.29" y1="6.93" x2="4.29" y2="6.93" stroke="#e6e2f0" stroke-width="0.99"/><line x1="-2.86" y1="4.4" x2="2.86" y2="9.9" stroke="#e6e2f0" stroke-width="0.99"/><line x1="2.86" y1="4.4" x2="-2.86" y2="9.9" stroke="#e6e2f0" stroke-width="0.99"/><ellipse cx="0" cy="0" rx="2.75" ry="3.19" fill="#4a4c50" stroke="#8a8a8a" stroke-width="0.77"/></g><g transform="translate(682 600) scale(4.9)"><line x1="0" y1="2.2" x2="0" y2="6.16" stroke="#e6e2f0" stroke-width="1.21"/><line x1="-4.29" y1="6.93" x2="4.29" y2="6.93" stroke="#e6e2f0" stroke-width="0.99"/><line x1="-2.86" y1="4.4" x2="2.86" y2="9.9" stroke="#e6e2f0" stroke-width="0.99"/><line x1="2.86" y1="4.4" x2="-2.86" y2="9.9" stroke="#e6e2f0" stroke-width="0.99"/><ellipse cx="0" cy="0" rx="2.75" ry="3.19" fill="#4a4c50" stroke="#8a8a8a" stroke-width="0.77"/></g><g transform="translate(737 600) scale(4.9)"><line x1="0" y1="2.2" x2="0" y2="6.16" stroke="#e6e2f0" stroke-width="1.21"/><line x1="-4.29" y1="6.93" x2="4.29" y2="6.93" stroke="#e6e2f0" stroke-width="0.99"/><line x1="-2.86" y1="4.4" x2="2.86" y2="9.9" stroke="#e6e2f0" stroke-width="0.99"/><line x1="2.86" y1="4.4" x2="-2.86" y2="9.9" stroke="#e6e2f0" stroke-width="0.99"/><ellipse cx="0" cy="0" rx="2.75" ry="3.19" fill="#4a4c50" stroke="#8a8a8a" stroke-width="0.77"/></g><g transform="translate(791 600) scale(4.9)"><line x1="0" y1="2.2" x2="0" y2="6.16" stroke="#e6e2f0" stroke-width="1.21"/><line x1="-4.29" y1="6.93" x2="4.29" y2="6.93" stroke="#e6e2f0" stroke-width="0.99"/><line x1="-2.86" y1="4.4" x2="2.86" y2="9.9" stroke="#e6e2f0" stroke-width="0.99"/><line x1="2.86" y1="4.4" x2="-2.86" y2="9.9" stroke="#e6e2f0" stroke-width="0.99"/><ellipse cx="0" cy="0" rx="2.75" ry="3.19" fill="#4a4c50" stroke="#8a8a8a" stroke-width="0.77"/></g><g transform="translate(302 432) scale(4.9)"><line x1="0" y1="2.1" x2="0" y2="5.88" stroke="#5e5e5e" stroke-width="1.16"/><line x1="-4.09" y1="6.62" x2="4.09" y2="6.62" stroke="#5e5e5e" stroke-width="0.95"/><line x1="-2.73" y1="4.2" x2="2.73" y2="9.45" stroke="#5e5e5e" stroke-width="0.95"/><line x1="2.73" y1="4.2" x2="-2.73" y2="9.45" stroke="#5e5e5e" stroke-width="0.95"/><ellipse cx="0" cy="0" rx="2.62" ry="3.04" fill="#222222" stroke="#8a8a8a" stroke-width="0.73"/></g><g transform="translate(400 470) scale(4.9)"><line x1="0" y1="2.1" x2="0" y2="5.88" stroke="#5e5e5e" stroke-width="1.16"/><line x1="-4.09" y1="6.62" x2="4.09" y2="6.62" stroke="#5e5e5e" stroke-width="0.95"/><line x1="-2.73" y1="4.2" x2="2.73" y2="9.45" stroke="#5e5e5e" stroke-width="0.95"/><line x1="2.73" y1="4.2" x2="-2.73" y2="9.45" stroke="#5e5e5e" stroke-width="0.95"/><ellipse cx="0" cy="0" rx="2.62" ry="3.04" fill="#222222" stroke="#8a8a8a" stroke-width="0.73"/></g><g transform="translate(500 486) scale(4.9)"><line x1="0" y1="2.1" x2="0" y2="5.88" stroke="#5e5e5e" stroke-width="1.16"/><line x1="-4.09" y1="6.62" x2="4.09" y2="6.62" stroke="#5e5e5e" stroke-width="0.95"/><line x1="-2.73" y1="4.2" x2="2.73" y2="9.45" stroke="#5e5e5e" stroke-width="0.95"/><line x1="2.73" y1="4.2" x2="-2.73" y2="9.45" stroke="#5e5e5e" stroke-width="0.95"/><ellipse cx="0" cy="0" rx="2.62" ry="3.04" fill="#222222" stroke="#8a8a8a" stroke-width="0.73"/></g><g transform="translate(597 470) scale(4.9)"><line x1="0" y1="2.1" x2="0" y2="5.88" stroke="#5e5e5e" stroke-width="1.16"/><line x1="-4.09" y1="6.62" x2="4.09" y2="6.62" stroke="#5e5e5e" stroke-width="0.95"/><line x1="-2.73" y1="4.2" x2="2.73" y2="9.45" stroke="#5e5e5e" stroke-width="0.95"/><line x1="2.73" y1="4.2" x2="-2.73" y2="9.45" stroke="#5e5e5e" stroke-width="0.95"/><ellipse cx="0" cy="0" rx="2.62" ry="3.04" fill="#222222" stroke="#8a8a8a" stroke-width="0.73"/></g><g transform="translate(676 436) scale(4.9)"><line x1="0" y1="2.1" x2="0" y2="5.88" stroke="#5e5e5e" stroke-width="1.16"/><line x1="-4.09" y1="6.62" x2="4.09" y2="6.62" stroke="#5e5e5e" stroke-width="0.95"/><line x1="-2.73" y1="4.2" x2="2.73" y2="9.45" stroke="#5e5e5e" stroke-width="0.95"/><line x1="2.73" y1="4.2" x2="-2.73" y2="9.45" stroke="#5e5e5e" stroke-width="0.95"/><ellipse cx="0" cy="0" rx="2.62" ry="3.04" fill="#222222" stroke="#8a8a8a" stroke-width="0.73"/></g><path d="M282 352 Q300 400 490 432 Q640 425 692 372 L690 398 Q640 452 490 462 Q320 440 274 398 Z" fill="#4a4b50"/><path d="M292 345 Q330 395 490 412 Q610 405 672 360 L694 374 Q640 428 490 436 Q300 410 280 358 Z" fill="url(#gDesk)" stroke="#f4f5fa" stroke-width="2"/><g transform="translate(322 360) scale(4.9)"><g transform="translate(0 0) rotate(28)"><rect x="-5.75" y="-3" width="11.5" height="4.6" rx="1.2" fill="#7fdcff"/><rect x="-5.75" y="-2.3" width="11.5" height="4.6" rx="1.1" fill="#1b3cc2"/><rect x="-2.88" y="-1.1" width="5.75" height="1" fill="#5f86ee"/></g></g><g transform="translate(412 388) scale(4.9)"><g transform="translate(0 0) rotate(14)"><rect x="-5.75" y="-3" width="11.5" height="4.6" rx="1.2" fill="#7fdcff"/><rect x="-5.75" y="-2.3" width="11.5" height="4.6" rx="1.1" fill="#1b3cc2"/><rect x="-2.88" y="-1.1" width="5.75" height="1" fill="#5f86ee"/></g></g><g transform="translate(498 400) scale(4.9)"><g transform="translate(0 0) rotate(0)"><rect x="-5.75" y="-3" width="11.5" height="4.6" rx="1.2" fill="#7fdcff"/><rect x="-5.75" y="-2.3" width="11.5" height="4.6" rx="1.1" fill="#1b3cc2"/><rect x="-2.88" y="-1.1" width="5.75" height="1" fill="#5f86ee"/></g></g><g transform="translate(582 388) scale(4.9)"><g transform="translate(0 0) rotate(-16)"><rect x="-5.75" y="-3" width="11.5" height="4.6" rx="1.2" fill="#7fdcff"/><rect x="-5.75" y="-2.3" width="11.5" height="4.6" rx="1.1" fill="#1b3cc2"/><rect x="-2.88" y="-1.1" width="5.75" height="1" fill="#5f86ee"/></g></g><g transform="translate(650 356) scale(4.9)"><g transform="translate(0 0) rotate(-32)"><rect x="-5.75" y="-3" width="11.5" height="4.6" rx="1.2" fill="#7fdcff"/><rect x="-5.75" y="-2.3" width="11.5" height="4.6" rx="1.1" fill="#1b3cc2"/><rect x="-2.88" y="-1.1" width="5.75" height="1" fill="#5f86ee"/></g></g><path d="M130 552 L160 552 M132 555 Q160 580 150 625 M135 630 L165 628" fill="none" stroke="#d0c8e8" stroke-width="3.5"/></g>
<g transform="translate(770 80) scale(0.20371)"><path d="M215 65 Q440 35 662 62 L636 187 Q420 165 195 187 Z" fill="#0a0c14" stroke="#fff" stroke-width="7" stroke-linejoin="round"/><path d="M215 65 Q440 35 662 62 L636 187 Q420 165 195 187 Z" fill="#0a0c14"/><path d="M222 72 Q440 44 654 69 L630 180 Q420 158 203 180 Z" fill="#0a1450"/><path d="M385 58 Q440 52 520 58 L512 168 Q440 162 378 168 Z" fill="#0c1f7c"/><rect x="228" y="80" width="45" height="40" fill="#10308a"/><rect x="280" y="74" width="45" height="40" fill="#10308a"/><rect x="333" y="70" width="45" height="40" fill="#10308a"/><rect x="215" y="128" width="45" height="42" fill="#10308a"/><rect x="268" y="124" width="50" height="42" fill="#10308a"/><rect x="325" y="120" width="48" height="42" fill="#10308a"/><rect x="520" y="70" width="55" height="42" fill="#10308a"/><rect x="585" y="76" width="55" height="40" fill="#10308a"/><rect x="515" y="120" width="50" height="45" fill="#0d2878"/><rect x="572" y="124" width="55" height="45" fill="#0d2878"/><path d="M232 112 l8 -14 l8 8 l8 -12 l10 14 v6 h-34z" fill="#3fd0a0"/><circle cx="300" cy="95" r="12" fill="none" stroke="#3fd0ff" stroke-width="5"/><path d="M222 165 l8 -18 l8 10 l8 -16 l10 12 l6 -6 v18z" fill="#5fb04a"/><path d="M272 160 v-16 h6 v16z M282 160 v-24 h6 v24z M292 160 v-12 h6 v12z M302 160 v-20 h6 v20z" fill="#f08a3a"/><path d="M335 158 v-12 h5 v12z M345 158 v-22 h5 v22z M355 158 v-16 h5 v16z" fill="#a05fe0"/><path d="M395 95 l20 -22 l30 6 l18 22 l-10 26 l-24 12 l-22 -14z" fill="#2a5aff" stroke="#7faaff" stroke-width="2"/><circle cx="480" cy="100" r="9" fill="#3fd8ff"/><circle cx="490" cy="135" r="10" fill="none" stroke="#ff6fa8" stroke-width="3"/><path d="M528 105 v-16 h6 v16z M540 105 v-24 h6 v24z M552 105 v-14 h6 v14z M564 108 v-20 h6 v20z" fill="#5fd8ff"/><circle cx="545" cy="92" r="8" fill="#ff7fc0"/><path d="M592 108 l10 -18 l10 10 l12 -16 l10 20z" fill="#3f8af0"/><rect x="522" y="128" width="36" height="4" fill="#3fd6c0"/><rect x="580" y="132" width="40" height="4" fill="#3fd6c0"/><rect x="522" y="137" width="36" height="4" fill="#3fd6c0"/><rect x="580" y="141" width="40" height="4" fill="#3fd6c0"/><rect x="522" y="146" width="36" height="4" fill="#3fd6c0"/><rect x="580" y="150" width="40" height="4" fill="#3fd6c0"/><rect x="522" y="155" width="36" height="4" fill="#3fd6c0"/><rect x="580" y="159" width="40" height="4" fill="#3fd6c0"/></g>
<rect x="808.1" y="199.6" width="30.8" height="9.3" rx="2.2" fill="#2a1f1a" transform="translate(823.5 204.25) skewX(-14) translate(-823.5 -204.25)"/><text class="room" x="823.2" y="207.45">决策室</text>
<g transform="translate(790 205) scale(0.23148)"><path d="M740 145 L640 145 L800 630 L905 630" fill="none" stroke="#3fc24a" stroke-width="4.5"/><path d="M815 365 L730 365 L790 535" fill="none" stroke="#c8d83a" stroke-width="4.5"/><path d="M640 367 L700 367 L755 535" fill="none" stroke="#2fd0e0" stroke-width="3.5"/><rect x="738" y="108" width="13" height="40" rx="4" fill="#9a9ea4" transform="rotate(18 745 128)"/><rect x="903" y="592" width="13" height="42" rx="4" fill="#9a9ea4" transform="rotate(18 910 612)"/><rect x="285" y="40" width="30" height="40" rx="8" fill="#6a6f76"/><rect x="282" y="78" width="36" height="12" rx="3" fill="#dfe4e8"/><line x1="285" y1="82" x2="282" y2="112" stroke="#dfe4e8" stroke-width="4"/><line x1="315" y1="82" x2="318" y2="112" stroke="#dfe4e8" stroke-width="4"/><rect x="332" y="40" width="30" height="40" rx="8" fill="#6a6f76"/><rect x="329" y="78" width="36" height="12" rx="3" fill="#dfe4e8"/><line x1="332" y1="82" x2="329" y2="112" stroke="#dfe4e8" stroke-width="4"/><line x1="362" y1="82" x2="365" y2="112" stroke="#dfe4e8" stroke-width="4"/><rect x="380" y="40" width="30" height="40" rx="8" fill="#6a6f76"/><rect x="377" y="78" width="36" height="12" rx="3" fill="#dfe4e8"/><line x1="380" y1="82" x2="377" y2="112" stroke="#dfe4e8" stroke-width="4"/><line x1="410" y1="82" x2="413" y2="112" stroke="#dfe4e8" stroke-width="4"/><rect x="427" y="40" width="30" height="40" rx="8" fill="#6a6f76"/><rect x="424" y="78" width="36" height="12" rx="3" fill="#dfe4e8"/><line x1="427" y1="82" x2="424" y2="112" stroke="#dfe4e8" stroke-width="4"/><line x1="457" y1="82" x2="460" y2="112" stroke="#dfe4e8" stroke-width="4"/><rect x="475" y="40" width="30" height="40" rx="8" fill="#6a6f76"/><rect x="472" y="78" width="36" height="12" rx="3" fill="#dfe4e8"/><line x1="475" y1="82" x2="472" y2="112" stroke="#dfe4e8" stroke-width="4"/><line x1="505" y1="82" x2="508" y2="112" stroke="#dfe4e8" stroke-width="4"/><rect x="330" y="215" width="30" height="40" rx="8" fill="#3a3c40"/><rect x="327" y="253" width="36" height="12" rx="3" fill="#9aa0a6"/><line x1="330" y1="257" x2="327" y2="287" stroke="#9aa0a6" stroke-width="4"/><line x1="360" y1="257" x2="363" y2="287" stroke="#9aa0a6" stroke-width="4"/><rect x="379" y="215" width="30" height="40" rx="8" fill="#3a3c40"/><rect x="376" y="253" width="36" height="12" rx="3" fill="#9aa0a6"/><line x1="379" y1="257" x2="376" y2="287" stroke="#9aa0a6" stroke-width="4"/><line x1="409" y1="257" x2="412" y2="287" stroke="#9aa0a6" stroke-width="4"/><rect x="428" y="215" width="30" height="40" rx="8" fill="#3a3c40"/><rect x="425" y="253" width="36" height="12" rx="3" fill="#9aa0a6"/><line x1="428" y1="257" x2="425" y2="287" stroke="#9aa0a6" stroke-width="4"/><line x1="458" y1="257" x2="461" y2="287" stroke="#9aa0a6" stroke-width="4"/><rect x="477" y="215" width="30" height="40" rx="8" fill="#3a3c40"/><rect x="474" y="253" width="36" height="12" rx="3" fill="#9aa0a6"/><line x1="477" y1="257" x2="474" y2="287" stroke="#9aa0a6" stroke-width="4"/><line x1="507" y1="257" x2="510" y2="287" stroke="#9aa0a6" stroke-width="4"/><rect x="526" y="215" width="30" height="40" rx="8" fill="#3a3c40"/><rect x="523" y="253" width="36" height="12" rx="3" fill="#9aa0a6"/><line x1="526" y1="257" x2="523" y2="287" stroke="#9aa0a6" stroke-width="4"/><line x1="556" y1="257" x2="559" y2="287" stroke="#9aa0a6" stroke-width="4"/><rect x="270" y="310" width="30" height="40" rx="8" fill="#8a8f96"/><rect x="267" y="348" width="36" height="12" rx="3" fill="#e4e8ec"/><line x1="270" y1="352" x2="267" y2="382" stroke="#e4e8ec" stroke-width="4"/><line x1="300" y1="352" x2="303" y2="382" stroke="#e4e8ec" stroke-width="4"/><rect x="100" y="155" width="30" height="40" rx="8" fill="#c8ccd2"/><rect x="97" y="193" width="36" height="12" rx="3" fill="#f2f4f6"/><line x1="100" y1="197" x2="97" y2="227" stroke="#f2f4f6" stroke-width="4"/><line x1="130" y1="197" x2="133" y2="227" stroke="#f2f4f6" stroke-width="4"/><rect x="113" y="207" width="30" height="40" rx="8" fill="#c8ccd2"/><rect x="110" y="245" width="36" height="12" rx="3" fill="#f2f4f6"/><line x1="113" y1="249" x2="110" y2="279" stroke="#f2f4f6" stroke-width="4"/><line x1="143" y1="249" x2="146" y2="279" stroke="#f2f4f6" stroke-width="4"/><rect x="125" y="258" width="30" height="40" rx="8" fill="#c8ccd2"/><rect x="122" y="296" width="36" height="12" rx="3" fill="#f2f4f6"/><line x1="125" y1="300" x2="122" y2="330" stroke="#f2f4f6" stroke-width="4"/><line x1="155" y1="300" x2="158" y2="330" stroke="#f2f4f6" stroke-width="4"/><rect x="138" y="312" width="30" height="40" rx="8" fill="#c8ccd2"/><rect x="135" y="350" width="36" height="12" rx="3" fill="#f2f4f6"/><line x1="138" y1="354" x2="135" y2="384" stroke="#f2f4f6" stroke-width="4"/><line x1="168" y1="354" x2="171" y2="384" stroke="#f2f4f6" stroke-width="4"/><rect x="151" y="370" width="30" height="40" rx="8" fill="#c8ccd2"/><rect x="148" y="408" width="36" height="12" rx="3" fill="#f2f4f6"/><line x1="151" y1="412" x2="148" y2="442" stroke="#f2f4f6" stroke-width="4"/><line x1="181" y1="412" x2="184" y2="442" stroke="#f2f4f6" stroke-width="4"/><rect x="312" y="290" width="330" height="118" rx="48" fill="#1e2a30"/><rect x="304" y="274" width="338" height="120" rx="50" fill="url(#gDesk)" stroke="#ffffff" stroke-width="3"/><rect x="360" y="312" width="240" height="14" rx="4" fill="#f8f9fc" stroke="#c8ccd6" stroke-width="2"/><rect x="365" y="296" width="24" height="9" fill="#3f9af0"/><polygon points="372,352 398,350 394,372 368,374" fill="#1f6ae0"/><rect x="413" y="296" width="24" height="9" fill="#3f9af0"/><polygon points="421,352 447,350 443,372 417,374" fill="#1f6ae0"/><rect x="461" y="296" width="24" height="9" fill="#3f9af0"/><polygon points="470,352 496,350 492,372 466,374" fill="#1f6ae0"/><rect x="509" y="296" width="24" height="9" fill="#3f9af0"/><polygon points="519,352 545,350 541,372 515,374" fill="#1f6ae0"/><rect x="557" y="296" width="24" height="9" fill="#3f9af0"/><polygon points="568,352 594,350 590,372 564,374" fill="#1f6ae0"/><rect x="335" y="315" width="10" height="28" fill="#3f9af0" transform="rotate(-10 340 330)"/><rect x="380" y="415" width="30" height="40" rx="8" fill="#a0a5ac"/><rect x="377" y="453" width="36" height="12" rx="3" fill="#e8ecf0"/><line x1="380" y1="457" x2="377" y2="487" stroke="#e8ecf0" stroke-width="4"/><line x1="410" y1="457" x2="413" y2="487" stroke="#e8ecf0" stroke-width="4"/><rect x="431" y="415" width="30" height="40" rx="8" fill="#a0a5ac"/><rect x="428" y="453" width="36" height="12" rx="3" fill="#e8ecf0"/><line x1="431" y1="457" x2="428" y2="487" stroke="#e8ecf0" stroke-width="4"/><line x1="461" y1="457" x2="464" y2="487" stroke="#e8ecf0" stroke-width="4"/><rect x="482" y="415" width="30" height="40" rx="8" fill="#a0a5ac"/><rect x="479" y="453" width="36" height="12" rx="3" fill="#e8ecf0"/><line x1="482" y1="457" x2="479" y2="487" stroke="#e8ecf0" stroke-width="4"/><line x1="512" y1="457" x2="515" y2="487" stroke="#e8ecf0" stroke-width="4"/><rect x="533" y="415" width="30" height="40" rx="8" fill="#a0a5ac"/><rect x="530" y="453" width="36" height="12" rx="3" fill="#e8ecf0"/><line x1="533" y1="457" x2="530" y2="487" stroke="#e8ecf0" stroke-width="4"/><line x1="563" y1="457" x2="566" y2="487" stroke="#e8ecf0" stroke-width="4"/><rect x="584" y="415" width="30" height="40" rx="8" fill="#a0a5ac"/><rect x="581" y="453" width="36" height="12" rx="3" fill="#e8ecf0"/><line x1="584" y1="457" x2="581" y2="487" stroke="#e8ecf0" stroke-width="4"/><line x1="614" y1="457" x2="617" y2="487" stroke="#e8ecf0" stroke-width="4"/><rect x="430" y="610" width="30" height="40" rx="8" fill="#d8dce2"/><rect x="427" y="648" width="36" height="12" rx="3" fill="#f6f8fa"/><line x1="430" y1="652" x2="427" y2="682" stroke="#f6f8fa" stroke-width="4"/><line x1="460" y1="652" x2="463" y2="682" stroke="#f6f8fa" stroke-width="4"/><rect x="482" y="610" width="30" height="40" rx="8" fill="#d8dce2"/><rect x="479" y="648" width="36" height="12" rx="3" fill="#f6f8fa"/><line x1="482" y1="652" x2="479" y2="682" stroke="#f6f8fa" stroke-width="4"/><line x1="512" y1="652" x2="515" y2="682" stroke="#f6f8fa" stroke-width="4"/><rect x="534" y="610" width="30" height="40" rx="8" fill="#d8dce2"/><rect x="531" y="648" width="36" height="12" rx="3" fill="#f6f8fa"/><line x1="534" y1="652" x2="531" y2="682" stroke="#f6f8fa" stroke-width="4"/><line x1="564" y1="652" x2="567" y2="682" stroke="#f6f8fa" stroke-width="4"/><rect x="586" y="610" width="30" height="40" rx="8" fill="#d8dce2"/><rect x="583" y="648" width="36" height="12" rx="3" fill="#f6f8fa"/><line x1="586" y1="652" x2="583" y2="682" stroke="#f6f8fa" stroke-width="4"/><line x1="616" y1="652" x2="619" y2="682" stroke="#f6f8fa" stroke-width="4"/><rect x="638" y="610" width="30" height="40" rx="8" fill="#d8dce2"/><rect x="635" y="648" width="36" height="12" rx="3" fill="#f6f8fa"/><line x1="638" y1="652" x2="635" y2="682" stroke="#f6f8fa" stroke-width="4"/><line x1="668" y1="652" x2="671" y2="682" stroke="#f6f8fa" stroke-width="4"/><path d="M55 80 L95 75 M60 82 Q90 105 100 140" fill="none" stroke="#9ad0da" stroke-width="3.5"/></g>
<g transform="translate(790 205) scale(0.23148)"><path d="M795 40 Q870 170 957 480 L905 592 Q850 350 758 130 Z" fill="#0a0c14"/><path d="M792 62 Q862 190 940 480 L906 566 Q852 345 766 134 Z" fill="#0a1758"/><path d="M794 76 Q834 146 862 232 L836 296 Q808 210 772 137 Z" fill="#0c1f80"/><path d="M900 404 Q920 444 938 482 L908 556 Q895 500 880 452 Z" fill="#0f2c98"/><ellipse cx="800" cy="120" rx="5" ry="11" fill="#3fd8ff" transform="rotate(-20 800 120)"/><ellipse cx="812" cy="160" rx="5" ry="11" fill="#3fd8ff" transform="rotate(-20 812 160)"/><ellipse cx="790" cy="165" rx="5" ry="11" fill="#ff8a3a" transform="rotate(-20 790 165)"/><ellipse cx="820" cy="215" rx="5" ry="11" fill="#7fe04a" transform="rotate(-20 820 215)"/><ellipse cx="830" cy="250" rx="5" ry="11" fill="#f0d03a" transform="rotate(-20 830 250)"/><ellipse cx="822" cy="285" rx="5" ry="11" fill="#3fd8ff" transform="rotate(-20 822 285)"/><ellipse cx="860" cy="330" rx="5" ry="11" fill="#a05fe0" transform="rotate(-20 860 330)"/><ellipse cx="880" cy="350" rx="5" ry="11" fill="#ff6fa8" transform="rotate(-20 880 350)"/><ellipse cx="868" cy="385" rx="5" ry="11" fill="#a05fe0" transform="rotate(-20 868 385)"/><ellipse cx="905" cy="405" rx="5" ry="11" fill="#ff6fa8" transform="rotate(-20 905 405)"/><ellipse cx="900" cy="450" rx="5" ry="11" fill="#3fa8ff" transform="rotate(-20 900 450)"/><ellipse cx="918" cy="500" rx="5" ry="11" fill="#3fd8ff" transform="rotate(-20 918 500)"/><ellipse cx="925" cy="470" rx="5" ry="11" fill="#5f8aff" transform="rotate(-20 925 470)"/></g>
<rect x="838.1" y="354.2" width="30.3" height="10.1" rx="2.2" fill="#2a1f1a" transform="translate(853.25 359.25) skewX(-14) translate(-853.25 -359.25)"/><text class="room" x="852.95" y="362.45">会商室</text>
<polygon points="306.4,115.5 310.2,115 313.2,139.6 309.6,140.4" fill="#777b80" stroke="#55595e" stroke-width=".5"/>
<polygon points="758.6,115.5 754.8,115 751.8,139.6 755.4,140.4" fill="#777b80" stroke="#55595e" stroke-width=".5"/>
<polygon points="307.8,63.8 322.79,61.42 337.77,59.21 352.76,57.16 367.75,55.27 382.73,53.55 397.72,51.99 412.71,50.6 427.69,49.37 442.68,48.3 457.67,47.4 472.65,46.66 487.64,46.09 502.63,45.68 517.61,45.43 532.6,45.35 547.59,45.43 562.57,45.68 577.56,46.09 592.55,46.66 607.53,47.4 622.52,48.3 637.51,49.37 652.49,50.6 667.48,51.99 682.47,53.55 697.45,55.27 712.44,57.16 727.43,59.21 742.41,61.42 757.4,63.8 745,139.5 730.87,137.24 716.73,135.14 702.6,133.2 688.47,131.41 674.33,129.78 660.2,128.3 646.07,126.98 631.93,125.81 617.8,124.8 603.67,123.94 589.53,123.24 575.4,122.7 561.27,122.31 547.13,122.08 533,122 518.87,122.08 504.73,122.31 490.6,122.7 476.47,123.24 462.33,123.94 448.2,124.8 434.07,125.81 419.93,126.98 405.8,128.3 391.67,129.78 377.53,131.41 363.4,133.2 349.27,135.14 335.13,137.24 321,139.5" fill="#0b0d16" stroke="#ffffff" stroke-width="1.6" stroke-linejoin="round"/><polygon points="307.8,63.8 322.79,61.42 337.77,59.21 352.76,57.16 367.75,55.27 382.73,53.55 397.72,51.99 412.71,50.6 427.69,49.37 442.68,48.3 457.67,47.4 472.65,46.66 487.64,46.09 502.63,45.68 517.61,45.43 532.6,45.35 547.59,45.43 562.57,45.68 577.56,46.09 592.55,46.66 607.53,47.4 622.52,48.3 637.51,49.37 652.49,50.6 667.48,51.99 682.47,53.55 697.45,55.27 712.44,57.16 727.43,59.21 742.41,61.42 757.4,63.8 745,139.5 730.87,137.24 716.73,135.14 702.6,133.2 688.47,131.41 674.33,129.78 660.2,128.3 646.07,126.98 631.93,125.81 617.8,124.8 603.67,123.94 589.53,123.24 575.4,122.7 561.27,122.31 547.13,122.08 533,122 518.87,122.08 504.73,122.31 490.6,122.7 476.47,123.24 462.33,123.94 448.2,124.8 434.07,125.81 419.93,126.98 405.8,128.3 391.67,129.78 377.53,131.41 363.4,133.2 349.27,135.14 335.13,137.24 321,139.5" fill="#0b0d16" /><polygon points="310.89,65.63 325.67,63.31 340.45,61.16 355.23,59.16 370.02,57.32 384.8,55.64 399.58,54.12 414.36,52.76 429.14,51.57 443.92,50.53 458.7,49.65 473.49,48.93 488.27,48.37 503.05,47.97 517.83,47.73 532.61,47.65 547.39,47.73 562.18,47.97 576.96,48.37 591.74,48.93 606.52,49.65 621.3,50.53 636.08,51.57 650.86,52.76 665.65,54.12 680.43,55.64 695.21,57.32 709.99,59.16 724.77,61.16 739.55,63.31 754.34,65.63 742.88,136.43 728.89,134.23 714.9,132.17 700.9,130.27 686.91,128.52 672.92,126.92 658.93,125.48 644.93,124.19 630.94,123.04 616.95,122.06 602.95,121.22 588.96,120.53 574.97,120 560.97,119.62 546.98,119.39 532.99,119.32 518.99,119.39 505,119.62 491.01,120 477.01,120.53 463.02,121.22 449.03,122.06 435.03,123.04 421.04,124.19 407.05,125.48 393.05,126.92 379.06,128.52 365.07,130.27 351.07,132.17 337.08,134.23 323.09,136.43" fill="#08124a" /><polygon points="442.85,50.6 454.07,49.91 465.29,49.31 476.51,48.8 487.73,48.39 498.95,48.06 510.17,47.83 521.39,47.7 532.61,47.65 543.83,47.7 555.05,47.83 566.27,48.06 577.5,48.39 588.72,48.8 599.94,49.31 611.16,49.91 622.38,50.6 617.97,122.12 607.34,121.47 596.72,120.9 586.1,120.41 575.48,120.02 564.85,119.71 554.23,119.49 543.61,119.36 532.99,119.32 522.36,119.36 511.74,119.49 501.12,119.71 490.5,120.02 479.87,120.41 469.25,120.9 458.63,121.47 448.01,122.12" fill="#07114c" /><polygon points="469.78,49.09 480.25,48.65 490.72,48.29 501.19,48.01 511.67,47.81 522.14,47.69 532.61,47.65 543.08,47.69 553.56,47.81 564.03,48.01 574.5,48.29 584.98,48.65 595.45,49.09 592.47,120.69 582.56,120.27 572.64,119.93 562.73,119.66 552.81,119.47 542.9,119.36 532.99,119.32 523.07,119.36 513.16,119.47 503.24,119.66 493.33,119.93 483.41,120.27 473.5,120.69" fill="#08165c" /><polygon points="442.85,50.6 457.81,49.7 472.77,48.96 487.73,48.39 502.69,47.98 517.65,47.73 532.61,47.65 547.57,47.73 562.53,47.98 577.5,48.39 592.46,48.96 607.42,49.7 622.38,50.6 622.05,55.95 607.15,55.05 592.25,54.32 577.34,53.75 562.44,53.34 547.54,53.1 532.64,53.01 517.74,53.1 502.84,53.34 487.94,53.75 473.03,54.32 458.13,55.05 443.23,55.95" fill="#0d2c9a" /><polygon points="313.84,66.71 326.53,64.74 339.21,62.88 351.9,61.14 364.59,59.52 377.28,58.02 389.96,56.64 402.65,55.37 415.34,54.22 428.03,53.19 440.71,52.28 445.8,121.12 433.76,121.99 421.73,122.97 409.69,124.07 397.66,125.27 385.62,126.59 373.59,128.03 361.55,129.57 349.51,131.23 337.48,133 325.44,134.88" fill="#0b1a4c" /><polygon points="317.74,68.04 321.1,67.51 324.46,66.99 325.14,71.17 321.79,71.68 318.44,72.2" fill="#b9c6ea" /><polygon points="329.06,67.08 354.78,63.48 380.51,60.36 380.83,63.03 355.15,66.14 329.48,69.73" fill="#e8eefc" /><polygon points="347.89,70.98 359.02,69.51 370.15,68.13 370.59,71.55 359.49,72.93 348.39,74.4" fill="#2f7fe6" /><polygon points="376.83,67.34 387.96,66.11 399.09,64.96 399.46,68.4 388.35,69.54 377.25,70.77" fill="#23509e" /><polygon points="405.77,64.32 416.9,63.33 428.03,62.42 428.32,65.86 417.22,66.76 406.12,67.76" fill="#23509e" /><polygon points="320.6,85.09 329.88,83.65 339.16,82.28 339.68,85.7 330.43,87.07 321.17,88.5" fill="#2a72d8" /><polygon points="321.44,90.09 330.68,88.66 339.93,87.3 340.45,90.71 331.23,92.07 322.01,93.5" fill="#5fd0ff" /><polygon points="322.27,95.09 331.48,93.67 340.69,92.31 341.21,95.72 332.03,97.08 322.84,98.5" fill="#2a72d8" /><polygon points="323.11,100.09 332.28,98.67 341.46,97.32 341.98,100.73 332.83,102.08 323.68,103.5" fill="#2a72d8" /><polygon points="323.95,105.09 333.09,103.68 342.22,102.33 342.75,105.74 333.63,107.09 324.52,108.5" fill="#2a72d8" /><polygon points="324.79,110.09 333.89,108.68 342.99,107.34 343.51,110.75 334.44,112.1 325.36,113.5" fill="#2a72d8" /><polygon points="325.62,115.09 334.69,113.69 343.76,112.35 344.28,115.77 335.24,117.1 326.19,118.5" fill="#2a72d8" /><polygon points="326.46,120.09 335.49,118.7 344.52,117.36 345.05,120.78 336.04,122.11 327.03,123.5" fill="#2a72d8" /><polygon points="327.3,125.09 336.29,123.7 345.29,122.37 345.81,125.79 336.84,127.11 327.87,128.5" fill="#2a72d8" /><polygon points="342.12,77.98 361.18,75.42 380.24,73.13 399.3,71.11 418.35,69.36 437.41,67.88 437.59,70.17 418.56,71.65 399.54,73.4 380.52,75.42 361.49,77.71 342.47,80.26" fill="#163a86" /><polygon points="345.76,78.09 350.63,77.43 355.51,76.78 355.65,77.84 350.79,78.49 345.92,79.16" fill="#9fc3f4" /><polygon points="364.81,75.59 369.68,74.99 374.55,74.41 374.69,75.47 369.82,76.05 364.95,76.65" fill="#9fc3f4" /><polygon points="383.86,73.35 388.73,72.82 393.6,72.31 393.72,73.37 388.85,73.88 383.98,74.41" fill="#9fc3f4" /><polygon points="402.91,71.38 407.78,70.92 412.65,70.47 412.75,71.54 407.89,71.99 403.02,72.45" fill="#9fc3f4" /><polygon points="421.95,69.68 426.83,69.29 431.7,68.91 431.79,69.98 426.92,70.36 422.05,70.75" fill="#9fc3f4" /><polygon points="342.61,81.25 361.62,78.69 380.64,76.41 399.65,74.39 418.66,72.65 437.67,71.17 437.84,73.46 418.87,74.94 399.89,76.68 380.91,78.7 361.93,80.98 342.96,83.53" fill="#12306f" /><polygon points="346.24,81.36 351.1,80.69 355.96,80.05 356.11,81.11 351.25,81.76 346.4,82.42" fill="#9fc3f4" /><polygon points="365.24,78.86 370.1,78.26 374.96,77.68 375.1,78.75 370.24,79.33 365.38,79.92" fill="#9fc3f4" /><polygon points="384.24,76.62 389.1,76.1 393.97,75.59 394.08,76.65 389.23,77.16 384.37,77.69" fill="#9fc3f4" /><polygon points="403.25,74.66 408.11,74.2 412.97,73.76 413.07,74.83 408.21,75.27 403.36,75.73" fill="#9fc3f4" /><polygon points="422.25,72.96 427.11,72.57 431.97,72.2 432.06,73.27 427.2,73.64 422.34,74.03" fill="#9fc3f4" /><polygon points="343.11,84.51 362.07,81.97 381.03,79.69 399.99,77.68 418.96,75.93 437.92,74.46 438.1,76.75 419.17,78.22 400.24,79.96 381.31,81.97 362.38,84.25 343.45,86.79" fill="#163a86" /><polygon points="346.72,84.63 351.57,83.96 356.42,83.32 356.57,84.38 351.72,85.03 346.88,85.69" fill="#9fc3f4" /><polygon points="365.68,82.13 370.53,81.53 375.37,80.96 375.51,82.02 370.66,82.6 365.82,83.2" fill="#9fc3f4" /><polygon points="384.63,79.9 389.48,79.37 394.33,78.87 394.45,79.93 389.6,80.44 384.76,80.97" fill="#9fc3f4" /><polygon points="403.59,77.94 408.43,77.48 413.28,77.04 413.39,78.11 408.54,78.55 403.7,79.01" fill="#9fc3f4" /><polygon points="422.54,76.25 427.39,75.86 432.24,75.49 432.32,76.56 427.48,76.93 422.63,77.32" fill="#9fc3f4" /><polygon points="343.6,87.78 362.51,85.24 381.43,82.96 400.34,80.96 419.26,79.22 438.17,77.75 438.35,80.04 419.47,81.51 400.59,83.25 381.7,85.25 362.82,87.52 343.94,90.06" fill="#12306f" /><polygon points="347.2,87.89 352.04,87.23 356.88,86.59 357.03,87.65 352.19,88.3 347.36,88.96" fill="#9fc3f4" /><polygon points="366.11,85.4 370.95,84.81 375.78,84.23 375.92,85.3 371.09,85.87 366.25,86.47" fill="#9fc3f4" /><polygon points="385.02,83.18 389.85,82.65 394.69,82.14 394.81,83.21 389.98,83.72 385.14,84.25" fill="#9fc3f4" /><polygon points="403.92,81.22 408.76,80.77 413.6,80.33 413.7,81.39 408.87,81.83 404.04,82.29" fill="#9fc3f4" /><polygon points="422.83,79.53 427.67,79.15 432.5,78.77 432.59,79.84 427.76,80.22 422.93,80.6" fill="#9fc3f4" /><polygon points="344.09,91.05 362.95,88.51 381.82,86.24 400.69,84.24 419.56,82.5 438.43,81.03 438.6,83.33 419.77,84.79 400.93,86.53 382.1,88.53 363.26,90.79 344.43,93.32" fill="#163a86" /><polygon points="347.69,91.16 352.51,90.5 357.34,89.86 357.48,90.92 352.66,91.56 347.84,92.22" fill="#9fc3f4" /><polygon points="366.55,88.68 371.37,88.08 376.19,87.51 376.33,88.57 371.51,89.15 366.69,89.74" fill="#9fc3f4" /><polygon points="385.41,86.46 390.23,85.93 395.05,85.42 395.17,86.49 390.35,87 385.53,87.52" fill="#9fc3f4" /><polygon points="404.26,84.5 409.09,84.05 413.91,83.61 414.02,84.68 409.2,85.12 404.38,85.57" fill="#9fc3f4" /><polygon points="423.12,82.82 427.95,82.43 432.77,82.06 432.86,83.13 428.04,83.5 423.22,83.89" fill="#9fc3f4" /><polygon points="344.58,94.31 363.4,91.78 382.22,89.52 401.04,87.52 419.86,85.79 438.68,84.32 438.86,86.62 420.07,88.08 401.28,89.81 382.49,91.8 363.71,94.06 344.92,96.59" fill="#12306f" /><polygon points="348.17,94.43 352.98,93.77 357.79,93.13 357.94,94.19 353.13,94.83 348.32,95.49" fill="#9fc3f4" /><polygon points="366.98,91.95 371.79,91.36 376.6,90.78 376.74,91.85 371.93,92.42 367.12,93.01" fill="#9fc3f4" /><polygon points="385.79,89.73 390.6,89.21 395.42,88.7 395.54,89.77 390.73,90.28 385.92,90.8" fill="#9fc3f4" /><polygon points="404.6,87.79 409.42,87.33 414.23,86.89 414.33,87.96 409.52,88.4 404.71,88.86" fill="#9fc3f4" /><polygon points="423.42,86.11 428.23,85.72 433.04,85.35 433.13,86.42 428.32,86.79 423.51,87.18" fill="#9fc3f4" /><polygon points="345.07,97.58 363.84,95.05 382.61,92.79 401.39,90.8 420.16,89.07 438.94,87.61 439.11,89.9 420.37,91.36 401.63,93.09 382.89,95.08 364.15,97.33 345.41,99.86" fill="#163a86" /><polygon points="348.65,97.69 353.45,97.04 358.25,96.4 358.4,97.46 353.6,98.1 348.81,98.76" fill="#9fc3f4" /><polygon points="367.41,95.22 372.21,94.63 377.02,94.06 377.15,95.12 372.35,95.7 367.56,96.29" fill="#9fc3f4" /><polygon points="386.18,93.01 390.98,92.49 395.78,91.98 395.9,93.05 391.1,93.56 386.31,94.08" fill="#9fc3f4" /><polygon points="404.94,91.07 409.74,90.61 414.54,90.18 414.65,91.25 409.85,91.68 405.05,92.14" fill="#9fc3f4" /><polygon points="423.71,89.39 428.51,89 433.31,88.64 433.4,89.71 428.6,90.07 423.8,90.46" fill="#9fc3f4" /><polygon points="344.96,102.79 353.88,101.55 362.79,100.37 363.88,108.36 355.02,109.53 346.17,110.76" fill="#3f8a55" /><polygon points="345.65,107.35 354.53,106.11 363.42,104.94 363.88,108.36 355.02,109.53 346.17,110.76" fill="#3c7a9a" opacity=".7"/><polygon points="364.31,100.18 373.23,99.07 382.14,98.02 383.12,106.02 374.26,107.06 365.4,108.17" fill="#5aa0d0" /><polygon points="364.93,104.74 373.82,103.64 382.7,102.59 383.12,106.02 374.26,107.06 365.4,108.17" fill="#4f9a4a" opacity=".7"/><polygon points="383.67,97.85 392.58,96.87 401.5,95.96 402.35,103.97 393.49,104.88 384.63,105.85" fill="#2f6a3a" /><polygon points="384.22,102.42 393.1,101.45 401.98,100.53 402.35,103.97 393.49,104.88 384.63,105.85" fill="#9fc4e6" opacity=".7"/><polygon points="403.02,95.8 411.93,94.96 420.85,94.17 421.58,102.19 412.72,102.98 403.86,103.82" fill="#86b8e0" /><polygon points="403.5,100.38 412.38,99.54 421.27,98.76 421.58,102.19 412.72,102.98 403.86,103.82" fill="#2a5a8a" opacity=".7"/><polygon points="422.37,94.04 431.29,93.33 440.2,92.67 440.82,100.7 431.96,101.35 423.1,102.07" fill="#3c7a9a" /><polygon points="422.78,98.63 431.67,97.91 440.55,97.26 440.82,100.7 431.96,101.35 423.1,102.07" fill="#6fae6a" opacity=".7"/><polygon points="346.31,111.75 355.17,110.52 364.02,109.35 365.11,117.34 356.32,118.5 347.52,119.72" fill="#4f9a4a" /><polygon points="347,116.31 355.82,115.08 364.64,113.91 365.11,117.34 356.32,118.5 347.52,119.72" fill="#4a7fc0" opacity=".7"/><polygon points="365.53,109.15 374.38,108.05 383.24,107.01 384.21,115.01 375.41,116.05 366.62,117.14" fill="#9fc4e6" /><polygon points="366.15,113.72 374.97,112.62 383.79,111.58 384.21,115.01 375.41,116.05 366.62,117.14" fill="#d0dfee" opacity=".7"/><polygon points="384.75,106.84 393.6,105.87 402.46,104.96 403.31,112.97 394.51,113.88 385.71,114.84" fill="#2a5a8a" /><polygon points="385.3,111.41 394.12,110.45 402.94,109.54 403.31,112.97 394.51,113.88 385.71,114.84" fill="#37805a" opacity=".7"/><polygon points="403.97,104.81 412.82,103.97 421.67,103.19 422.41,111.21 413.61,111.99 404.81,112.82" fill="#6fae6a" /><polygon points="404.45,109.39 413.27,108.55 422.09,107.77 422.41,111.21 413.61,111.99 404.81,112.82" fill="#5c90c8" opacity=".7"/><polygon points="423.18,103.06 432.04,102.35 440.89,101.7 441.51,109.73 432.71,110.38 423.91,111.08" fill="#4a7fc0" /><polygon points="423.6,107.64 432.42,106.94 441.24,106.29 441.51,109.73 432.71,110.38 423.91,111.08" fill="#2f6f4a" opacity=".7"/><polygon points="347.67,120.71 356.46,119.49 365.25,118.32 366.34,126.31 357.61,127.47 348.87,128.68" fill="#d0dfee" /><polygon points="348.35,125.27 357.11,124.05 365.87,122.89 366.34,126.31 357.61,127.47 348.87,128.68" fill="#88a8c8" opacity=".7"/><polygon points="366.75,118.13 375.54,117.04 384.33,116 385.31,124 376.57,125.03 367.83,126.12" fill="#37805a" /><polygon points="367.37,122.7 376.13,121.61 384.89,120.58 385.31,124 376.57,125.03 367.83,126.12" fill="#3f8a55" opacity=".7"/><polygon points="385.83,115.83 394.62,114.87 403.42,113.96 404.27,121.97 395.53,122.88 386.8,123.83" fill="#5c90c8" /><polygon points="386.38,120.41 395.14,119.44 403.9,118.54 404.27,121.97 395.53,122.88 386.8,123.83" fill="#5aa0d0" opacity=".7"/><polygon points="404.92,113.81 413.71,112.98 422.5,112.2 423.23,120.22 414.5,121 405.76,121.83" fill="#2f6f4a" /><polygon points="405.4,118.39 414.16,117.56 422.92,116.79 423.23,120.22 414.5,121 405.76,121.83" fill="#2f6a3a" opacity=".7"/><polygon points="424,112.08 432.79,111.37 441.58,110.72 442.2,118.75 433.46,119.4 424.72,120.1" fill="#88a8c8" /><polygon points="424.41,116.66 433.17,115.96 441.93,115.31 442.2,118.75 433.46,119.4 424.72,120.1" fill="#86b8e0" opacity=".7"/><polygon points="445.84,61.16 454.75,60.62 463.65,60.14 463.76,62.05 454.87,62.53 445.98,63.07" fill="#9fb8ee" /><polygon points="447.71,68.73 450.15,68.58 452.58,68.43 453.24,78.38 450.82,78.52 448.4,78.67" fill="#2f86ea" /><polygon points="447.71,68.73 450.15,68.58 452.58,68.43 452.78,71.49 450.35,71.64 447.92,71.79" fill="#7fe0ff" /><polygon points="457.37,70.46 459.8,70.32 462.23,70.19 462.68,77.85 460.27,77.98 457.85,78.11" fill="#2f86ea" /><polygon points="457.37,70.46 459.8,70.32 462.23,70.19 462.41,73.26 459.99,73.39 457.56,73.52" fill="#7fe0ff" /><polygon points="466.71,66.9 469.14,66.78 471.58,66.67 472.13,77.39 469.71,77.5 467.3,77.61" fill="#2f86ea" /><polygon points="466.71,66.9 469.14,66.78 471.58,66.67 471.74,69.73 469.3,69.84 466.87,69.96" fill="#7fe0ff" /><polygon points="476.34,68.76 478.77,68.66 481.2,68.57 481.57,76.99 479.16,77.09 476.74,77.19" fill="#2f86ea" /><polygon points="476.34,68.76 478.77,68.66 481.2,68.57 481.34,71.63 478.91,71.72 476.49,71.82" fill="#7fe0ff" /><polygon points="485.72,65.33 488.16,65.25 490.6,65.17 491.02,76.66 488.6,76.74 486.19,76.82" fill="#2f86ea" /><polygon points="485.72,65.33 488.16,65.25 490.6,65.17 490.71,68.23 488.28,68.31 485.85,68.4" fill="#7fe0ff" /><polygon points="447.41,83.35 459.45,82.63 471.49,82.02 471.59,83.94 459.57,84.54 447.54,85.26" fill="#9fb8ee" /><polygon points="447.73,87.94 470.64,86.67 493.54,85.79 494.08,101.11 471.45,101.98 448.81,103.24" fill="#0c2478" /><polyline points="450.54,96.98 459.07,94.17 467.81,94.86 476.35,91.78 485.07,92.21 491.52,90.07" fill="none" stroke="#e0b070" stroke-width="0.7" /><polyline points="450.7,99.28 459.3,98 467.92,96.78 476.59,96.76 485.17,94.5 491.69,94.67" fill="none" stroke="#7fb0ff" stroke-width="0.7" /><g transform="translate(440 40) scale(0.18519)"><polygon points="295,225 340,213 400,185 445,155 500,150 540,160 560,130 620,105 690,108 706,130 690,152 645,168 682,200 686,250 662,290 630,296 560,310 520,320 500,340 530,370 577,415 560,432 520,420 470,380 430,350 410,322 385,312 380,282 360,262 330,266 300,242" fill="#0d2ea8" stroke="#0d2ea8" stroke-width="14" stroke-linejoin="round" opacity=".55"/><polygon points="295,225 340,213 400,185 445,155 500,150 540,160 560,130 620,105 690,108 706,130 690,152 645,168 682,200 686,250 662,290 630,296 560,310 520,320 500,340 530,370 577,415 560,432 520,420 470,380 430,350 410,322 385,312 380,282 360,262 330,266 300,242" fill="#2447f5" stroke="#5f8cff" stroke-width="3" stroke-linejoin="round"/><polygon points="540,162 560,132 620,107 688,110 703,130 690,150 645,166 600,200 560,190" fill="#2f55ff"/><polygon points="500,340 530,370 575,413 560,428 520,418 470,378 432,350 470,330" fill="#1d3de6"/><path d="M445 157 L470 215 L520 235 L560 190 M470 215 L430 262 L455 295 L520 300 L520 235 M520 300 L500 340 M600 200 L640 168" fill="none" stroke="#5f86ff" stroke-width="2.5"/><ellipse cx="398" cy="222" rx="13" ry="9" fill="#8fe0ff"/><ellipse cx="398" cy="222" rx="7" ry="5" fill="#fff"/><ellipse cx="555" cy="180" rx="13" ry="9" fill="#8fe0ff"/><ellipse cx="555" cy="180" rx="7" ry="5" fill="#fff"/><ellipse cx="598" cy="245" rx="13" ry="9" fill="#8fe0ff"/><ellipse cx="598" cy="245" rx="7" ry="5" fill="#fff"/><ellipse cx="512" cy="268" rx="13" ry="9" fill="#8fe0ff"/><ellipse cx="512" cy="268" rx="7" ry="5" fill="#fff"/><ellipse cx="432" cy="262" rx="13" ry="9" fill="#8fe0ff"/><ellipse cx="432" cy="262" rx="7" ry="5" fill="#fff"/><ellipse cx="398" cy="308" rx="13" ry="9" fill="#8fe0ff"/><ellipse cx="398" cy="308" rx="7" ry="5" fill="#fff"/><ellipse cx="440" cy="305" rx="13" ry="9" fill="#8fe0ff"/><ellipse cx="440" cy="305" rx="7" ry="5" fill="#fff"/><ellipse cx="470" cy="345" rx="13" ry="9" fill="#8fe0ff"/><ellipse cx="470" cy="345" rx="7" ry="5" fill="#fff"/><ellipse cx="530" cy="393" rx="13" ry="9" fill="#8fe0ff"/><ellipse cx="530" cy="393" rx="7" ry="5" fill="#fff"/><ellipse cx="420" cy="292" rx="13" ry="9" fill="#8fe0ff"/><ellipse cx="420" cy="292" rx="7" ry="5" fill="#fff"/><rect x="438" y="272" width="26" height="22" fill="none" stroke="#dff6ff" stroke-width="4" transform="rotate(35 451 283)"/><rect x="337" y="125" width="7" height="4" fill="#3f8aff"/><rect x="90" y="268" width="5" height="6" fill="#3f8aff"/><rect x="76" y="257" width="4" height="4" fill="#3f8aff"/><rect x="444" y="95" width="4" height="6" fill="#3f8aff"/><rect x="436" y="375" width="4" height="4" fill="#3f8aff"/><rect x="638" y="285" width="4" height="6" fill="#3f8aff"/><rect x="593" y="88" width="4" height="4" fill="#3f8aff"/><rect x="565" y="119" width="5" height="4" fill="#3f8aff"/><rect x="549" y="281" width="7" height="6" fill="#3f8aff"/><rect x="197" y="285" width="7" height="4" fill="#3f8aff"/><rect x="384" y="272" width="4" height="6" fill="#3f8aff"/><rect x="78" y="146" width="7" height="6" fill="#3f8aff"/><rect x="439" y="186" width="7" height="5" fill="#3f8aff"/><rect x="374" y="161" width="4" height="6" fill="#3f8aff"/><rect x="784" y="100" width="5" height="6" fill="#3f8aff"/><rect x="505" y="197" width="5" height="5" fill="#3f8aff"/><rect x="616" y="97" width="7" height="5" fill="#3f8aff"/><rect x="181" y="196" width="5" height="5" fill="#3f8aff"/><rect x="58" y="317" width="7" height="6" fill="#3f8aff"/><rect x="793" y="372" width="5" height="6" fill="#3f8aff"/><rect x="363" y="253" width="5" height="4" fill="#3f8aff"/><rect x="843" y="419" width="5" height="6" fill="#3f8aff"/><rect x="670" y="92" width="7" height="5" fill="#3f8aff"/><rect x="654" y="437" width="5" height="5" fill="#3f8aff"/><rect x="722" y="398" width="5" height="4" fill="#3f8aff"/><rect x="941" y="201" width="7" height="4" fill="#3f8aff"/><rect x="503" y="150" width="5" height="4" fill="#3f8aff"/><rect x="743" y="217" width="5" height="4" fill="#3f8aff"/><rect x="183" y="218" width="5" height="4" fill="#3f8aff"/><rect x="822" y="389" width="5" height="6" fill="#3f8aff"/><rect x="426" y="202" width="5" height="4" fill="#3f8aff"/><rect x="167" y="135" width="4" height="6" fill="#3f8aff"/><rect x="248" y="249" width="7" height="4" fill="#3f8aff"/><rect x="277" y="71" width="5" height="6" fill="#3f8aff"/><rect x="381" y="279" width="4" height="6" fill="#3f8aff"/><rect x="862" y="421" width="7" height="6" fill="#3f8aff"/><rect x="744" y="238" width="7" height="6" fill="#3f8aff"/><rect x="404" y="217" width="4" height="5" fill="#3f8aff"/><rect x="641" y="93" width="4" height="4" fill="#3f8aff"/><rect x="451" y="110" width="7" height="4" fill="#3f8aff"/><rect x="120" y="279" width="7" height="4" fill="#3f8aff"/><rect x="949" y="297" width="4" height="4" fill="#3f8aff"/><rect x="621" y="124" width="5" height="5" fill="#3f8aff"/><rect x="610" y="245" width="4" height="5" fill="#3f8aff"/><rect x="993" y="242" width="5" height="5" fill="#3f8aff"/><rect x="104" y="107" width="5" height="6" fill="#3f8aff"/><rect x="279" y="376" width="4" height="6" fill="#3f8aff"/><rect x="42" y="421" width="7" height="5" fill="#3f8aff"/><rect x="163" y="270" width="4" height="6" fill="#3f8aff"/><rect x="312" y="307" width="4" height="6" fill="#3f8aff"/><rect x="848" y="261" width="4" height="5" fill="#3f8aff"/><rect x="776" y="267" width="7" height="5" fill="#3f8aff"/><rect x="643" y="296" width="4" height="4" fill="#3f8aff"/><rect x="821" y="343" width="4" height="4" fill="#3f8aff"/><rect x="527" y="201" width="4" height="4" fill="#3f8aff"/><rect x="794" y="244" width="4" height="6" fill="#3f8aff"/><rect x="613" y="197" width="7" height="5" fill="#3f8aff"/><rect x="955" y="204" width="4" height="4" fill="#3f8aff"/><rect x="242" y="142" width="4" height="5" fill="#3f8aff"/><rect x="631" y="403" width="4" height="5" fill="#3f8aff"/><rect x="911" y="197" width="7" height="4" fill="#3f8aff"/><rect x="837" y="114" width="5" height="6" fill="#3f8aff"/><rect x="755" y="246" width="4" height="5" fill="#3f8aff"/><rect x="793" y="193" width="7" height="5" fill="#3f8aff"/><rect x="473" y="345" width="4" height="6" fill="#3f8aff"/><rect x="175" y="437" width="4" height="4" fill="#3f8aff"/><rect x="598" y="242" width="7" height="4" fill="#3f8aff"/><rect x="619" y="290" width="5" height="6" fill="#3f8aff"/><rect x="938" y="127" width="7" height="4" fill="#3f8aff"/><rect x="40" y="365" width="7" height="6" fill="#3f8aff"/><rect x="352" y="60" width="10" height="9" fill="#6fc6ff"/><rect x="463" y="98" width="10" height="9" fill="#6fc6ff"/><rect x="355" y="185" width="10" height="9" fill="#6fc6ff"/><rect x="207" y="395" width="10" height="9" fill="#6fc6ff"/><rect x="243" y="380" width="10" height="9" fill="#6fc6ff"/><rect x="360" y="375" width="10" height="9" fill="#6fc6ff"/><rect x="588" y="68" width="10" height="9" fill="#6fc6ff"/><rect x="848" y="172" width="10" height="9" fill="#6fc6ff"/><rect x="692" y="418" width="10" height="9" fill="#6fc6ff"/><rect x="877" y="400" width="10" height="9" fill="#6fc6ff"/><rect x="912" y="388" width="10" height="9" fill="#6fc6ff"/><rect x="205" y="100" width="10" height="9" fill="#6fc6ff"/><rect x="45" y="103" width="10" height="9" fill="#6fc6ff"/></g>
<polygon points="574.91,61.34 583.8,61.65 592.68,62.01 592.61,63.93 583.73,63.56 574.85,63.25" fill="#9fb8ee" /><polygon points="573.44,66.66 597.34,67.6 621.25,68.96 620.3,84.26 596.67,82.91 573.04,81.99" fill="#0c2a8e" /><ellipse cx="585.59" cy="75.49" rx="5.5" ry="2.2" fill="#47c8ff"/><ellipse cx="585.59" cy="72.99" rx="4" ry="1.5" fill="#bdf0ff"/><ellipse cx="608.49" cy="76.59" rx="5.5" ry="2.2" fill="#47c8ff"/><ellipse cx="608.49" cy="74.09" rx="4" ry="1.5" fill="#bdf0ff"/><polygon points="574.24,86.62 584.05,86.97 593.86,87.38 593.78,89.3 583.98,88.88 574.18,88.54" fill="#9fb8ee" /><polygon points="572.79,91.95 596.24,92.86 619.69,94.2 618.74,109.5 595.57,108.18 572.4,107.27" fill="#0b2484" /><ellipse cx="597.63" cy="100.61" rx="7.5" ry="5.2" fill="none" stroke="#ff6fa8" stroke-width="1.3"/><ellipse cx="597.63" cy="100.61" rx="4.2" ry="2.8" fill="#7f6fe0"/><ellipse cx="597.63" cy="100.61" rx="1.8" ry="1.2" fill="#fff"/><polygon points="625.18,56.16 637.83,57.08 650.48,58.12 663.13,59.27 675.78,60.54 688.43,61.93 701.08,63.44 713.74,65.06 726.39,66.81 739.04,68.67 751.69,70.64 741.31,135.4 729.27,133.51 717.24,131.73 705.21,130.07 693.18,128.51 681.15,127.07 669.12,125.75 657.08,124.53 645.05,123.43 633.02,122.44 620.99,121.56" fill="#0a1650" stroke="#1f4fae" stroke-width=".5"/><text x="666.86" y="60.48" font-size="4.4" fill="#f2f6ff" font-weight="700" transform="rotate(4.5 666.86 58.48)">广州市2021-07-14日  星期六08:00</text><polygon points="628.74,63.32 648.31,64.85 667.88,66.67 687.44,68.76 685.66,84.76 666.33,82.69 646.99,80.9 627.66,79.38" fill="#0d2f9a" stroke="#2f7fe0" stroke-width=".6"/><polygon points="691,69.18 710.13,71.55 729.25,74.19 748.37,77.1 745.61,94.53 726.74,91.65 707.87,89.04 689,86.69" fill="#0d2f9a" stroke="#2f7fe0" stroke-width=".6"/><polygon points="627.51,81.68 646.81,83.19 666.1,84.98 685.4,87.05 683.62,103.05 664.55,101 645.49,99.23 626.43,97.74" fill="#0d2f9a" stroke="#2f7fe0" stroke-width=".6"/><polygon points="688.74,88.98 707.57,91.32 726.41,93.93 745.25,96.8 742.61,113.47 724.01,110.63 705.41,108.05 686.82,105.74" fill="#0d2f9a" stroke="#2f7fe0" stroke-width=".6"/><ellipse cx="645.44" cy="72.69" rx="7.5" ry="5.2" fill="#47d0ff"/><path d="M645.44 72.69 L637.94 72.69 A7.5 5.2 0 0 0 647.44 77.69 Z" fill="#ff6fb5"/><path d="M645.44 72.69 L647.44 77.69 A7.5 5.2 0 0 0 652.94 72.69 Z" fill="#8f6fff"/><polygon points="663.52,70.09 673.49,71.09 683.47,72.17 683.3,73.7 673.34,72.62 663.37,71.62" fill="#ff7fb0" /><polygon points="663.19,73.52 673.15,74.53 683.1,75.6 682.93,77.13 672.99,76.05 663.05,75.05" fill="#7fe0ff" /><polygon points="662.87,76.96 672.8,77.96 682.72,79.03 682.56,80.56 672.64,79.48 662.73,78.48" fill="#c0a0ff" /><polygon points="697.34,76.5 699.11,76.71 700.88,76.93 699.76,86.07 698.01,85.85 696.25,85.63" fill="#5fd8ff" /><polygon points="705.82,75.24 707.59,75.47 709.36,75.7 707.89,87.11 706.14,86.88 704.38,86.65" fill="#5fd8ff" /><polygon points="713.52,80.12 715.28,80.36 717.05,80.6 716.02,88.2 714.27,87.96 712.51,87.72" fill="#5fd8ff" /><polygon points="722.01,78.97 723.78,79.22 725.55,79.47 724.16,89.34 722.4,89.09 720.64,88.84" fill="#5fd8ff" /><polygon points="729.76,83.18 731.53,83.44 733.3,83.7 732.29,90.53 730.53,90.27 728.77,90.01" fill="#5fd8ff" /><polygon points="738.51,80.61 740.28,80.88 742.05,81.16 740.42,91.77 738.66,91.5 736.9,91.23" fill="#5fd8ff" /><polygon points="630.44,96.49 631.13,86.55 639.64,90.28 650.28,94.26 659.33,91.25 668.7,94.49 677.02,90.74 681.85,95.13 681.18,101.23" fill="#2f7ff0" /><polygon points="630.44,96.49 630.76,91.9 641.46,95.05 654.6,95.04 665.28,97.99 676.54,95.32 681.52,98.18 681.18,101.23" fill="#7f5fe8" /><polygon points="708.61,103.83 712.36,98.92 726.96,99.43 732.59,106.47 725.75,107.78" fill="#bfeaff" /><polygon points="697.66,103.19 718.27,105.93 738.87,108.99 738.57,110.89 718,107.83 697.43,105.09" fill="#2f8af0" /><polygon points="626.17,101.56 645.54,103.08 664.9,104.89 684.27,106.98 703.63,109.36 723,112.03 742.36,114.98 742,117.25 722.67,114.31 703.34,111.64 684.01,109.27 664.68,107.18 645.35,105.37 626.02,103.85" fill="#15409a" /><polygon points="629.82,105.28 636.28,105.78 642.74,106.3 642.64,107.6 636.18,107.08 629.73,106.58" fill="#39d6c0" /><polygon points="653.51,107.25 659.98,107.87 666.44,108.51 666.31,109.81 659.85,109.16 653.4,108.55" fill="#5fb0e8" /><polygon points="677.21,109.66 683.67,110.39 690.13,111.15 689.98,112.44 683.52,111.68 677.07,110.95" fill="#39d6c0" /><polygon points="700.9,112.49 707.36,113.33 713.82,114.21 713.65,115.51 707.19,114.63 700.74,113.78" fill="#39d6c0" /><polygon points="724.59,115.75 731.05,116.71 737.52,117.71 737.32,119 730.86,118 724.41,117.04" fill="#39d6c0" /><polygon points="629.64,107.88 636.09,108.38 642.54,108.9 642.43,110.2 635.99,109.68 629.55,109.18" fill="#39d6c0" /><polygon points="653.28,109.85 659.73,110.46 666.18,111.11 666.05,112.4 659.61,111.76 653.17,111.15" fill="#5fb0e8" /><polygon points="676.93,112.25 683.38,112.98 689.83,113.74 689.67,115.03 683.23,114.27 676.79,113.54" fill="#39d6c0" /><polygon points="700.57,115.07 707.02,115.92 713.47,116.8 713.3,118.09 706.85,117.21 700.41,116.37" fill="#39d6c0" /><polygon points="724.22,118.33 730.67,119.29 737.12,120.29 736.92,121.57 730.47,120.58 724.03,119.62" fill="#39d6c0" /><polygon points="629.46,110.48 635.89,110.98 642.33,111.5 642.22,112.8 635.79,112.27 629.36,111.78" fill="#39d6c0" /><polygon points="653.05,112.45 659.49,113.06 665.92,113.7 665.8,115 659.37,114.35 652.94,113.74" fill="#5fb0e8" /><polygon points="676.65,114.84 683.09,115.57 689.52,116.33 689.37,117.62 682.94,116.86 676.51,116.14" fill="#39d6c0" /><polygon points="700.25,117.66 706.68,118.5 713.12,119.38 712.94,120.67 706.51,119.8 700.09,118.95" fill="#39d6c0" /><polygon points="723.85,120.91 730.28,121.87 736.72,122.86 736.52,124.15 730.09,123.16 723.66,122.2" fill="#39d6c0" /><polygon points="629.27,113.08 635.7,113.57 642.12,114.1 642.01,115.4 635.6,114.87 629.18,114.38" fill="#39d6c0" /><polygon points="652.82,115.04 659.25,115.65 665.67,116.29 665.54,117.59 659.12,116.95 652.71,116.34" fill="#5fb0e8" /><polygon points="676.37,117.43 682.8,118.16 689.22,118.91 689.07,120.21 682.65,119.45 676.23,118.73" fill="#39d6c0" /><polygon points="699.92,120.25 706.34,121.09 712.77,121.96 712.59,123.25 706.18,122.38 699.76,121.54" fill="#39d6c0" /><polygon points="723.47,123.49 729.89,124.45 736.32,125.44 736.12,126.73 729.7,125.74 723.28,124.78" fill="#39d6c0" /><polygon points="629.09,115.68 635.5,116.17 641.91,116.7 641.81,117.99 635.4,117.47 629,116.98" fill="#39d6c0" /><polygon points="652.59,117.64 659,118.25 665.41,118.89 665.28,120.18 658.88,119.54 652.48,118.94" fill="#5fb0e8" /><polygon points="676.09,120.02 682.5,120.75 688.91,121.5 688.76,122.8 682.36,122.04 675.96,121.32" fill="#39d6c0" /><polygon points="699.6,122.83 706.01,123.67 712.42,124.55 712.24,125.84 705.84,124.97 699.43,124.13" fill="#39d6c0" /><polygon points="723.1,126.07 729.51,127.03 735.92,128.02 735.72,129.3 729.31,128.32 722.91,127.36" fill="#39d6c0" /><polygon points="628.91,118.28 635.31,118.77 641.7,119.29 641.6,120.59 635.21,120.07 628.82,119.58" fill="#39d6c0" /><polygon points="652.36,120.23 658.76,120.84 665.16,121.48 665.03,122.78 658.64,122.14 652.25,121.53" fill="#5fb0e8" /><polygon points="675.82,122.61 682.21,123.34 688.61,124.09 688.46,125.39 682.07,124.63 675.68,123.91" fill="#39d6c0" /><polygon points="699.27,125.42 705.67,126.26 712.06,127.13 711.89,128.42 705.5,127.55 699.11,126.71" fill="#39d6c0" /><polygon points="722.72,128.65 729.12,129.61 735.52,130.59 735.32,131.88 728.93,130.9 722.54,129.94" fill="#39d6c0" /><polygon points="487.77,49.54 510.2,48.98 532.62,48.8 555.04,48.98 577.46,49.54 577.4,51.83 555.01,51.28 532.63,51.1 510.25,51.28 487.86,51.83" fill="#10309a" /><polygon points="521.41,49.08 532.62,49.03 543.83,49.08 543.82,50.76 532.63,50.72 521.43,50.76" fill="#3f9fff" />
</g>

<!-- title band -->
<rect x="28.3" y="391.7" width="222" height="82.5" fill="#9bdbf6"/>
<rect x="830.3" y="391.7" width="221.7" height="82.5" fill="#9bdbf6"/>
<rect x="258" y="391.7" width="564.5" height="82.5" fill="#b59b76"/>
<g transform="translate(545 433.2) scale(1.011 1.09) translate(-545 -433.2)">
<text x="545" y="451.4" font-size="47" font-weight="700" fill="#fffdf6" text-anchor="middle" style="filter:drop-shadow(1.2px 1.1px 0.5px rgba(125,105,75,.6))">光纤分布式协同指挥系统</text>
</g>
<text x="537.6" y="500.9" font-size="20.7" fill="#111" text-anchor="middle" letter-spacing="-0.98">Distributed &amp; optic KVM collaboration system</text>
<g id="diagram">
<path class="ln b" d="M118.3 499.4H153.6"/>
<text class="leg" x="136.25" y="514.8">FO</text>
<path class="ln r" d="M157.8 499.4H193"/>
<text class="leg" x="178.4" y="514.8">CAT</text>
<path class="ln o" d="M197.2 499.4H232.5"/>
<text class="leg" x="215.85" y="514.8">HDMI</text>
<path class="ln g" d="M236.4 499.4H271.7"/>
<text class="leg" x="257.45" y="514.8">USB</text>
<path class="ln o" d="M158 669.2H208.8"/>
<path class="ln g" d="M158 675.6H208.8"/>
<path class="ln r" d="M293 669H368.4"/>
<path class="ln b" d="M293 674.6H338.8"/>
<path class="ln o" d="M158 750.8H208.8"/>
<path class="ln g" d="M158 757.2H208.8"/>
<path class="ln r" d="M293 750.6H368.4"/>
<path class="ln b" d="M293 756.2H338.8"/>
<path class="ln o" d="M158 831.1H208.8"/>
<path class="ln g" d="M158 837.5H208.8"/>
<path class="ln r" d="M293 830.9H368.4"/>
<path class="ln b" d="M293 836.5H338.8"/>
<path class="ln o" d="M158 911.6H208.8"/>
<path class="ln g" d="M158 918H208.8"/>
<path class="ln r" d="M293 911.4H368.4"/>
<path class="ln b" d="M293 917H338.8"/>
<path class="ln r" d="M191.7 619.6H368.4V911.4"/>
<path class="ln b" d="M338.8 674.6V917"/>
<path class="ln m" d="M368.4 716.5H459.8"/>
<path class="ln b" d="M338.8 876.6H459.8"/>
<path class="ln b" d="M460.6 585.3H414.4V861H459.8"/>
<path class="ln o" d="M594.4 584.6H788.2"/>
<path class="ln r" d="M519.6 640.6V701.3"/>
<path class="ln r" d="M519.6 747V832.6"/>
<path class="ln r" d="M616 637.8H571V701.3"/>
<path class="ln r" d="M588 718.9H626.6"/>
<path class="ln r" d="M571.6 738V757.2H784.2V742"/>
<path class="ln b" d="M595.5 857.5H624V819.6H675.9"/>
<path class="ln b" d="M595.5 879.2H624V907.7H675.9"/>
<path class="ln o" d="M760.4 811.7H879.5"/>
<path class="ln g" d="M760.4 820.9H879.5"/>
<path class="ln o" d="M764 901.2H879.5"/>
<path class="ln g" d="M764 911.4H879.5"/>
<g transform="translate(110 540) scale(0.09259)"><path d="M205 113 L735 272 L860 338 L812 512 L640 492 L470 400 L480 412 L405 432 L408 540 Q440 575 410 620 Q395 640 360 625 L262 705 Q240 760 205 752 Q160 730 175 640 Q190 580 235 580 L262 620 L345 545 L345 432 L318 428 L285 318 L160 222 Z" fill="#000"/><path d="M165 226 Q360 330 520 372 Q580 372 585 310 Q590 285 640 285" fill="none" stroke="#fff" stroke-width="9"/><polygon points="675,325 832,360 800,492 655,466" fill="#fff"/><ellipse cx="742" cy="408" rx="60" ry="62" fill="#000"/></g>
<g transform="translate(105 645) scale(0.09259)"><rect x="110" y="135" width="430" height="80" rx="8" fill="#000"/><rect x="260" y="150" width="20" height="55" rx="8" fill="#fff"/><rect x="305" y="150" width="20" height="55" rx="8" fill="#fff"/><rect x="350" y="150" width="20" height="55" rx="8" fill="#fff"/><rect x="392" y="150" width="20" height="55" rx="8" fill="#fff"/><path d="M145 250 L505 250 Q495 350 385 402 L385 335 A60 60 0 0 0 265 335 L265 402 Q155 350 145 250 Z" fill="#000"/><circle cx="322" cy="335" r="40" fill="#000"/><circle cx="322" cy="335" r="19" fill="#fff"/></g>
<g transform="translate(124.1 708.8) scale(0.09259)"><rect x="0" y="0" width="280" height="567" rx="8" fill="#000"/><rect x="32" y="13" width="213" height="542" fill="#fff"/><circle cx="125" cy="63" r="12" fill="#000"/><circle cx="172" cy="58" r="7" fill="#000"/><rect x="32" y="133" width="213" height="52" fill="#4a4a4a"/><path d="M36 143 l14 30 l14 -30" fill="none" stroke="#ddd" stroke-width="6"/><path d="M71 143 l14 30 l14 -30" fill="none" stroke="#ddd" stroke-width="6"/><path d="M106 143 l14 30 l14 -30" fill="none" stroke="#ddd" stroke-width="6"/><path d="M141 143 l14 30 l14 -30" fill="none" stroke="#ddd" stroke-width="6"/><path d="M176 143 l14 30 l14 -30" fill="none" stroke="#ddd" stroke-width="6"/><path d="M211 143 l14 30 l14 -30" fill="none" stroke="#ddd" stroke-width="6"/><rect x="32" y="195" width="213" height="50" fill="#4a4a4a"/><path d="M36 205 l14 28 l14 -28" fill="none" stroke="#ddd" stroke-width="6"/><path d="M71 205 l14 28 l14 -28" fill="none" stroke="#ddd" stroke-width="6"/><path d="M106 205 l14 28 l14 -28" fill="none" stroke="#ddd" stroke-width="6"/><path d="M141 205 l14 28 l14 -28" fill="none" stroke="#ddd" stroke-width="6"/><path d="M176 205 l14 28 l14 -28" fill="none" stroke="#ddd" stroke-width="6"/><path d="M211 205 l14 28 l14 -28" fill="none" stroke="#ddd" stroke-width="6"/><rect x="32" y="463" width="213" height="54" fill="#4a4a4a"/><path d="M36 473 l14 32 l14 -32" fill="none" stroke="#ddd" stroke-width="6"/><path d="M71 473 l14 32 l14 -32" fill="none" stroke="#ddd" stroke-width="6"/><path d="M106 473 l14 32 l14 -32" fill="none" stroke="#ddd" stroke-width="6"/><path d="M141 473 l14 32 l14 -32" fill="none" stroke="#ddd" stroke-width="6"/><path d="M176 473 l14 32 l14 -32" fill="none" stroke="#ddd" stroke-width="6"/><path d="M211 473 l14 32 l14 -32" fill="none" stroke="#ddd" stroke-width="6"/><rect x="32" y="185" width="213" height="10" fill="#fff"/><circle cx="187" cy="287" r="8" fill="#000"/><circle cx="187" cy="330" r="8" fill="#000"/><rect x="225" y="265" width="10" height="80" fill="#bbb"/><rect x="62" y="360" width="23" height="60" rx="6" fill="#000"/><rect x="100" y="360" width="23" height="60" rx="6" fill="#000"/><rect x="172" y="360" width="23" height="60" rx="6" fill="#000"/><rect x="208" y="360" width="23" height="60" rx="6" fill="#000"/></g>
<g transform="translate(124.1 796.2) scale(0.09259)"><rect x="0" y="0" width="280" height="567" rx="8" fill="#000"/><rect x="32" y="13" width="213" height="542" fill="#fff"/><circle cx="125" cy="63" r="12" fill="#000"/><circle cx="172" cy="58" r="7" fill="#000"/><rect x="32" y="133" width="213" height="52" fill="#4a4a4a"/><path d="M36 143 l14 30 l14 -30" fill="none" stroke="#ddd" stroke-width="6"/><path d="M71 143 l14 30 l14 -30" fill="none" stroke="#ddd" stroke-width="6"/><path d="M106 143 l14 30 l14 -30" fill="none" stroke="#ddd" stroke-width="6"/><path d="M141 143 l14 30 l14 -30" fill="none" stroke="#ddd" stroke-width="6"/><path d="M176 143 l14 30 l14 -30" fill="none" stroke="#ddd" stroke-width="6"/><path d="M211 143 l14 30 l14 -30" fill="none" stroke="#ddd" stroke-width="6"/><rect x="32" y="195" width="213" height="50" fill="#4a4a4a"/><path d="M36 205 l14 28 l14 -28" fill="none" stroke="#ddd" stroke-width="6"/><path d="M71 205 l14 28 l14 -28" fill="none" stroke="#ddd" stroke-width="6"/><path d="M106 205 l14 28 l14 -28" fill="none" stroke="#ddd" stroke-width="6"/><path d="M141 205 l14 28 l14 -28" fill="none" stroke="#ddd" stroke-width="6"/><path d="M176 205 l14 28 l14 -28" fill="none" stroke="#ddd" stroke-width="6"/><path d="M211 205 l14 28 l14 -28" fill="none" stroke="#ddd" stroke-width="6"/><rect x="32" y="463" width="213" height="54" fill="#4a4a4a"/><path d="M36 473 l14 32 l14 -32" fill="none" stroke="#ddd" stroke-width="6"/><path d="M71 473 l14 32 l14 -32" fill="none" stroke="#ddd" stroke-width="6"/><path d="M106 473 l14 32 l14 -32" fill="none" stroke="#ddd" stroke-width="6"/><path d="M141 473 l14 32 l14 -32" fill="none" stroke="#ddd" stroke-width="6"/><path d="M176 473 l14 32 l14 -32" fill="none" stroke="#ddd" stroke-width="6"/><path d="M211 473 l14 32 l14 -32" fill="none" stroke="#ddd" stroke-width="6"/><rect x="32" y="185" width="213" height="10" fill="#fff"/><circle cx="187" cy="287" r="8" fill="#000"/><circle cx="187" cy="330" r="8" fill="#000"/><rect x="225" y="265" width="10" height="80" fill="#bbb"/><rect x="62" y="360" width="23" height="60" rx="6" fill="#000"/><rect x="100" y="360" width="23" height="60" rx="6" fill="#000"/><rect x="172" y="360" width="23" height="60" rx="6" fill="#000"/><rect x="208" y="360" width="23" height="60" rx="6" fill="#000"/></g>
<g transform="translate(124.1 884.2) scale(0.09259)"><rect x="0" y="0" width="280" height="567" rx="8" fill="#000"/><rect x="32" y="13" width="213" height="542" fill="#fff"/><circle cx="125" cy="63" r="12" fill="#000"/><circle cx="172" cy="58" r="7" fill="#000"/><rect x="32" y="133" width="213" height="52" fill="#4a4a4a"/><path d="M36 143 l14 30 l14 -30" fill="none" stroke="#ddd" stroke-width="6"/><path d="M71 143 l14 30 l14 -30" fill="none" stroke="#ddd" stroke-width="6"/><path d="M106 143 l14 30 l14 -30" fill="none" stroke="#ddd" stroke-width="6"/><path d="M141 143 l14 30 l14 -30" fill="none" stroke="#ddd" stroke-width="6"/><path d="M176 143 l14 30 l14 -30" fill="none" stroke="#ddd" stroke-width="6"/><path d="M211 143 l14 30 l14 -30" fill="none" stroke="#ddd" stroke-width="6"/><rect x="32" y="195" width="213" height="50" fill="#4a4a4a"/><path d="M36 205 l14 28 l14 -28" fill="none" stroke="#ddd" stroke-width="6"/><path d="M71 205 l14 28 l14 -28" fill="none" stroke="#ddd" stroke-width="6"/><path d="M106 205 l14 28 l14 -28" fill="none" stroke="#ddd" stroke-width="6"/><path d="M141 205 l14 28 l14 -28" fill="none" stroke="#ddd" stroke-width="6"/><path d="M176 205 l14 28 l14 -28" fill="none" stroke="#ddd" stroke-width="6"/><path d="M211 205 l14 28 l14 -28" fill="none" stroke="#ddd" stroke-width="6"/><rect x="32" y="463" width="213" height="54" fill="#4a4a4a"/><path d="M36 473 l14 32 l14 -32" fill="none" stroke="#ddd" stroke-width="6"/><path d="M71 473 l14 32 l14 -32" fill="none" stroke="#ddd" stroke-width="6"/><path d="M106 473 l14 32 l14 -32" fill="none" stroke="#ddd" stroke-width="6"/><path d="M141 473 l14 32 l14 -32" fill="none" stroke="#ddd" stroke-width="6"/><path d="M176 473 l14 32 l14 -32" fill="none" stroke="#ddd" stroke-width="6"/><path d="M211 473 l14 32 l14 -32" fill="none" stroke="#ddd" stroke-width="6"/><rect x="32" y="185" width="213" height="10" fill="#fff"/><circle cx="187" cy="287" r="8" fill="#000"/><circle cx="187" cy="330" r="8" fill="#000"/><rect x="225" y="265" width="10" height="80" fill="#bbb"/><rect x="62" y="360" width="23" height="60" rx="6" fill="#000"/><rect x="100" y="360" width="23" height="60" rx="6" fill="#000"/><rect x="172" y="360" width="23" height="60" rx="6" fill="#000"/><rect x="208" y="360" width="23" height="60" rx="6" fill="#000"/></g>
<g transform="translate(200.01 650.05) scale(0.09259)"><polygon points="150,145 262,200 268,345 155,238" fill="#2b2b2d"/><polygon points="150,145 665,128 958,180 262,200" fill="#3b3b3e"/><polygon points="262,200 958,180 945,300 268,345" fill="#323234"/><polygon points="262,200 958,180 958,190 262,212" fill="#1c1c1e"/><polygon points="275,232 400,226 402,305 280,322" fill="#3e3e41"/><polygon points="545,226 725,220 725,285 545,295" fill="#1a1a1c"/><polygon points="600,236 675,233 675,256 600,259" fill="#7fbf8a"/><polygon points="268,335 945,292 945,302 268,347" fill="#1e1e20"/></g>
<g transform="translate(200.01 730.95) scale(0.09259)"><polygon points="150,145 262,200 268,345 155,238" fill="#2b2b2d"/><polygon points="150,145 665,128 958,180 262,200" fill="#3b3b3e"/><polygon points="262,200 958,180 945,300 268,345" fill="#323234"/><polygon points="262,200 958,180 958,190 262,212" fill="#1c1c1e"/><polygon points="275,232 400,226 402,305 280,322" fill="#3e3e41"/><polygon points="545,226 725,220 725,285 545,295" fill="#1a1a1c"/><polygon points="600,236 675,233 675,256 600,259" fill="#7fbf8a"/><polygon points="268,335 945,292 945,302 268,347" fill="#1e1e20"/></g>
<g transform="translate(200.01 810.95) scale(0.09259)"><polygon points="150,145 262,200 268,345 155,238" fill="#2b2b2d"/><polygon points="150,145 665,128 958,180 262,200" fill="#3b3b3e"/><polygon points="262,200 958,180 945,300 268,345" fill="#323234"/><polygon points="262,200 958,180 958,190 262,212" fill="#1c1c1e"/><polygon points="275,232 400,226 402,305 280,322" fill="#3e3e41"/><polygon points="545,226 725,220 725,285 545,295" fill="#1a1a1c"/><polygon points="600,236 675,233 675,256 600,259" fill="#7fbf8a"/><polygon points="268,335 945,292 945,302 268,347" fill="#1e1e20"/></g>
<g transform="translate(200.01 891.15) scale(0.09259)"><polygon points="150,145 262,200 268,345 155,238" fill="#2b2b2d"/><polygon points="150,145 665,128 958,180 262,200" fill="#3b3b3e"/><polygon points="262,200 958,180 945,300 268,345" fill="#323234"/><polygon points="262,200 958,180 958,190 262,212" fill="#1c1c1e"/><polygon points="275,232 400,226 402,305 280,322" fill="#3e3e41"/><polygon points="545,226 725,220 725,285 545,295" fill="#1a1a1c"/><polygon points="600,236 675,233 675,256 600,259" fill="#7fbf8a"/><polygon points="268,335 945,292 945,302 268,347" fill="#1e1e20"/></g>
<g transform="translate(666.11 794.35) scale(0.09259)"><polygon points="150,146.44 262,206.09 268,363.35 155,247.3" fill="#2b2b2d"/><polygon points="150,146.44 665,128 958,184.4 262,206.09" fill="#3b3b3e"/><polygon points="262,206.09 958,184.4 945,314.55 268,363.35" fill="#323234"/><polygon points="262,206.09 958,184.4 958,195.24 262,219.1" fill="#1c1c1e"/><polygon points="275,240.8 400,234.29 402,319.97 280,338.41" fill="#3e3e41"/><polygon points="545,234.29 725,227.78 725,298.28 545,309.12" fill="#1a1a1c"/><polygon points="600,245.13 675,241.88 675,266.83 600,270.08" fill="#7fbf8a"/><polygon points="268,352.51 945,305.87 945,316.72 268,365.52" fill="#1e1e20"/></g>
<g transform="translate(666.11 884.35) scale(0.09259)"><polygon points="150,146.44 262,206.09 268,363.35 155,247.3" fill="#2b2b2d"/><polygon points="150,146.44 665,128 958,184.4 262,206.09" fill="#3b3b3e"/><polygon points="262,206.09 958,184.4 945,314.55 268,363.35" fill="#323234"/><polygon points="262,206.09 958,184.4 958,195.24 262,219.1" fill="#1c1c1e"/><polygon points="275,240.8 400,234.29 402,319.97 280,338.41" fill="#3e3e41"/><polygon points="545,234.29 725,227.78 725,298.28 545,309.12" fill="#1a1a1c"/><polygon points="600,245.13 675,241.88 675,266.83 600,270.08" fill="#7fbf8a"/><polygon points="268,352.51 945,305.87 945,316.72 268,365.52" fill="#1e1e20"/></g>
<g transform="translate(455 550) scale(0.13889)"><polygon points="88,122 530,82 975,135 485,195" fill="#2f2f30"/><polygon points="88,122 485,195 470,490 98,352" fill="#4b4b4c"/><polygon points="118,158 245,182 245,368 122,330" fill="#3c3c3d"/><polygon points="280,192 420,218 418,340 282,300" fill="#414142"/><polygon points="485,195 975,135 975,230 492,292" fill="#636466"/><polygon points="492,292 975,230 975,365 472,490" fill="#4e4f51"/><g clip-path="url(#cpBand)"><line x1="430" y1="500" x2="560" y2="230" stroke="#5c5d60" stroke-width="6"/><line x1="460" y1="500" x2="590" y2="230" stroke="#5c5d60" stroke-width="6"/><line x1="490" y1="500" x2="620" y2="230" stroke="#5c5d60" stroke-width="6"/><line x1="520" y1="500" x2="650" y2="230" stroke="#5c5d60" stroke-width="6"/><line x1="550" y1="500" x2="680" y2="230" stroke="#5c5d60" stroke-width="6"/><line x1="580" y1="500" x2="710" y2="230" stroke="#5c5d60" stroke-width="6"/><line x1="610" y1="500" x2="740" y2="230" stroke="#5c5d60" stroke-width="6"/><line x1="640" y1="500" x2="770" y2="230" stroke="#5c5d60" stroke-width="6"/><line x1="670" y1="500" x2="800" y2="230" stroke="#5c5d60" stroke-width="6"/><line x1="700" y1="500" x2="830" y2="230" stroke="#5c5d60" stroke-width="6"/><line x1="730" y1="500" x2="860" y2="230" stroke="#5c5d60" stroke-width="6"/><line x1="760" y1="500" x2="890" y2="230" stroke="#5c5d60" stroke-width="6"/><line x1="790" y1="500" x2="920" y2="230" stroke="#5c5d60" stroke-width="6"/><line x1="820" y1="500" x2="950" y2="230" stroke="#5c5d60" stroke-width="6"/><line x1="850" y1="500" x2="980" y2="230" stroke="#5c5d60" stroke-width="6"/><line x1="880" y1="500" x2="1010" y2="230" stroke="#5c5d60" stroke-width="6"/><line x1="910" y1="500" x2="1040" y2="230" stroke="#5c5d60" stroke-width="6"/><line x1="940" y1="500" x2="1070" y2="230" stroke="#5c5d60" stroke-width="6"/><line x1="970" y1="500" x2="1100" y2="230" stroke="#5c5d60" stroke-width="6"/><line x1="1000" y1="500" x2="1130" y2="230" stroke="#5c5d60" stroke-width="6"/><line x1="1030" y1="500" x2="1160" y2="230" stroke="#5c5d60" stroke-width="6"/><line x1="1060" y1="500" x2="1190" y2="230" stroke="#5c5d60" stroke-width="6"/></g><polygon points="472,196 492,194 482,492 462,486" fill="#1a1a1a"/><polygon points="808,166 890,156 893,236 814,247" fill="url(#gScr)" stroke="#8a8a8a" stroke-width="5"/><polygon points="845,195 868,192 869,214 846,217" fill="#e9d23a"/><polygon points="845,195 857,194 857,205 845,206" fill="#e0452c"/><line x1="492" y1="292" x2="975" y2="230" stroke="#2a2a2b" stroke-width="5"/></g>
<g transform="translate(455.3 836) scale(0.13889)"><polygon points="88,122 530,82 975,135 485,195" fill="#2f2f30"/><polygon points="88,122 485,195 470,490 98,352" fill="#4b4b4c"/><polygon points="118,158 245,182 245,368 122,330" fill="#3c3c3d"/><polygon points="280,192 420,218 418,340 282,300" fill="#414142"/><polygon points="485,195 975,135 975,230 492,292" fill="#636466"/><polygon points="492,292 975,230 975,365 472,490" fill="#4e4f51"/><g clip-path="url(#cpBand)"><line x1="430" y1="500" x2="560" y2="230" stroke="#5c5d60" stroke-width="6"/><line x1="460" y1="500" x2="590" y2="230" stroke="#5c5d60" stroke-width="6"/><line x1="490" y1="500" x2="620" y2="230" stroke="#5c5d60" stroke-width="6"/><line x1="520" y1="500" x2="650" y2="230" stroke="#5c5d60" stroke-width="6"/><line x1="550" y1="500" x2="680" y2="230" stroke="#5c5d60" stroke-width="6"/><line x1="580" y1="500" x2="710" y2="230" stroke="#5c5d60" stroke-width="6"/><line x1="610" y1="500" x2="740" y2="230" stroke="#5c5d60" stroke-width="6"/><line x1="640" y1="500" x2="770" y2="230" stroke="#5c5d60" stroke-width="6"/><line x1="670" y1="500" x2="800" y2="230" stroke="#5c5d60" stroke-width="6"/><line x1="700" y1="500" x2="830" y2="230" stroke="#5c5d60" stroke-width="6"/><line x1="730" y1="500" x2="860" y2="230" stroke="#5c5d60" stroke-width="6"/><line x1="760" y1="500" x2="890" y2="230" stroke="#5c5d60" stroke-width="6"/><line x1="790" y1="500" x2="920" y2="230" stroke="#5c5d60" stroke-width="6"/><line x1="820" y1="500" x2="950" y2="230" stroke="#5c5d60" stroke-width="6"/><line x1="850" y1="500" x2="980" y2="230" stroke="#5c5d60" stroke-width="6"/><line x1="880" y1="500" x2="1010" y2="230" stroke="#5c5d60" stroke-width="6"/><line x1="910" y1="500" x2="1040" y2="230" stroke="#5c5d60" stroke-width="6"/><line x1="940" y1="500" x2="1070" y2="230" stroke="#5c5d60" stroke-width="6"/><line x1="970" y1="500" x2="1100" y2="230" stroke="#5c5d60" stroke-width="6"/><line x1="1000" y1="500" x2="1130" y2="230" stroke="#5c5d60" stroke-width="6"/><line x1="1030" y1="500" x2="1160" y2="230" stroke="#5c5d60" stroke-width="6"/><line x1="1060" y1="500" x2="1190" y2="230" stroke="#5c5d60" stroke-width="6"/></g><polygon points="472,196 492,194 482,492 462,486" fill="#1a1a1a"/><polygon points="808,166 890,156 893,236 814,247" fill="url(#gScr)" stroke="#8a8a8a" stroke-width="5"/><polygon points="845,195 868,192 869,214 846,217" fill="#e9d23a"/><polygon points="845,195 857,194 857,205 845,206" fill="#e0452c"/><line x1="492" y1="292" x2="975" y2="230" stroke="#2a2a2b" stroke-width="5"/></g>
<g transform="translate(455 695) scale(0.13889)"><polygon points="65,105 100,80 890,80 940,105 940,222 65,222" fill="#000"/><rect x="202" y="132" width="174" height="66" fill="#fff"/><rect x="210" y="138" width="19" height="20" rx="6" fill="#000"/><rect x="237" y="138" width="19" height="20" rx="6" fill="#000"/><rect x="265" y="138" width="19" height="20" rx="6" fill="#000"/><rect x="292" y="138" width="19" height="20" rx="6" fill="#000"/><rect x="320" y="138" width="19" height="20" rx="6" fill="#000"/><rect x="347" y="138" width="19" height="20" rx="6" fill="#000"/><rect x="210" y="169" width="19" height="20" rx="6" fill="#000"/><rect x="237" y="169" width="19" height="20" rx="6" fill="#000"/><rect x="265" y="169" width="19" height="20" rx="6" fill="#000"/><rect x="292" y="169" width="19" height="20" rx="6" fill="#000"/><rect x="320" y="169" width="19" height="20" rx="6" fill="#000"/><rect x="347" y="169" width="19" height="20" rx="6" fill="#000"/><rect x="202" y="162" width="174" height="5" fill="#000"/><rect x="388" y="132" width="174" height="66" fill="#fff"/><rect x="396" y="138" width="19" height="20" rx="6" fill="#000"/><rect x="423" y="138" width="19" height="20" rx="6" fill="#000"/><rect x="451" y="138" width="19" height="20" rx="6" fill="#000"/><rect x="478" y="138" width="19" height="20" rx="6" fill="#000"/><rect x="506" y="138" width="19" height="20" rx="6" fill="#000"/><rect x="533" y="138" width="19" height="20" rx="6" fill="#000"/><rect x="396" y="169" width="19" height="20" rx="6" fill="#000"/><rect x="423" y="169" width="19" height="20" rx="6" fill="#000"/><rect x="451" y="169" width="19" height="20" rx="6" fill="#000"/><rect x="478" y="169" width="19" height="20" rx="6" fill="#000"/><rect x="506" y="169" width="19" height="20" rx="6" fill="#000"/><rect x="533" y="169" width="19" height="20" rx="6" fill="#000"/><rect x="388" y="162" width="174" height="5" fill="#000"/><rect x="570" y="132" width="174" height="66" fill="#fff"/><rect x="578" y="138" width="19" height="20" rx="6" fill="#000"/><rect x="605" y="138" width="19" height="20" rx="6" fill="#000"/><rect x="633" y="138" width="19" height="20" rx="6" fill="#000"/><rect x="660" y="138" width="19" height="20" rx="6" fill="#000"/><rect x="688" y="138" width="19" height="20" rx="6" fill="#000"/><rect x="715" y="138" width="19" height="20" rx="6" fill="#000"/><rect x="578" y="169" width="19" height="20" rx="6" fill="#000"/><rect x="605" y="169" width="19" height="20" rx="6" fill="#000"/><rect x="633" y="169" width="19" height="20" rx="6" fill="#000"/><rect x="660" y="169" width="19" height="20" rx="6" fill="#000"/><rect x="688" y="169" width="19" height="20" rx="6" fill="#000"/><rect x="715" y="169" width="19" height="20" rx="6" fill="#000"/><rect x="570" y="162" width="174" height="5" fill="#000"/><rect x="750" y="132" width="174" height="66" fill="#fff"/><rect x="758" y="138" width="19" height="20" rx="6" fill="#000"/><rect x="785" y="138" width="19" height="20" rx="6" fill="#000"/><rect x="813" y="138" width="19" height="20" rx="6" fill="#000"/><rect x="840" y="138" width="19" height="20" rx="6" fill="#000"/><rect x="868" y="138" width="19" height="20" rx="6" fill="#000"/><rect x="895" y="138" width="19" height="20" rx="6" fill="#000"/><rect x="758" y="169" width="19" height="20" rx="6" fill="#000"/><rect x="785" y="169" width="19" height="20" rx="6" fill="#000"/><rect x="813" y="169" width="19" height="20" rx="6" fill="#000"/><rect x="840" y="169" width="19" height="20" rx="6" fill="#000"/><rect x="868" y="169" width="19" height="20" rx="6" fill="#000"/><rect x="895" y="169" width="19" height="20" rx="6" fill="#000"/><rect x="750" y="162" width="174" height="5" fill="#000"/><rect x="130" y="143" width="25" height="22" rx="9" fill="#fff"/><rect x="130" y="168" width="25" height="22" rx="9" fill="#fff"/><rect x="163" y="143" width="25" height="22" rx="9" fill="#fff"/><rect x="163" y="168" width="25" height="22" rx="9" fill="#fff"/></g>
<g transform="translate(610 620) scale(0.12806)"><polygon points="120,100 150,78 670,78 695,100 695,155 120,155" fill="#000"/><rect x="135" y="108" width="110" height="37" fill="#fff"/><rect x="320" y="119" width="250" height="18" rx="9" fill="#fff"/><rect x="347" y="119" width="7" height="18" fill="#000"/><rect x="377" y="119" width="7" height="18" fill="#000"/><rect x="407" y="119" width="7" height="18" fill="#000"/><rect x="437" y="119" width="7" height="18" fill="#000"/><rect x="467" y="119" width="7" height="18" fill="#000"/><rect x="497" y="119" width="7" height="18" fill="#000"/><rect x="527" y="119" width="7" height="18" fill="#000"/><rect x="585" y="108" width="100" height="40" rx="12" fill="#fff"/><circle cx="625" cy="128" r="15" fill="#000"/></g>
<g transform="translate(610 620) scale(0.12806)"><polygon points="265,720 510,720 590,812 170,812" fill="#fff" stroke="#000" stroke-width="13" stroke-linejoin="round"/><rect x="165" y="805" width="430" height="27" rx="8" fill="#000"/><line x1="330" y1="720" x2="280" y2="505" stroke="#000" stroke-width="14"/><line x1="385" y1="720" x2="385" y2="498" stroke="#000" stroke-width="14"/><line x1="445" y1="720" x2="490" y2="505" stroke="#000" stroke-width="14"/><circle cx="578" cy="633" r="7" fill="#000"/><path d="M593.74 612.19 A28 28 0 0 1 593.74 653.81" fill="none" stroke="#000" stroke-width="12"/><path d="M611.8 592.13 A55 55 0 0 1 611.8 673.87" fill="none" stroke="#000" stroke-width="12"/><path d="M631.88 569.83 A85 85 0 0 1 631.88 696.17" fill="none" stroke="#000" stroke-width="12"/></g>
<g transform="translate(740 660) scale(0.20371)"><rect x="40" y="110" width="302" height="185" fill="#000"/><rect x="55" y="122" width="273" height="161" fill="url(#gMon)"/><rect x="175" y="295" width="35" height="18" fill="#000"/><rect x="148" y="311" width="87" height="11" fill="#000"/></g>
<g transform="translate(811.3 672.2) scale(0.09259)"><rect x="0" y="0" width="280" height="567" rx="8" fill="#000"/><rect x="32" y="13" width="213" height="542" fill="#fff"/><circle cx="125" cy="63" r="12" fill="#000"/><circle cx="172" cy="58" r="7" fill="#000"/><rect x="32" y="133" width="213" height="52" fill="#4a4a4a"/><path d="M36 143 l14 30 l14 -30" fill="none" stroke="#ddd" stroke-width="6"/><path d="M71 143 l14 30 l14 -30" fill="none" stroke="#ddd" stroke-width="6"/><path d="M106 143 l14 30 l14 -30" fill="none" stroke="#ddd" stroke-width="6"/><path d="M141 143 l14 30 l14 -30" fill="none" stroke="#ddd" stroke-width="6"/><path d="M176 143 l14 30 l14 -30" fill="none" stroke="#ddd" stroke-width="6"/><path d="M211 143 l14 30 l14 -30" fill="none" stroke="#ddd" stroke-width="6"/><rect x="32" y="195" width="213" height="50" fill="#4a4a4a"/><path d="M36 205 l14 28 l14 -28" fill="none" stroke="#ddd" stroke-width="6"/><path d="M71 205 l14 28 l14 -28" fill="none" stroke="#ddd" stroke-width="6"/><path d="M106 205 l14 28 l14 -28" fill="none" stroke="#ddd" stroke-width="6"/><path d="M141 205 l14 28 l14 -28" fill="none" stroke="#ddd" stroke-width="6"/><path d="M176 205 l14 28 l14 -28" fill="none" stroke="#ddd" stroke-width="6"/><path d="M211 205 l14 28 l14 -28" fill="none" stroke="#ddd" stroke-width="6"/><rect x="32" y="463" width="213" height="54" fill="#4a4a4a"/><path d="M36 473 l14 32 l14 -32" fill="none" stroke="#ddd" stroke-width="6"/><path d="M71 473 l14 32 l14 -32" fill="none" stroke="#ddd" stroke-width="6"/><path d="M106 473 l14 32 l14 -32" fill="none" stroke="#ddd" stroke-width="6"/><path d="M141 473 l14 32 l14 -32" fill="none" stroke="#ddd" stroke-width="6"/><path d="M176 473 l14 32 l14 -32" fill="none" stroke="#ddd" stroke-width="6"/><path d="M211 473 l14 32 l14 -32" fill="none" stroke="#ddd" stroke-width="6"/><rect x="32" y="185" width="213" height="10" fill="#fff"/><circle cx="187" cy="287" r="8" fill="#000"/><circle cx="187" cy="330" r="8" fill="#000"/><rect x="225" y="265" width="10" height="80" fill="#bbb"/><rect x="62" y="360" width="23" height="60" rx="6" fill="#000"/><rect x="100" y="360" width="23" height="60" rx="6" fill="#000"/><rect x="172" y="360" width="23" height="60" rx="6" fill="#000"/><rect x="208" y="360" width="23" height="60" rx="6" fill="#000"/></g>
<rect x="894.8" y="684" width="54" height="42.2" rx="5" fill="#000"/><rect x="902.4" y="688.1" width="41.3" height="33.6" rx="1" fill="#fff"/><circle cx="898.6" cy="705.2" r="1.8" fill="#fff"/>
<rect x="792.2" y="516.1" width="180.9" height="106.1" fill="#000"/><rect x="795.5" y="519" width="174.6" height="100.7" fill="url(#gWall)"/><rect x="852.15" y="519" width="1.5" height="100.7" fill="#fff"/><rect x="911.45" y="519" width="1.5" height="100.7" fill="#fff"/><rect x="795.5" y="550.35" width="174.6" height="1.5" fill="#fff"/><rect x="795.5" y="584.95" width="174.6" height="1.5" fill="#fff"/>
<g transform="translate(670 760) scale(0.28703)"><polygon points="600,40 738,33 738,118 600,132" fill="#000"/><polygon points="745,33 882,33 882,120 745,120" fill="#000"/><polygon points="888,33 1027,40 1027,132 888,118" fill="#000"/><polygon points="660,124 676,122 676,140 660,140" fill="#000"/><polygon points="643,141 695,136 697,146 645,151" fill="#000"/><rect x="805" y="120" width="16" height="13" fill="#000"/><rect x="789" y="132" width="48" height="10" fill="#000"/><polygon points="952,122 968,124 968,140 952,140" fill="#000"/><polygon points="933,136 985,141 983,151 931,146" fill="#000"/><rect x="755" y="178" width="100" height="27" rx="3" fill="#000"/><rect x="762" y="184" width="6" height="5" fill="#777"/><rect x="773" y="184" width="6" height="5" fill="#777"/><rect x="784" y="184" width="6" height="5" fill="#777"/><rect x="795" y="184" width="6" height="5" fill="#777"/><rect x="806" y="184" width="6" height="5" fill="#777"/><rect x="817" y="184" width="6" height="5" fill="#777"/><rect x="828" y="184" width="6" height="5" fill="#777"/><rect x="839" y="184" width="6" height="5" fill="#777"/><rect x="762" y="193" width="6" height="5" fill="#777"/><rect x="773" y="193" width="6" height="5" fill="#777"/><rect x="784" y="193" width="6" height="5" fill="#777"/><rect x="795" y="193" width="6" height="5" fill="#777"/><rect x="806" y="193" width="6" height="5" fill="#777"/><rect x="817" y="193" width="6" height="5" fill="#777"/><rect x="828" y="193" width="6" height="5" fill="#777"/><rect x="839" y="193" width="6" height="5" fill="#777"/><rect x="785" y="198" width="30" height="5" fill="#fff"/><ellipse cx="873" cy="190" rx="10" ry="14" fill="#000"/><rect x="871" y="178" width="4" height="8" fill="#888"/></g>
<g transform="translate(670 853.2) scale(0.28703)"><polygon points="600,40 738,33 738,118 600,132" fill="#000"/><polygon points="745,33 882,33 882,120 745,120" fill="#000"/><polygon points="888,33 1027,40 1027,132 888,118" fill="#000"/><polygon points="660,124 676,122 676,140 660,140" fill="#000"/><polygon points="643,141 695,136 697,146 645,151" fill="#000"/><rect x="805" y="120" width="16" height="13" fill="#000"/><rect x="789" y="132" width="48" height="10" fill="#000"/><polygon points="952,122 968,124 968,140 952,140" fill="#000"/><polygon points="933,136 985,141 983,151 931,146" fill="#000"/><rect x="755" y="178" width="100" height="27" rx="3" fill="#000"/><rect x="762" y="184" width="6" height="5" fill="#777"/><rect x="773" y="184" width="6" height="5" fill="#777"/><rect x="784" y="184" width="6" height="5" fill="#777"/><rect x="795" y="184" width="6" height="5" fill="#777"/><rect x="806" y="184" width="6" height="5" fill="#777"/><rect x="817" y="184" width="6" height="5" fill="#777"/><rect x="828" y="184" width="6" height="5" fill="#777"/><rect x="839" y="184" width="6" height="5" fill="#777"/><rect x="762" y="193" width="6" height="5" fill="#777"/><rect x="773" y="193" width="6" height="5" fill="#777"/><rect x="784" y="193" width="6" height="5" fill="#777"/><rect x="795" y="193" width="6" height="5" fill="#777"/><rect x="806" y="193" width="6" height="5" fill="#777"/><rect x="817" y="193" width="6" height="5" fill="#777"/><rect x="828" y="193" width="6" height="5" fill="#777"/><rect x="839" y="193" width="6" height="5" fill="#777"/><rect x="785" y="198" width="30" height="5" fill="#fff"/><ellipse cx="873" cy="190" rx="10" ry="14" fill="#000"/><rect x="871" y="178" width="4" height="8" fill="#888"/></g>
<text class="lbl" x="147.5" y="625.4">IPC摄像头</text>
<text class="lbl" x="137.6" y="696">摄像头</text>
<text class="lbl" x="136.6" y="778.7">电脑主机1</text>
<text class="lbl" x="136.6" y="867.1">电脑主机2</text>
<text class="lbl" x="136.6" y="954.6">电脑主机3</text>
<text class="lbl" x="254.4" y="695.9">输入节点</text>
<text class="lbl" x="254.4" y="776.4">输入节点</text>
<text class="lbl" x="254.4" y="856.4">输入节点</text>
<text class="lbl" x="254.4" y="936.4">输入节点</text>
<text class="lbl" x="524.4" y="637">KVM拼接主机</text>
<text class="lbl" x="532.8" y="740.8">网络交换机</text>
<text class="lbl" x="664.4" y="656.6">网络中控主机</text>
<text class="lbl" x="658.3" y="740.6">无线路由器</text>
<text class="lbl" x="798.4" y="740.8">系统管理电脑</text>
<text class="lbl" x="922.8" y="740.8">平板控制端</text>
<text class="lbl" x="890.3" y="639.4">拼接屏</text>
<text class="lbl" x="537" y="934.6">分布式KVM系统主机</text>
<text class="lbl" x="722" y="843.6">输出节点</text>
<text class="lbl" x="722" y="935">输出节点</text>
<text class="lbl" x="916.8" y="843.6">坐席鼠标键盘</text>
<text class="lbl" x="916.8" y="935">坐席鼠标键盘</text>
</g>

<!-- bottom bars -->
<rect x="2" y="975.5" width="418" height="37.5" fill="#b59b76"/>
<rect x="426.3" y="975.5" width="650.5" height="37.5" fill="#767676"/>
</svg>
</body>
</html>
